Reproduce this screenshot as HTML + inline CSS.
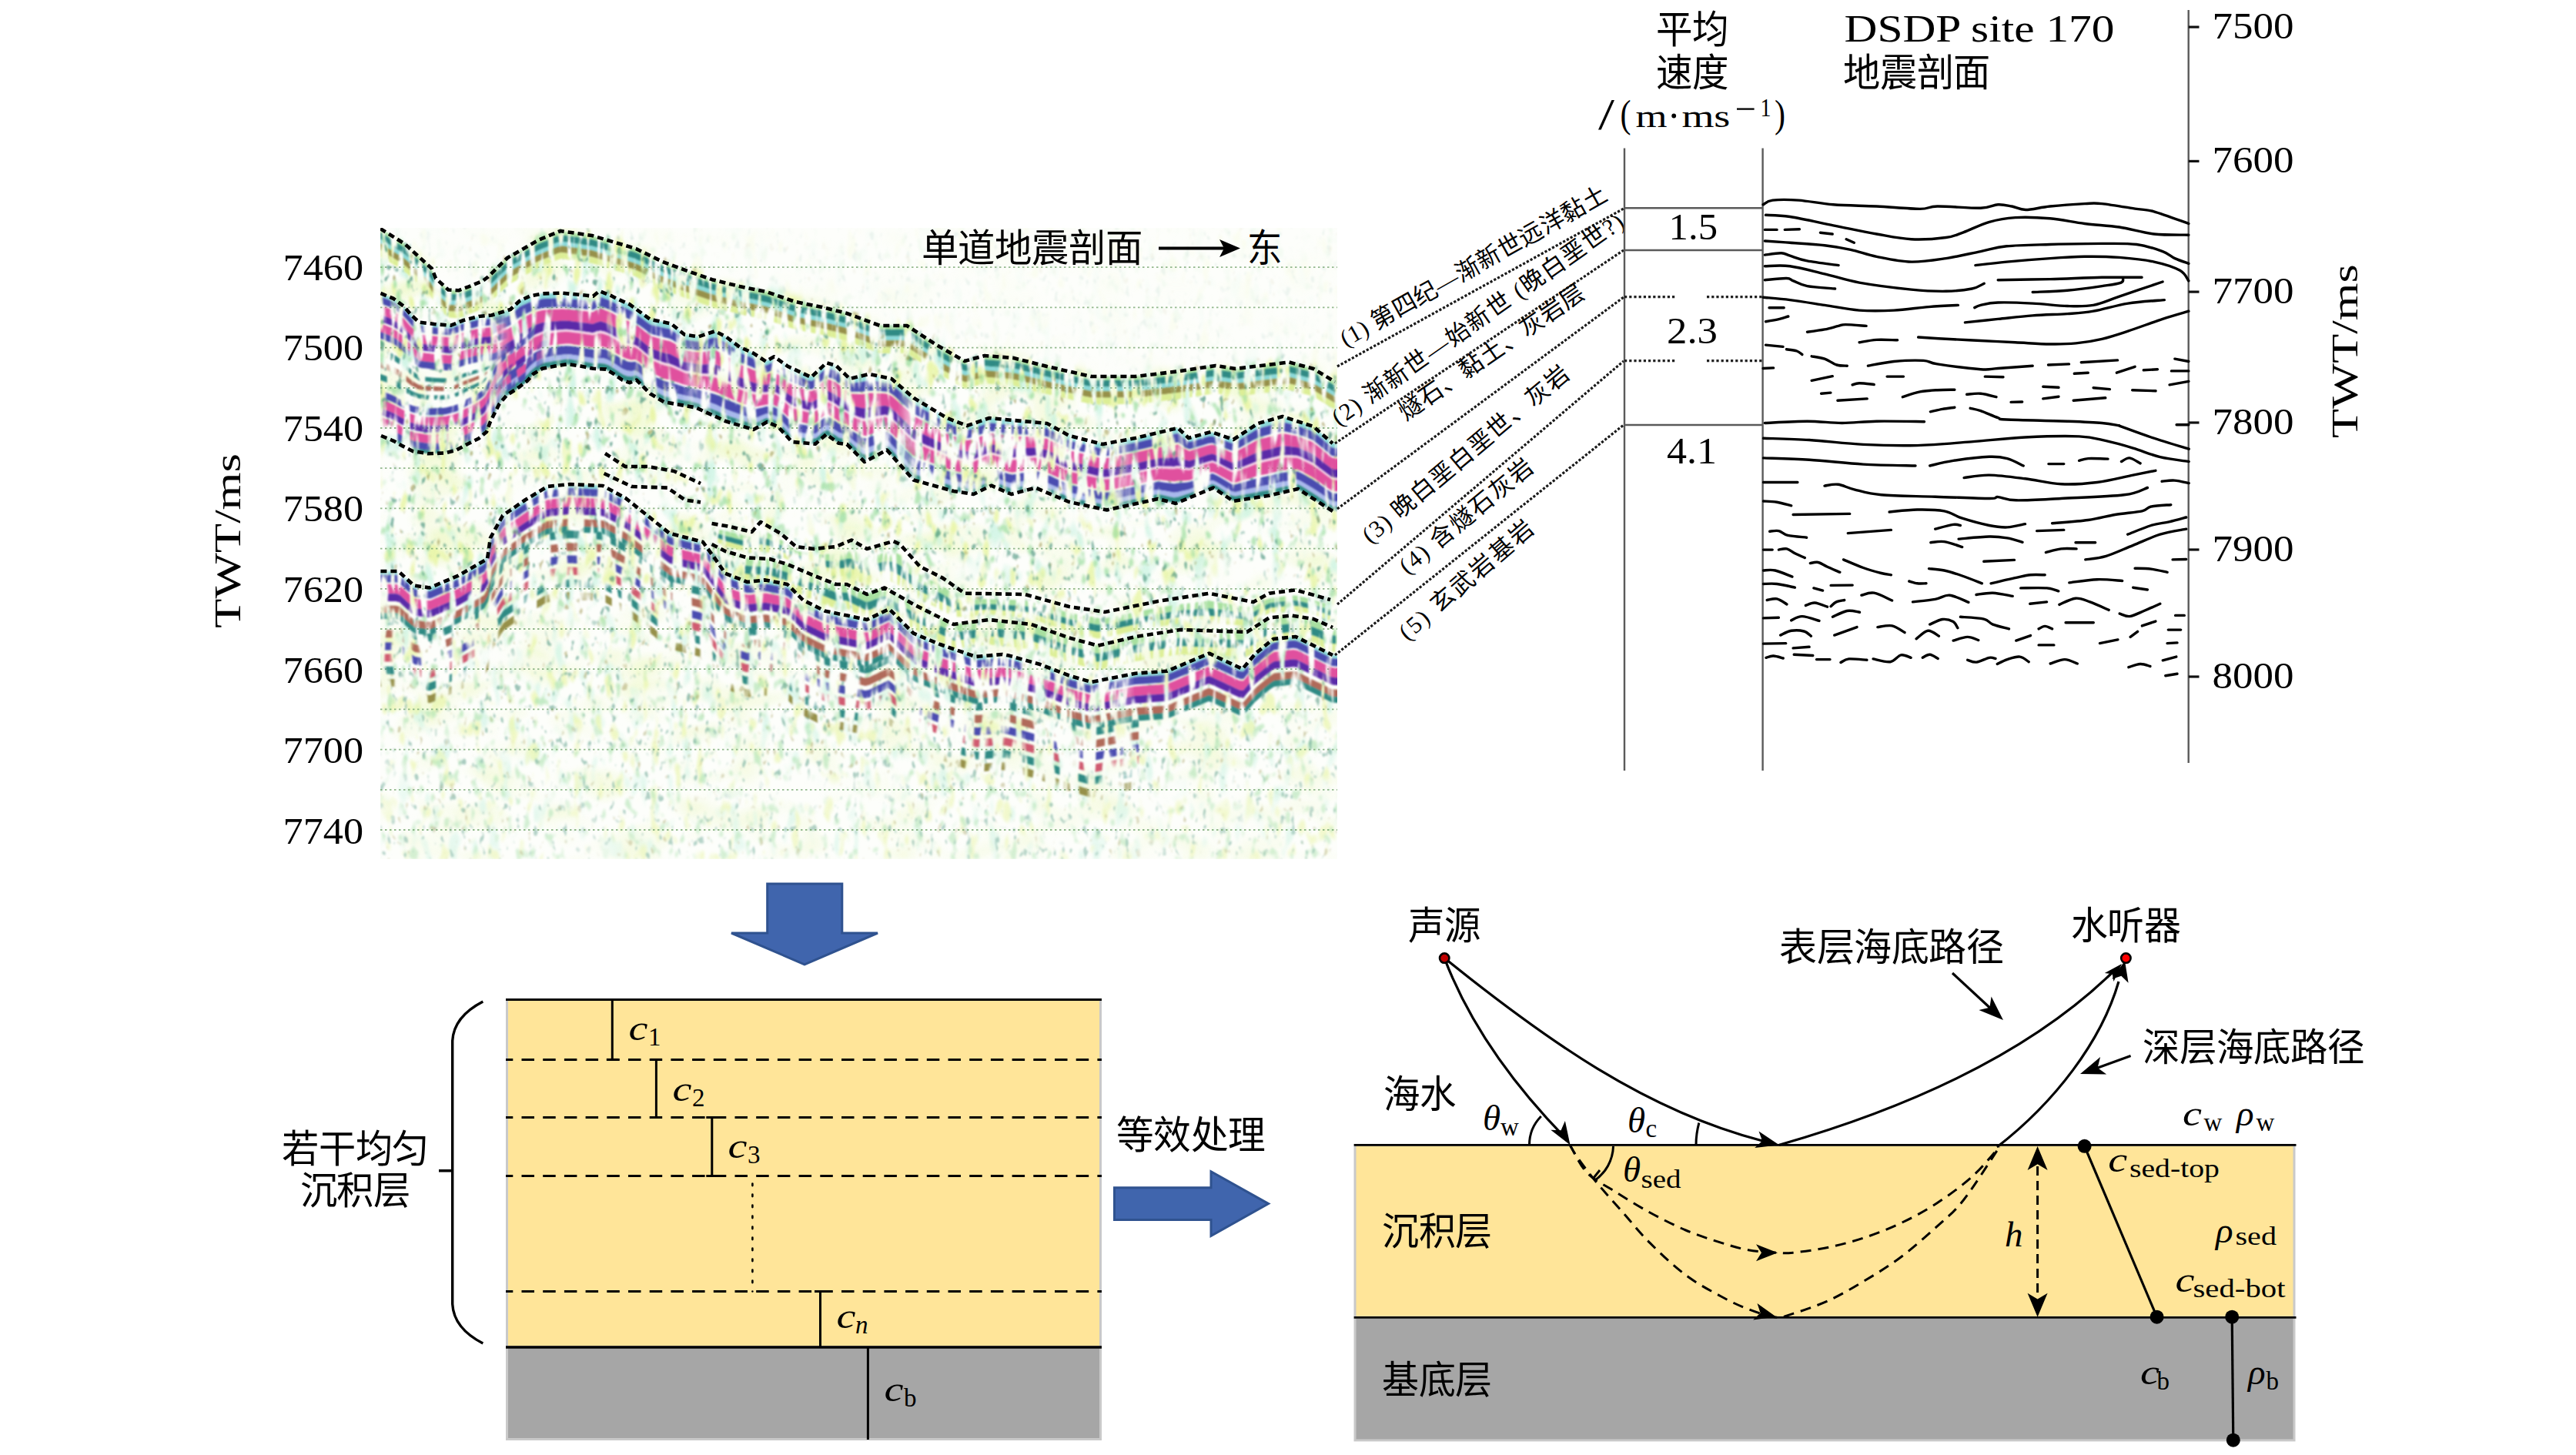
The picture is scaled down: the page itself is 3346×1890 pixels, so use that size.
<!DOCTYPE html><html lang="zh-CN"><head><meta charset="utf-8"><title>fig</title><style>html,body{margin:0;padding:0;background:#fff;}svg{display:block;}text{font-family:"Liberation Serif",serif;fill:#000;}</style></head><body>
<svg width="3346" height="1890" viewBox="0 0 3346 1890">
<rect width="3346" height="1890" fill="#fff"/>
<defs>
<clipPath id="sclip"><rect x="494" y="296" width="1243" height="820"/></clipPath>
<filter id="spk0" x="0" y="0" width="100%" height="100%" color-interpolation-filters="sRGB"><feTurbulence type="fractalNoise" baseFrequency="0.015 0.025" numOctaves="2" seed="41"/><feColorMatrix type="matrix" values="0 0 0 0 0.933  0 0 0 0 0.973  0 0 0 0 0.784  3.00 0 0 0 -1.41"/><feGaussianBlur stdDeviation="2.0"/></filter>
<filter id="spk4" x="0" y="0" width="100%" height="100%" color-interpolation-filters="sRGB"><feTurbulence type="fractalNoise" baseFrequency="0.06 0.025" numOctaves="2" seed="31"/><feColorMatrix type="matrix" values="0 0 0 0 0.745  0 0 0 0 0.941  0 0 0 0 0.863  6.00 0 0 0 -3.48"/><feGaussianBlur stdDeviation="1.5"/></filter>
<filter id="spk2" x="0" y="0" width="100%" height="100%" color-interpolation-filters="sRGB"><feTurbulence type="fractalNoise" baseFrequency="0.07 0.03" numOctaves="2" seed="11"/><feColorMatrix type="matrix" values="0 0 0 0 0.886  0 0 0 0 0.949  0 0 0 0 0.549  7.00 0 0 0 -4.20"/><feGaussianBlur stdDeviation="1.5"/></filter>
<filter id="spk1" x="0" y="0" width="100%" height="100%" color-interpolation-filters="sRGB"><feTurbulence type="fractalNoise" baseFrequency="0.09 0.05" numOctaves="2" seed="3"/><feColorMatrix type="matrix" values="0 0 0 0 0.549  0 0 0 0 0.843  0 0 0 0 0.569  8.00 0 0 0 -4.96"/><feGaussianBlur stdDeviation="1.5"/></filter>
<filter id="spk3" x="0" y="0" width="100%" height="100%" color-interpolation-filters="sRGB"><feTurbulence type="fractalNoise" baseFrequency="0.13 0.07" numOctaves="2" seed="23"/><feColorMatrix type="matrix" values="0 0 0 0 0.176  0 0 0 0 0.510  0 0 0 0 0.412  10.00 0 0 0 -6.70"/><feGaussianBlur stdDeviation="1.2"/></filter>
<filter id="spk5" x="0" y="0" width="100%" height="100%" color-interpolation-filters="sRGB"><feTurbulence type="fractalNoise" baseFrequency="0.12 0.07" numOctaves="2" seed="57"/><feColorMatrix type="matrix" values="0 0 0 0 0.549  0 0 0 0 0.510  0 0 0 0 0.196  10.00 0 0 0 -7.10"/><feGaussianBlur stdDeviation="1.2"/></filter>
<filter id="brkL" x="-2%" y="-2%" width="104%" height="104%" color-interpolation-filters="sRGB"><feTurbulence type="fractalNoise" baseFrequency="0.10 0.015" numOctaves="2" seed="5" result="t"/><feColorMatrix in="t" type="matrix" values="0 0 0 0 0  0 0 0 0 0  0 0 0 0 0  0 0 0 -8.00 5.04" result="m"/><feComposite in="SourceGraphic" in2="m" operator="in" result="c"/><feGaussianBlur in="c" stdDeviation="1.3"/></filter>
<filter id="brkM" x="-2%" y="-2%" width="104%" height="104%" color-interpolation-filters="sRGB"><feTurbulence type="fractalNoise" baseFrequency="0.12 0.02" numOctaves="2" seed="9" result="t"/><feColorMatrix in="t" type="matrix" values="0 0 0 0 0  0 0 0 0 0  0 0 0 0 0  0 0 0 -8.00 4.48" result="m"/><feComposite in="SourceGraphic" in2="m" operator="in" result="c"/><feGaussianBlur in="c" stdDeviation="1.3"/></filter>
<filter id="brkH" x="-2%" y="-2%" width="104%" height="104%" color-interpolation-filters="sRGB"><feTurbulence type="fractalNoise" baseFrequency="0.14 0.025" numOctaves="2" seed="13" result="t"/><feColorMatrix in="t" type="matrix" values="0 0 0 0 0  0 0 0 0 0  0 0 0 0 0  0 0 0 -8.00 4.16" result="m"/><feComposite in="SourceGraphic" in2="m" operator="in" result="c"/><feGaussianBlur in="c" stdDeviation="1.2"/></filter>
<filter id="brkV" x="-2%" y="-2%" width="104%" height="104%" color-interpolation-filters="sRGB"><feTurbulence type="fractalNoise" baseFrequency="0.09 0.012" numOctaves="2" seed="17" result="t"/><feColorMatrix in="t" type="matrix" values="0 0 0 0 0  0 0 0 0 0  0 0 0 0 0  0 0 0 -9.00 4.23" result="m"/><feComposite in="SourceGraphic" in2="m" operator="in" result="c"/><feGaussianBlur in="c" stdDeviation="1.2"/></filter>
</defs>
<g clip-path="url(#sclip)">
<rect x="494" y="296" width="1243" height="820" fill="#fdfefb"/>
<defs><linearGradient id="fadeg" x1="0" y1="0" x2="0" y2="1"><stop offset="0" stop-color="#fff" stop-opacity="1"/><stop offset="0.55" stop-color="#fff" stop-opacity="0.85"/><stop offset="1" stop-color="#fff" stop-opacity="0.5"/></linearGradient><mask id="fadem" maskUnits="userSpaceOnUse" x="494" y="296" width="1243" height="820"><rect x="494" y="296" width="1243" height="820" fill="url(#fadeg)"/><rect x="494" y="296" width="1243" height="820" filter="url(#patchf)"/><polygon points="494,280 494,291 526,311 561,343 566,355.6 582.4,370.5 595.6,371.3 608.8,366.4 627,359 633.5,354 659,329 699,306 728,294 769,300 826,317 860.7,334 889.3,344.7 925,357.2 960.8,366 996.5,373.3 1032.3,385.8 1068,393 1100,401 1143,417 1178,417 1215.5,441.5 1253,463 1279,456 1316.5,459 1360,470 1417.5,483 1475,483 1533,476 1579,469 1605,473 1674.5,464.5 1706,473 1734,490 1745,470 1745,280" fill="#000" fill-opacity="0.88" filter="url(#mblur)"/></mask><filter id="patchf" x="0" y="0" width="100%" height="100%" color-interpolation-filters="sRGB"><feTurbulence type="fractalNoise" baseFrequency="0.011 0.018" numOctaves="2" seed="77"/><feColorMatrix type="matrix" values="0 0 0 0 0  0 0 0 0 0  0 0 0 0 0  4 0 0 0 -2.2"/></filter><filter id="mblur" x="-5%" y="-5%" width="110%" height="110%"><feGaussianBlur stdDeviation="5"/></filter></defs>
<g mask="url(#fadem)">
<rect x="494" y="296" width="1243" height="820" filter="url(#spk0)" opacity="0.90"/>
<rect x="494" y="296" width="1243" height="820" filter="url(#spk4)" opacity="0.70"/>
<rect x="494" y="296" width="1243" height="820" filter="url(#spk2)" opacity="0.75"/>
<rect x="494" y="296" width="1243" height="820" filter="url(#spk1)" opacity="0.70"/>
<rect x="494" y="296" width="1243" height="820" filter="url(#spk3)" opacity="0.65"/>
<rect x="494" y="296" width="1243" height="820" filter="url(#spk5)" opacity="0.55"/>
</g>
<line x1="494" y1="347.2" x2="1737" y2="347.2" stroke="#7aa874" stroke-width="1.8" stroke-dasharray="2.5 3.5" opacity="0.8"/>
<line x1="494" y1="399.4" x2="1737" y2="399.4" stroke="#7aa874" stroke-width="1.8" stroke-dasharray="2.5 3.5" opacity="0.8"/>
<line x1="494" y1="451.6" x2="1737" y2="451.6" stroke="#7aa874" stroke-width="1.8" stroke-dasharray="2.5 3.5" opacity="0.8"/>
<line x1="494" y1="503.8" x2="1737" y2="503.8" stroke="#7aa874" stroke-width="1.8" stroke-dasharray="2.5 3.5" opacity="0.8"/>
<line x1="494" y1="556.0" x2="1737" y2="556.0" stroke="#7aa874" stroke-width="1.8" stroke-dasharray="2.5 3.5" opacity="0.8"/>
<line x1="494" y1="608.2" x2="1737" y2="608.2" stroke="#7aa874" stroke-width="1.8" stroke-dasharray="2.5 3.5" opacity="0.8"/>
<line x1="494" y1="660.4" x2="1737" y2="660.4" stroke="#7aa874" stroke-width="1.8" stroke-dasharray="2.5 3.5" opacity="0.8"/>
<line x1="494" y1="712.6" x2="1737" y2="712.6" stroke="#7aa874" stroke-width="1.8" stroke-dasharray="2.5 3.5" opacity="0.8"/>
<line x1="494" y1="764.8" x2="1737" y2="764.8" stroke="#7aa874" stroke-width="1.8" stroke-dasharray="2.5 3.5" opacity="0.8"/>
<line x1="494" y1="817.0" x2="1737" y2="817.0" stroke="#7aa874" stroke-width="1.8" stroke-dasharray="2.5 3.5" opacity="0.8"/>
<line x1="494" y1="869.2" x2="1737" y2="869.2" stroke="#7aa874" stroke-width="1.8" stroke-dasharray="2.5 3.5" opacity="0.8"/>
<line x1="494" y1="921.4" x2="1737" y2="921.4" stroke="#7aa874" stroke-width="1.8" stroke-dasharray="2.5 3.5" opacity="0.8"/>
<line x1="494" y1="973.6" x2="1737" y2="973.6" stroke="#7aa874" stroke-width="1.8" stroke-dasharray="2.5 3.5" opacity="0.8"/>
<line x1="494" y1="1025.8" x2="1737" y2="1025.8" stroke="#7aa874" stroke-width="1.8" stroke-dasharray="2.5 3.5" opacity="0.8"/>
<line x1="494" y1="1078.0" x2="1737" y2="1078.0" stroke="#7aa874" stroke-width="1.8" stroke-dasharray="2.5 3.5" opacity="0.8"/>
<defs><linearGradient id="cxAg" gradientUnits="userSpaceOnUse" x1="489" y1="0" x2="664" y2="0"><stop offset="0" stop-color="#fff" stop-opacity="1"/><stop offset="0.0000" stop-color="#fff" stop-opacity="1"/><stop offset="0.8400" stop-color="#fff" stop-opacity="1"/><stop offset="1" stop-color="#fff" stop-opacity="0"/></linearGradient><mask id="cxA" maskUnits="userSpaceOnUse" x="489" y="0" width="175" height="1890"><rect x="489" y="0" width="175" height="1890" fill="url(#cxAg)"/></mask><linearGradient id="cxB1g" gradientUnits="userSpaceOnUse" x1="636" y1="0" x2="914" y2="0"><stop offset="0" stop-color="#fff" stop-opacity="0"/><stop offset="0.1007" stop-color="#fff" stop-opacity="1"/><stop offset="0.8993" stop-color="#fff" stop-opacity="1"/><stop offset="1" stop-color="#fff" stop-opacity="0"/></linearGradient><mask id="cxB1" maskUnits="userSpaceOnUse" x="636" y="0" width="278" height="1890"><rect x="636" y="0" width="278" height="1890" fill="url(#cxB1g)"/></mask><linearGradient id="cxB2g" gradientUnits="userSpaceOnUse" x1="886" y1="0" x2="1194" y2="0"><stop offset="0" stop-color="#fff" stop-opacity="0"/><stop offset="0.0909" stop-color="#fff" stop-opacity="1"/><stop offset="0.9091" stop-color="#fff" stop-opacity="1"/><stop offset="1" stop-color="#fff" stop-opacity="0"/></linearGradient><mask id="cxB2" maskUnits="userSpaceOnUse" x="886" y="0" width="308" height="1890"><rect x="886" y="0" width="308" height="1890" fill="url(#cxB2g)"/></mask><linearGradient id="cxBg" gradientUnits="userSpaceOnUse" x1="636" y1="0" x2="1194" y2="0"><stop offset="0" stop-color="#fff" stop-opacity="0"/><stop offset="0.0502" stop-color="#fff" stop-opacity="1"/><stop offset="0.9498" stop-color="#fff" stop-opacity="1"/><stop offset="1" stop-color="#fff" stop-opacity="0"/></linearGradient><mask id="cxB" maskUnits="userSpaceOnUse" x="636" y="0" width="558" height="1890"><rect x="636" y="0" width="558" height="1890" fill="url(#cxBg)"/></mask><linearGradient id="cxCg" gradientUnits="userSpaceOnUse" x1="1166" y1="0" x2="1474" y2="0"><stop offset="0" stop-color="#fff" stop-opacity="0"/><stop offset="0.0909" stop-color="#fff" stop-opacity="1"/><stop offset="0.9091" stop-color="#fff" stop-opacity="1"/><stop offset="1" stop-color="#fff" stop-opacity="0"/></linearGradient><mask id="cxC" maskUnits="userSpaceOnUse" x="1166" y="0" width="308" height="1890"><rect x="1166" y="0" width="308" height="1890" fill="url(#cxCg)"/></mask><linearGradient id="cxDg" gradientUnits="userSpaceOnUse" x1="1446" y1="0" x2="1745" y2="0"><stop offset="0" stop-color="#fff" stop-opacity="0"/><stop offset="0.0936" stop-color="#fff" stop-opacity="1"/><stop offset="1.0000" stop-color="#fff" stop-opacity="1"/><stop offset="1" stop-color="#fff" stop-opacity="1"/></linearGradient><mask id="cxD" maskUnits="userSpaceOnUse" x="1446" y="0" width="299" height="1890"><rect x="1446" y="0" width="299" height="1890" fill="url(#cxDg)"/></mask><linearGradient id="cxA7g" gradientUnits="userSpaceOnUse" x1="489" y1="0" x2="714" y2="0"><stop offset="0" stop-color="#fff" stop-opacity="1"/><stop offset="0.0000" stop-color="#fff" stop-opacity="1"/><stop offset="0.8756" stop-color="#fff" stop-opacity="1"/><stop offset="1" stop-color="#fff" stop-opacity="0"/></linearGradient><mask id="cxA7" maskUnits="userSpaceOnUse" x="489" y="0" width="225" height="1890"><rect x="489" y="0" width="225" height="1890" fill="url(#cxA7g)"/></mask></defs>
<g filter="url(#brkM)">
<polygon points="494,297 499,300.1 504,303.2 509,306.4 514,309.5 519,312.6 524,315.8 529,319.7 534,324.3 539,328.9 544,333.5 549,338 554,342.6 559,347.2 564,356.6 569,364.3 574,368.9 579,373.4 584,376.6 589,376.9 594,377.2 599,376 604,374.2 609,372.3 614,370.3 619,368.3 624,366.2 629,363.5 634,359.5 639,354.6 644,349.7 649,344.8 654,339.9 659,335 664,332.1 669,329.2 674,326.4 679,323.5 684,320.6 689,317.8 694,314.9 699,312 704,309.9 709,307.9 714,305.8 719,303.7 724,301.7 729,300.1 734,300.9 739,301.6 744,302.3 749,303.1 754,303.8 759,304.5 764,305.3 769,306 774,307.5 779,309 784,310.5 789,312 794,313.5 799,314.9 804,316.4 809,317.9 814,319.4 819,320.9 824,322.4 829,324.5 834,326.9 839,329.4 844,331.8 849,334.3 854,336.7 859,339.2 864,341.2 869,343.1 874,345 879,346.8 884,348.7 889,350.6 894,352.3 899,354.1 904,355.8 909,357.6 914,359.3 919,361.1 924,362.8 929,364.2 934,365.4 939,366.6 944,367.9 949,369.1 954,370.3 959,371.6 964,372.7 969,373.7 974,374.7 979,375.7 984,376.7 989,377.8 994,378.8 999,380.2 1004,381.9 1009,383.7 1014,385.4 1019,387.2 1024,388.9 1029,390.6 1034,392.1 1039,393.2 1044,394.2 1049,395.2 1054,396.2 1059,397.2 1064,398.2 1069,399.2 1074,400.5 1079,401.8 1084,403 1089,404.2 1094,405.5 1099,406.8 1104,408.5 1109,410.3 1114,412.2 1119,414.1 1124,415.9 1129,417.8 1134,419.7 1139,421.5 1144,423 1149,423 1154,423 1159,423 1164,423 1169,423 1174,423 1179,423.7 1184,426.9 1189,430.2 1194,433.5 1199,436.7 1204,440 1209,443.3 1214,446.5 1219,449.5 1224,452.4 1229,455.2 1234,458.1 1239,461 1244,463.8 1249,466.7 1254,468.7 1259,467.4 1264,466 1269,464.7 1274,463.3 1279,462 1284,462.4 1289,462.8 1294,463.2 1299,463.6 1304,464 1309,464.4 1314,464.8 1319,465.6 1324,466.9 1329,468.2 1334,469.4 1339,470.7 1344,472 1349,473.2 1354,474.5 1359,475.7 1364,476.9 1369,478 1374,479.2 1379,480.3 1384,481.4 1389,482.6 1394,483.7 1399,484.8 1404,485.9 1409,487.1 1414,488.2 1419,489 1424,489 1429,489 1434,489 1439,489 1444,489 1449,489 1454,489 1459,489 1464,489 1469,489 1474,489 1479,488.5 1484,487.9 1489,487.3 1494,486.7 1499,486.1 1504,485.5 1509,484.9 1514,484.3 1519,483.7 1524,483.1 1529,482.5 1534,481.8 1539,481.1 1544,480.3 1549,479.6 1554,478.8 1559,478 1564,477.3 1569,476.5 1574,475.8 1579,475 1584,475.8 1589,476.5 1594,477.3 1599,478.1 1604,478.8 1609,478.5 1614,477.9 1619,477.3 1624,476.7 1629,476.1 1634,475.5 1639,474.8 1644,474.2 1649,473.6 1654,473 1659,472.4 1664,471.8 1669,471.2 1674,470.6 1679,471.7 1684,473.1 1689,474.4 1694,475.8 1699,477.1 1704,478.5 1709,480.8 1714,483.9 1719,486.9 1724,489.9 1729,493 1734,496 1734,501 1729,498 1724,495 1719,491.9 1714,488.9 1709,485.8 1704,483.5 1699,482.1 1694,480.8 1689,479.4 1684,478.1 1679,476.7 1674,475.6 1669,476.2 1664,476.8 1659,477.4 1654,478 1649,478.6 1644,479.3 1639,479.9 1634,480.5 1629,481.1 1624,481.7 1619,482.3 1614,482.9 1609,483.5 1604,483.9 1599,483.1 1594,482.3 1589,481.6 1584,480.8 1579,480 1574,480.8 1569,481.5 1564,482.3 1559,483.1 1554,483.8 1549,484.6 1544,485.3 1539,486.1 1534,486.9 1529,487.5 1524,488.1 1519,488.7 1514,489.3 1509,489.9 1504,490.5 1499,491.1 1494,491.7 1489,492.3 1484,492.9 1479,493.5 1474,494 1469,494 1464,494 1459,494 1454,494 1449,494 1444,494 1439,494 1434,494 1429,494 1424,494 1419,494 1414,493.2 1409,492.1 1404,491 1399,489.8 1394,488.7 1389,487.6 1384,486.4 1379,485.3 1374,484.2 1369,483.1 1364,481.9 1359,480.8 1354,479.5 1349,478.2 1344,477 1339,475.7 1334,474.4 1329,473.2 1324,471.9 1319,470.7 1314,469.8 1309,469.4 1304,469 1299,468.6 1294,468.2 1289,467.8 1284,467.4 1279,467 1274,468.4 1269,469.7 1264,471.1 1259,472.4 1254,473.8 1249,471.7 1244,468.9 1239,466 1234,463.1 1229,460.3 1224,457.4 1219,454.5 1214,451.5 1209,448.3 1204,445 1199,441.7 1194,438.5 1189,435.2 1184,431.9 1179,428.7 1174,428 1169,428 1164,428 1159,428 1154,428 1149,428 1144,428 1139,426.5 1134,424.7 1129,422.8 1124,421 1119,419.1 1114,417.2 1109,415.4 1104,413.5 1099,411.8 1094,410.5 1089,409.3 1084,408 1079,406.8 1074,405.5 1069,404.3 1064,403.2 1059,402.2 1054,401.2 1049,400.2 1044,399.2 1039,398.2 1034,397.2 1029,395.7 1024,393.9 1019,392.2 1014,390.4 1009,388.7 1004,386.9 999,385.2 994,383.8 989,382.8 984,381.8 979,380.7 974,379.7 969,378.7 964,377.7 959,376.6 954,375.4 949,374.1 944,372.9 939,371.7 934,370.4 929,369.2 924,367.9 919,366.1 914,364.4 909,362.6 904,360.9 899,359.1 894,357.4 889,355.6 884,353.7 879,351.9 874,350 869,348.1 864,346.3 859,344.2 854,341.7 849,339.3 844,336.8 839,334.4 834,331.9 829,329.5 824,327.4 819,325.9 814,324.4 809,323 804,321.5 799,320 794,318.5 789,317 784,315.5 779,314 774,312.5 769,311 764,310.3 759,309.6 754,308.8 749,308.1 744,307.4 739,306.6 734,305.9 729,305.2 724,306.7 719,308.7 714,310.8 709,312.9 704,315 699,317 694,319.9 689,322.8 684,325.6 679,328.5 674,331.4 669,334.3 664,337.1 659,340 654,344.9 649,349.8 644,354.7 639,359.6 634,364.5 629,368.5 624,371.2 619,373.3 614,375.3 609,377.3 604,379.2 599,381.1 594,382.2 589,381.9 584,381.6 579,378.4 574,373.9 569,369.3 564,361.6 559,352.2 554,347.6 549,343.1 544,338.5 539,333.9 534,329.3 529,324.8 524,320.8 519,317.6 514,314.5 509,311.4 504,308.3 499,305.1 494,302" fill="#a8e0a0"/>
<polygon points="494,302 499,305.1 504,308.3 509,311.4 514,314.5 519,317.6 524,320.8 529,324.8 534,329.3 539,333.9 544,338.5 549,343.1 554,347.6 559,352.2 564,361.6 569,369.3 574,373.9 579,378.4 584,381.6 589,381.9 594,382.2 599,381.1 604,379.2 609,377.3 614,375.3 619,373.3 624,371.2 629,368.5 634,364.5 639,359.6 644,354.7 649,349.8 654,344.9 659,340 664,337.1 669,334.3 674,331.4 679,328.5 684,325.6 689,322.8 694,319.9 699,317 704,315 709,312.9 714,310.8 719,308.7 724,306.7 729,305.2 734,305.9 739,306.6 744,307.4 749,308.1 754,308.8 759,309.6 764,310.3 769,311 774,312.5 779,314 784,315.5 789,317 794,318.5 799,320 804,321.5 809,323 814,324.4 819,325.9 824,327.4 829,329.5 834,331.9 839,334.4 844,336.8 849,339.3 854,341.7 859,344.2 864,346.3 869,348.1 874,350 879,351.9 884,353.7 889,355.6 894,357.4 899,359.1 904,360.9 909,362.6 914,364.4 919,366.1 924,367.9 929,369.2 934,370.4 939,371.7 944,372.9 949,374.1 954,375.4 959,376.6 964,377.7 969,378.7 974,379.7 979,380.7 984,381.8 989,382.8 994,383.8 999,385.2 1004,386.9 1009,388.7 1014,390.4 1019,392.2 1024,393.9 1029,395.7 1034,397.2 1039,398.2 1044,399.2 1049,400.2 1054,401.2 1059,402.2 1064,403.2 1069,404.3 1074,405.5 1079,406.8 1084,408 1089,409.3 1094,410.5 1099,411.8 1104,413.5 1109,415.4 1114,417.2 1119,419.1 1124,421 1129,422.8 1134,424.7 1139,426.5 1144,428 1149,428 1154,428 1159,428 1164,428 1169,428 1174,428 1179,428.7 1184,431.9 1189,435.2 1194,438.5 1199,441.7 1204,445 1209,448.3 1214,451.5 1219,454.5 1224,457.4 1229,460.3 1234,463.1 1239,466 1244,468.9 1249,471.7 1254,473.8 1259,472.4 1264,471.1 1269,469.7 1274,468.4 1279,467 1284,467.4 1289,467.8 1294,468.2 1299,468.6 1304,469 1309,469.4 1314,469.8 1319,470.7 1324,471.9 1329,473.2 1334,474.4 1339,475.7 1344,477 1349,478.2 1354,479.5 1359,480.8 1364,481.9 1369,483.1 1374,484.2 1379,485.3 1384,486.4 1389,487.6 1394,488.7 1399,489.8 1404,491 1409,492.1 1414,493.2 1419,494 1424,494 1429,494 1434,494 1439,494 1444,494 1449,494 1454,494 1459,494 1464,494 1469,494 1474,494 1479,493.5 1484,492.9 1489,492.3 1494,491.7 1499,491.1 1504,490.5 1509,489.9 1514,489.3 1519,488.7 1524,488.1 1529,487.5 1534,486.9 1539,486.1 1544,485.3 1549,484.6 1554,483.8 1559,483.1 1564,482.3 1569,481.5 1574,480.8 1579,480 1584,480.8 1589,481.6 1594,482.3 1599,483.1 1604,483.9 1609,483.5 1614,482.9 1619,482.3 1624,481.7 1629,481.1 1634,480.5 1639,479.9 1644,479.3 1649,478.6 1654,478 1659,477.4 1664,476.8 1669,476.2 1674,475.6 1679,476.7 1684,478.1 1689,479.4 1694,480.8 1699,482.1 1704,483.5 1709,485.8 1714,488.9 1719,491.9 1724,495 1729,498 1734,501 1734,509.4 1729,506.4 1724,503.3 1719,500.3 1714,497.3 1709,494.2 1704,491.9 1699,490.5 1694,489.2 1689,487.8 1684,486.5 1679,485.1 1674,484 1669,484.6 1664,485.2 1659,485.8 1654,486.4 1649,487 1644,487.6 1639,488.2 1634,488.8 1629,489.5 1624,490.1 1619,490.7 1614,491.3 1609,491.9 1604,492.2 1599,491.5 1594,490.7 1589,489.9 1584,489.2 1579,488.4 1574,489.2 1569,489.9 1564,490.7 1559,491.4 1554,492.2 1549,493 1544,493.7 1539,494.5 1534,495.2 1529,495.9 1524,496.5 1519,497.1 1514,497.7 1509,498.3 1504,498.9 1499,499.5 1494,500.1 1489,500.7 1484,501.3 1479,501.9 1474,502.4 1469,502.4 1464,502.4 1459,502.4 1454,502.4 1449,502.4 1444,502.4 1439,502.4 1434,502.4 1429,502.4 1424,502.4 1419,502.4 1414,501.6 1409,500.5 1404,499.3 1399,498.2 1394,497.1 1389,496 1384,494.8 1379,493.7 1374,492.6 1369,491.4 1364,490.3 1359,489.1 1354,487.9 1349,486.6 1344,485.3 1339,484.1 1334,482.8 1329,481.6 1324,480.3 1319,479 1314,478.2 1309,477.8 1304,477.4 1299,477 1294,476.6 1289,476.2 1284,475.8 1279,475.4 1274,476.7 1269,478.1 1264,479.4 1259,480.8 1254,482.1 1249,480.1 1244,477.2 1239,474.4 1234,471.5 1229,468.6 1224,465.8 1219,462.9 1214,459.9 1209,456.6 1204,453.4 1199,450.1 1194,446.8 1189,443.6 1184,440.3 1179,437 1174,436.4 1169,436.4 1164,436.4 1159,436.4 1154,436.4 1149,436.4 1144,436.4 1139,434.9 1134,433 1129,431.2 1124,429.3 1119,427.5 1114,425.6 1109,423.7 1104,421.9 1099,420.1 1094,418.9 1089,417.6 1084,416.4 1079,415.1 1074,413.9 1069,412.6 1064,411.6 1059,410.6 1054,409.6 1049,408.6 1044,407.6 1039,406.5 1034,405.5 1029,404 1024,402.3 1019,400.6 1014,398.8 1009,397.1 1004,395.3 999,393.6 994,392.2 989,391.2 984,390.1 979,389.1 974,388.1 969,387.1 964,386 959,385 954,383.7 949,382.5 944,381.3 939,380 934,378.8 929,377.6 924,376.2 919,374.5 914,372.7 909,371 904,369.2 899,367.5 894,365.7 889,364 884,362.1 879,360.2 874,358.4 869,356.5 864,354.6 859,352.6 854,350.1 849,347.7 844,345.2 839,342.8 834,340.3 829,337.9 824,335.8 819,334.3 814,332.8 809,331.3 804,329.8 799,328.3 794,326.9 789,325.4 784,323.9 779,322.4 774,320.9 769,319.4 764,318.7 759,317.9 754,317.2 749,316.5 744,315.7 739,315 734,314.3 729,313.5 724,315.1 719,317.1 714,319.2 709,321.3 704,323.3 699,325.4 694,328.3 689,331.1 684,334 679,336.9 674,339.8 669,342.6 664,345.5 659,348.4 654,353.3 649,358.2 644,363.1 639,368 634,372.9 629,376.9 624,379.6 619,381.6 614,383.7 609,385.7 604,387.6 599,389.4 594,390.6 589,390.3 584,390 579,386.8 574,382.3 569,377.7 564,370 559,360.6 554,356 549,351.4 544,346.9 539,342.3 534,337.7 529,333.1 524,329.1 519,326 514,322.9 509,319.8 504,316.6 499,313.5 494,310.4" fill="#2f8a84"/>
<polygon points="494,310.4 499,313.5 504,316.6 509,319.8 514,322.9 519,326 524,329.1 529,333.1 534,337.7 539,342.3 544,346.9 549,351.4 554,356 559,360.6 564,370 569,377.7 574,382.3 579,386.8 584,390 589,390.3 594,390.6 599,389.4 604,387.6 609,385.7 614,383.7 619,381.6 624,379.6 629,376.9 634,372.9 639,368 644,363.1 649,358.2 654,353.3 659,348.4 664,345.5 669,342.6 674,339.8 679,336.9 684,334 689,331.1 694,328.3 699,325.4 704,323.3 709,321.3 714,319.2 719,317.1 724,315.1 729,313.5 734,314.3 739,315 744,315.7 749,316.5 754,317.2 759,317.9 764,318.7 769,319.4 774,320.9 779,322.4 784,323.9 789,325.4 794,326.9 799,328.3 804,329.8 809,331.3 814,332.8 819,334.3 824,335.8 829,337.9 834,340.3 839,342.8 844,345.2 849,347.7 854,350.1 859,352.6 864,354.6 869,356.5 874,358.4 879,360.2 884,362.1 889,364 894,365.7 899,367.5 904,369.2 909,371 914,372.7 919,374.5 924,376.2 929,377.6 934,378.8 939,380 944,381.3 949,382.5 954,383.7 959,385 964,386 969,387.1 974,388.1 979,389.1 984,390.1 989,391.2 994,392.2 999,393.6 1004,395.3 1009,397.1 1014,398.8 1019,400.6 1024,402.3 1029,404 1034,405.5 1039,406.5 1044,407.6 1049,408.6 1054,409.6 1059,410.6 1064,411.6 1069,412.6 1074,413.9 1079,415.1 1084,416.4 1089,417.6 1094,418.9 1099,420.1 1104,421.9 1109,423.7 1114,425.6 1119,427.5 1124,429.3 1129,431.2 1134,433 1139,434.9 1144,436.4 1149,436.4 1154,436.4 1159,436.4 1164,436.4 1169,436.4 1174,436.4 1179,437 1184,440.3 1189,443.6 1194,446.8 1199,450.1 1204,453.4 1209,456.6 1214,459.9 1219,462.9 1224,465.8 1229,468.6 1234,471.5 1239,474.4 1244,477.2 1249,480.1 1254,482.1 1259,480.8 1264,479.4 1269,478.1 1274,476.7 1279,475.4 1284,475.8 1289,476.2 1294,476.6 1299,477 1304,477.4 1309,477.8 1314,478.2 1319,479 1324,480.3 1329,481.6 1334,482.8 1339,484.1 1344,485.3 1349,486.6 1354,487.9 1359,489.1 1364,490.3 1369,491.4 1374,492.6 1379,493.7 1384,494.8 1389,496 1394,497.1 1399,498.2 1404,499.3 1409,500.5 1414,501.6 1419,502.4 1424,502.4 1429,502.4 1434,502.4 1439,502.4 1444,502.4 1449,502.4 1454,502.4 1459,502.4 1464,502.4 1469,502.4 1474,502.4 1479,501.9 1484,501.3 1489,500.7 1494,500.1 1499,499.5 1504,498.9 1509,498.3 1514,497.7 1519,497.1 1524,496.5 1529,495.9 1534,495.2 1539,494.5 1544,493.7 1549,493 1554,492.2 1559,491.4 1564,490.7 1569,489.9 1574,489.2 1579,488.4 1584,489.2 1589,489.9 1594,490.7 1599,491.5 1604,492.2 1609,491.9 1614,491.3 1619,490.7 1624,490.1 1629,489.5 1634,488.8 1639,488.2 1644,487.6 1649,487 1654,486.4 1659,485.8 1664,485.2 1669,484.6 1674,484 1679,485.1 1684,486.5 1689,487.8 1694,489.2 1699,490.5 1704,491.9 1709,494.2 1714,497.3 1719,500.3 1724,503.3 1729,506.4 1734,509.4 1734,515.3 1729,512.2 1724,509.2 1719,506.1 1714,503.1 1709,500.1 1704,497.7 1699,496.4 1694,495 1689,493.7 1684,492.3 1679,491 1674,489.8 1669,490.4 1664,491 1659,491.7 1654,492.3 1649,492.9 1644,493.5 1639,494.1 1634,494.7 1629,495.3 1624,495.9 1619,496.5 1614,497.2 1609,497.8 1604,498.1 1599,497.3 1594,496.6 1589,495.8 1584,495 1579,494.3 1574,495 1569,495.8 1564,496.5 1559,497.3 1554,498.1 1549,498.8 1544,499.6 1539,500.3 1534,501.1 1529,501.7 1524,502.3 1519,502.9 1514,503.5 1509,504.2 1504,504.8 1499,505.4 1494,506 1489,506.6 1484,507.2 1479,507.8 1474,508.3 1469,508.3 1464,508.3 1459,508.3 1454,508.3 1449,508.3 1444,508.3 1439,508.3 1434,508.3 1429,508.3 1424,508.3 1419,508.3 1414,507.5 1409,506.3 1404,505.2 1399,504.1 1394,502.9 1389,501.8 1384,500.7 1379,499.6 1374,498.4 1369,497.3 1364,496.2 1359,495 1354,493.7 1349,492.5 1344,491.2 1339,489.9 1334,488.7 1329,487.4 1324,486.2 1319,484.9 1314,484.1 1309,483.7 1304,483.3 1299,482.9 1294,482.5 1289,482.1 1284,481.7 1279,481.3 1274,482.6 1269,483.9 1264,485.3 1259,486.6 1254,488 1249,486 1244,483.1 1239,480.2 1234,477.4 1229,474.5 1224,471.6 1219,468.8 1214,465.8 1209,462.5 1204,459.2 1199,456 1194,452.7 1189,449.4 1184,446.2 1179,442.9 1174,442.3 1169,442.3 1164,442.3 1159,442.3 1154,442.3 1149,442.3 1144,442.3 1139,440.8 1134,438.9 1129,437 1124,435.2 1119,433.3 1114,431.5 1109,429.6 1104,427.7 1099,426 1094,424.8 1089,423.5 1084,422.3 1079,421 1074,419.8 1069,418.5 1064,417.4 1059,416.4 1054,415.4 1049,414.4 1044,413.4 1039,412.4 1034,411.4 1029,409.9 1024,408.2 1019,406.4 1014,404.7 1009,402.9 1004,401.2 999,399.4 994,398 989,397 984,396 979,395 974,394 969,392.9 964,391.9 959,390.8 954,389.6 949,388.4 944,387.1 939,385.9 934,384.7 929,383.4 924,382.1 919,380.4 914,378.6 909,376.9 904,375.1 899,373.4 894,371.6 889,369.8 884,368 879,366.1 874,364.2 869,362.4 864,360.5 859,358.4 854,356 849,353.5 844,351.1 839,348.6 834,346.2 829,343.7 824,341.7 819,340.2 814,338.7 809,337.2 804,335.7 799,334.2 794,332.7 789,331.2 784,329.7 779,328.2 774,326.7 769,325.3 764,324.5 759,323.8 754,323.1 749,322.3 744,321.6 739,320.9 734,320.1 729,319.4 724,320.9 719,323 714,325 709,327.1 704,329.2 699,331.3 694,334.1 689,337 684,339.9 679,342.8 674,345.6 669,348.5 664,351.4 659,354.3 654,359.2 649,364.1 644,369 639,373.9 634,378.8 629,382.7 624,385.5 619,387.5 614,389.5 609,391.6 604,393.4 599,395.3 594,396.5 589,396.2 584,395.9 579,392.7 574,388.1 569,383.6 564,375.8 559,366.4 554,361.9 549,357.3 544,352.7 539,348.1 534,343.6 529,339 524,335 519,331.9 514,328.8 509,325.6 504,322.5 499,319.4 494,316.3" fill="#8ad8d8"/>
<polygon points="494,316.3 499,319.4 504,322.5 509,325.6 514,328.8 519,331.9 524,335 529,339 534,343.6 539,348.1 544,352.7 549,357.3 554,361.9 559,366.4 564,375.8 569,383.6 574,388.1 579,392.7 584,395.9 589,396.2 594,396.5 599,395.3 604,393.4 609,391.6 614,389.5 619,387.5 624,385.5 629,382.7 634,378.8 639,373.9 644,369 649,364.1 654,359.2 659,354.3 664,351.4 669,348.5 674,345.6 679,342.8 684,339.9 689,337 694,334.1 699,331.3 704,329.2 709,327.1 714,325 719,323 724,320.9 729,319.4 734,320.1 739,320.9 744,321.6 749,322.3 754,323.1 759,323.8 764,324.5 769,325.3 774,326.7 779,328.2 784,329.7 789,331.2 794,332.7 799,334.2 804,335.7 809,337.2 814,338.7 819,340.2 824,341.7 829,343.7 834,346.2 839,348.6 844,351.1 849,353.5 854,356 859,358.4 864,360.5 869,362.4 874,364.2 879,366.1 884,368 889,369.8 894,371.6 899,373.4 904,375.1 909,376.9 914,378.6 919,380.4 924,382.1 929,383.4 934,384.7 939,385.9 944,387.1 949,388.4 954,389.6 959,390.8 964,391.9 969,392.9 974,394 979,395 984,396 989,397 994,398 999,399.4 1004,401.2 1009,402.9 1014,404.7 1019,406.4 1024,408.2 1029,409.9 1034,411.4 1039,412.4 1044,413.4 1049,414.4 1054,415.4 1059,416.4 1064,417.4 1069,418.5 1074,419.8 1079,421 1084,422.3 1089,423.5 1094,424.8 1099,426 1104,427.7 1109,429.6 1114,431.5 1119,433.3 1124,435.2 1129,437 1134,438.9 1139,440.8 1144,442.3 1149,442.3 1154,442.3 1159,442.3 1164,442.3 1169,442.3 1174,442.3 1179,442.9 1184,446.2 1189,449.4 1194,452.7 1199,456 1204,459.2 1209,462.5 1214,465.8 1219,468.8 1224,471.6 1229,474.5 1234,477.4 1239,480.2 1244,483.1 1249,486 1254,488 1259,486.6 1264,485.3 1269,483.9 1274,482.6 1279,481.3 1284,481.7 1289,482.1 1294,482.5 1299,482.9 1304,483.3 1309,483.7 1314,484.1 1319,484.9 1324,486.2 1329,487.4 1334,488.7 1339,489.9 1344,491.2 1349,492.5 1354,493.7 1359,495 1364,496.2 1369,497.3 1374,498.4 1379,499.6 1384,500.7 1389,501.8 1394,502.9 1399,504.1 1404,505.2 1409,506.3 1414,507.5 1419,508.3 1424,508.3 1429,508.3 1434,508.3 1439,508.3 1444,508.3 1449,508.3 1454,508.3 1459,508.3 1464,508.3 1469,508.3 1474,508.3 1479,507.8 1484,507.2 1489,506.6 1494,506 1499,505.4 1504,504.8 1509,504.2 1514,503.5 1519,502.9 1524,502.3 1529,501.7 1534,501.1 1539,500.3 1544,499.6 1549,498.8 1554,498.1 1559,497.3 1564,496.5 1569,495.8 1574,495 1579,494.3 1584,495 1589,495.8 1594,496.6 1599,497.3 1604,498.1 1609,497.8 1614,497.2 1619,496.5 1624,495.9 1629,495.3 1634,494.7 1639,494.1 1644,493.5 1649,492.9 1654,492.3 1659,491.7 1664,491 1669,490.4 1674,489.8 1679,491 1684,492.3 1689,493.7 1694,495 1699,496.4 1704,497.7 1709,500.1 1714,503.1 1719,506.1 1724,509.2 1729,512.2 1734,515.3 1734,523.6 1729,520.6 1724,517.6 1719,514.5 1714,511.5 1709,508.4 1704,506.1 1699,504.7 1694,503.4 1689,502 1684,500.7 1679,499.3 1674,498.2 1669,498.8 1664,499.4 1659,500 1654,500.6 1649,501.2 1644,501.9 1639,502.5 1634,503.1 1629,503.7 1624,504.3 1619,504.9 1614,505.5 1609,506.1 1604,506.5 1599,505.7 1594,504.9 1589,504.2 1584,503.4 1579,502.6 1574,503.4 1569,504.1 1564,504.9 1559,505.7 1554,506.4 1549,507.2 1544,508 1539,508.7 1534,509.5 1529,510.1 1524,510.7 1519,511.3 1514,511.9 1509,512.5 1504,513.1 1499,513.7 1494,514.3 1489,514.9 1484,515.5 1479,516.1 1474,516.6 1469,516.6 1464,516.6 1459,516.6 1454,516.6 1449,516.6 1444,516.6 1439,516.6 1434,516.6 1429,516.6 1424,516.6 1419,516.6 1414,515.8 1409,514.7 1404,513.6 1399,512.4 1394,511.3 1389,510.2 1384,509.1 1379,507.9 1374,506.8 1369,505.7 1364,504.5 1359,503.4 1354,502.1 1349,500.8 1344,499.6 1339,498.3 1334,497.1 1329,495.8 1324,494.5 1319,493.3 1314,492.4 1309,492 1304,491.6 1299,491.2 1294,490.8 1289,490.4 1284,490 1279,489.6 1274,491 1269,492.3 1264,493.7 1259,495 1254,496.4 1249,494.3 1244,491.5 1239,488.6 1234,485.7 1229,482.9 1224,480 1219,477.1 1214,474.1 1209,470.9 1204,467.6 1199,464.3 1194,461.1 1189,457.8 1184,454.5 1179,451.3 1174,450.6 1169,450.6 1164,450.6 1159,450.6 1154,450.6 1149,450.6 1144,450.6 1139,449.1 1134,447.3 1129,445.4 1124,443.6 1119,441.7 1114,439.8 1109,438 1104,436.1 1099,434.4 1094,433.1 1089,431.9 1084,430.6 1079,429.4 1074,428.1 1069,426.9 1064,425.8 1059,424.8 1054,423.8 1049,422.8 1044,421.8 1039,420.8 1034,419.8 1029,418.3 1024,416.5 1019,414.8 1014,413 1009,411.3 1004,409.5 999,407.8 994,406.4 989,405.4 984,404.4 979,403.3 974,402.3 969,401.3 964,400.3 959,399.2 954,398 949,396.7 944,395.5 939,394.3 934,393 929,391.8 924,390.5 919,388.7 914,387 909,385.2 904,383.5 899,381.7 894,380 889,378.2 884,376.3 879,374.5 874,372.6 869,370.7 864,368.9 859,366.8 854,364.3 849,361.9 844,359.4 839,357 834,354.5 829,352.1 824,350 819,348.5 814,347 809,345.6 804,344.1 799,342.6 794,341.1 789,339.6 784,338.1 779,336.6 774,335.1 769,333.6 764,332.9 759,332.2 754,331.4 749,330.7 744,330 739,329.2 734,328.5 729,327.8 724,329.3 719,331.4 714,333.4 709,335.5 704,337.6 699,339.6 694,342.5 689,345.4 684,348.3 679,351.1 674,354 669,356.9 664,359.8 659,362.6 654,367.5 649,372.4 644,377.3 639,382.2 634,387.1 629,391.1 624,393.8 619,395.9 614,397.9 609,399.9 604,401.8 599,403.7 594,404.8 589,404.5 584,404.2 579,401 574,396.5 569,392 564,384.2 559,374.8 554,370.2 549,365.7 544,361.1 539,356.5 534,351.9 529,347.4 524,343.4 519,340.3 514,337.1 509,334 504,330.9 499,327.8 494,324.6" fill="#96904a"/>
<polygon points="494,324.6 499,327.8 504,330.9 509,334 514,337.1 519,340.3 524,343.4 529,347.4 534,351.9 539,356.5 544,361.1 549,365.7 554,370.2 559,374.8 564,384.2 569,392 574,396.5 579,401 584,404.2 589,404.5 594,404.8 599,403.7 604,401.8 609,399.9 614,397.9 619,395.9 624,393.8 629,391.1 634,387.1 639,382.2 644,377.3 649,372.4 654,367.5 659,362.6 664,359.8 669,356.9 674,354 679,351.1 684,348.3 689,345.4 694,342.5 699,339.6 704,337.6 709,335.5 714,333.4 719,331.4 724,329.3 729,327.8 734,328.5 739,329.2 744,330 749,330.7 754,331.4 759,332.2 764,332.9 769,333.6 774,335.1 779,336.6 784,338.1 789,339.6 794,341.1 799,342.6 804,344.1 809,345.6 814,347 819,348.5 824,350 829,352.1 834,354.5 839,357 844,359.4 849,361.9 854,364.3 859,366.8 864,368.9 869,370.7 874,372.6 879,374.5 884,376.3 889,378.2 894,380 899,381.7 904,383.5 909,385.2 914,387 919,388.7 924,390.5 929,391.8 934,393 939,394.3 944,395.5 949,396.7 954,398 959,399.2 964,400.3 969,401.3 974,402.3 979,403.3 984,404.4 989,405.4 994,406.4 999,407.8 1004,409.5 1009,411.3 1014,413 1019,414.8 1024,416.5 1029,418.3 1034,419.8 1039,420.8 1044,421.8 1049,422.8 1054,423.8 1059,424.8 1064,425.8 1069,426.9 1074,428.1 1079,429.4 1084,430.6 1089,431.9 1094,433.1 1099,434.4 1104,436.1 1109,438 1114,439.8 1119,441.7 1124,443.6 1129,445.4 1134,447.3 1139,449.1 1144,450.6 1149,450.6 1154,450.6 1159,450.6 1164,450.6 1169,450.6 1174,450.6 1179,451.3 1184,454.5 1189,457.8 1194,461.1 1199,464.3 1204,467.6 1209,470.9 1214,474.1 1219,477.1 1224,480 1229,482.9 1234,485.7 1239,488.6 1244,491.5 1249,494.3 1254,496.4 1259,495 1264,493.7 1269,492.3 1274,491 1279,489.6 1284,490 1289,490.4 1294,490.8 1299,491.2 1304,491.6 1309,492 1314,492.4 1319,493.3 1324,494.5 1329,495.8 1334,497.1 1339,498.3 1344,499.6 1349,500.8 1354,502.1 1359,503.4 1364,504.5 1369,505.7 1374,506.8 1379,507.9 1384,509.1 1389,510.2 1394,511.3 1399,512.4 1404,513.6 1409,514.7 1414,515.8 1419,516.6 1424,516.6 1429,516.6 1434,516.6 1439,516.6 1444,516.6 1449,516.6 1454,516.6 1459,516.6 1464,516.6 1469,516.6 1474,516.6 1479,516.1 1484,515.5 1489,514.9 1494,514.3 1499,513.7 1504,513.1 1509,512.5 1514,511.9 1519,511.3 1524,510.7 1529,510.1 1534,509.5 1539,508.7 1544,508 1549,507.2 1554,506.4 1559,505.7 1564,504.9 1569,504.1 1574,503.4 1579,502.6 1584,503.4 1589,504.2 1594,504.9 1599,505.7 1604,506.5 1609,506.1 1614,505.5 1619,504.9 1624,504.3 1629,503.7 1634,503.1 1639,502.5 1644,501.9 1649,501.2 1654,500.6 1659,500 1664,499.4 1669,498.8 1674,498.2 1679,499.3 1684,500.7 1689,502 1694,503.4 1699,504.7 1704,506.1 1709,508.4 1714,511.5 1719,514.5 1724,517.6 1729,520.6 1734,523.6 1734,532 1729,529 1724,525.9 1719,522.9 1714,519.9 1709,516.8 1704,514.5 1699,513.1 1694,511.8 1689,510.4 1684,509.1 1679,507.7 1674,506.6 1669,507.2 1664,507.8 1659,508.4 1654,509 1649,509.6 1644,510.2 1639,510.8 1634,511.5 1629,512.1 1624,512.7 1619,513.3 1614,513.9 1609,514.5 1604,514.8 1599,514.1 1594,513.3 1589,512.5 1584,511.8 1579,511 1574,511.8 1569,512.5 1564,513.3 1559,514 1554,514.8 1549,515.6 1544,516.3 1539,517.1 1534,517.8 1529,518.5 1524,519.1 1519,519.7 1514,520.3 1509,520.9 1504,521.5 1499,522.1 1494,522.7 1489,523.3 1484,523.9 1479,524.5 1474,525 1469,525 1464,525 1459,525 1454,525 1449,525 1444,525 1439,525 1434,525 1429,525 1424,525 1419,525 1414,524.2 1409,523.1 1404,521.9 1399,520.8 1394,519.7 1389,518.6 1384,517.4 1379,516.3 1374,515.2 1369,514 1364,512.9 1359,511.7 1354,510.5 1349,509.2 1344,508 1339,506.7 1334,505.4 1329,504.2 1324,502.9 1319,501.6 1314,500.8 1309,500.4 1304,500 1299,499.6 1294,499.2 1289,498.8 1284,498.4 1279,498 1274,499.3 1269,500.7 1264,502 1259,503.4 1254,504.7 1249,502.7 1244,499.8 1239,497 1234,494.1 1229,491.2 1224,488.4 1219,485.5 1214,482.5 1209,479.3 1204,476 1199,472.7 1194,469.5 1189,466.2 1184,462.9 1179,459.7 1174,459 1169,459 1164,459 1159,459 1154,459 1149,459 1144,459 1139,457.5 1134,455.7 1129,453.8 1124,451.9 1119,450.1 1114,448.2 1109,446.3 1104,444.5 1099,442.8 1094,441.5 1089,440.2 1084,439 1079,437.8 1074,436.5 1069,435.2 1064,434.2 1059,433.2 1054,432.2 1049,431.2 1044,430.2 1039,429.2 1034,428.1 1029,426.6 1024,424.9 1019,423.2 1014,421.4 1009,419.7 1004,417.9 999,416.2 994,414.8 989,413.8 984,412.7 979,411.7 974,410.7 969,409.7 964,408.7 959,407.6 954,406.3 949,405.1 944,403.9 939,402.6 934,401.4 929,400.2 924,398.8 919,397.1 914,395.3 909,393.6 904,391.8 899,390.1 894,388.3 889,386.6 884,384.7 879,382.8 874,381 869,379.1 864,377.2 859,375.2 854,372.7 849,370.3 844,367.8 839,365.4 834,362.9 829,360.5 824,358.4 819,356.9 814,355.4 809,353.9 804,352.4 799,350.9 794,349.5 789,348 784,346.5 779,345 774,343.5 769,342 764,341.3 759,340.5 754,339.8 749,339.1 744,338.3 739,337.6 734,336.9 729,336.1 724,337.7 719,339.7 714,341.8 709,343.9 704,345.9 699,348 694,350.9 689,353.8 684,356.6 679,359.5 674,362.4 669,365.2 664,368.1 659,371 654,375.9 649,380.8 644,385.7 639,390.6 634,395.5 629,399.5 624,402.2 619,404.3 614,406.3 609,408.3 604,410.2 599,412 594,413.2 589,412.9 584,412.6 579,409.4 574,404.9 569,400.3 564,392.6 559,383.2 554,378.6 549,374 544,369.5 539,364.9 534,360.3 529,355.7 524,351.8 519,348.6 514,345.5 509,342.4 504,339.2 499,336.1 494,333" fill="#dcee96"/>
</g>
<g mask="url(#cxB1)"><g filter="url(#brkL)">
<polygon points="630,410.3 635,409.8 640,409 645,407.5 650,406 655,404.4 660,402.9 665,400.1 670,395.4 675,390.9 680,388.5 685,386.1 690,384.3 695,383.3 700,382.3 705,381.4 710,381.2 715,381.1 720,380.9 725,380.7 730,380.7 735,381.2 740,381.7 745,382.1 750,382.6 755,383.1 760,383.6 765,384.1 770,384.7 775,381 780,378.5 785,380.6 790,382.6 795,384.7 800,387.3 805,389.6 810,391.8 815,394.1 820,396.9 825,400.6 830,404.2 835,407.9 840,411.6 845,415.1 850,416.1 855,417.1 860,418.1 865,419.1 870,420.1 875,423.2 880,427.2 885,431.2 890,434.8 895,435.6 900,436.3 905,437.1 910,436.5 915,434.8 920,433.1 920,440.5 915,441.9 910,443.3 905,443.7 900,442.9 895,442.2 890,441.4 885,438 880,434.2 875,430.4 870,427.5 865,426.5 860,425.4 855,424.3 850,423.1 845,422 840,418.4 835,414.6 830,410.9 825,407.3 820,404 815,401.4 810,399.1 805,396.8 800,394.5 795,391.8 790,389.7 785,387.7 780,385.7 775,388 770,391.4 765,390.8 760,390.3 755,389.7 750,389.2 745,388.7 740,388.2 735,387.8 730,387.4 725,387.5 720,387.7 715,387.9 710,388.1 705,388.3 700,389.4 695,390.5 690,391.8 685,393.9 680,396.3 675,398.8 670,403.3 665,407.9 660,410.7 655,412.5 650,414.3 645,416.4 640,418.5 635,420 630,421.2" fill="#8ad8d8"/>
<polygon points="630,421.2 635,420 640,418.5 645,416.4 650,414.3 655,412.5 660,410.7 665,407.9 670,403.3 675,398.8 680,396.3 685,393.9 690,391.8 695,390.5 700,389.4 705,388.3 710,388.1 715,387.9 720,387.7 725,387.5 730,387.4 735,387.8 740,388.2 745,388.7 750,389.2 755,389.7 760,390.3 765,390.8 770,391.4 775,388 780,385.7 785,387.7 790,389.7 795,391.8 800,394.5 805,396.8 810,399.1 815,401.4 820,404 825,407.3 830,410.9 835,414.6 840,418.4 845,422 850,423.1 855,424.3 860,425.4 865,426.5 870,427.5 875,430.4 880,434.2 885,438 890,441.4 895,442.2 900,442.9 905,443.7 910,443.3 915,441.9 920,440.5 920,452.9 915,453.8 910,454.7 905,454.8 900,453.9 895,453.1 890,452.4 885,449.3 880,445.9 875,442.5 870,439.8 865,438.8 860,437.6 855,436.2 850,434.9 845,433.5 840,429.7 835,425.8 830,421.9 825,418.4 820,415.9 815,413.5 810,411.3 805,408.9 800,406.4 795,403.7 790,401.5 785,399.4 780,397.7 775,399.7 770,402.6 765,402 760,401.4 755,400.7 750,400.2 745,399.7 740,399.1 735,398.7 730,398.5 725,398.7 720,399 715,399.3 710,399.6 705,399.9 700,401.2 695,402.5 690,404.2 685,406.8 680,409.4 675,412.1 670,416.5 665,420.9 660,423.7 655,425.9 650,428.3 645,431.2 640,434.3 635,437.1 630,439.3" fill="#4a4cb0"/>
<polygon points="630,443.8 635,441.3 640,438.2 645,434.9 650,431.8 655,429.3 660,427 665,424.1 670,419.7 675,415.4 680,412.7 685,410 690,407.3 695,405.5 700,404.1 705,402.8 710,402.5 715,402.1 720,401.8 725,401.5 730,401.3 735,401.5 740,401.9 745,402.4 750,402.9 755,403.5 760,404.1 765,404.7 770,405.4 775,402.6 780,400.7 785,402.4 790,404.4 795,406.6 800,409.4 805,411.9 810,414.4 815,416.6 820,418.8 825,421.2 830,424.6 835,428.6 840,432.5 845,436.3 850,437.8 855,439.2 860,440.7 865,441.9 870,442.9 875,445.5 880,448.8 885,452.1 890,455.1 895,455.9 900,456.7 905,457.5 910,457.6 915,456.8 920,455.9 920,473.2 915,473.4 910,473.5 905,473 900,472.1 895,471.3 890,470.5 885,468 880,465.2 875,462.4 870,460.1 865,459.2 860,457.8 855,456 850,454.2 845,452.4 840,448.4 835,444.2 830,440.1 825,436.9 820,435.4 815,433.6 810,431.4 805,428.9 800,426.1 795,423.2 790,420.8 785,418.9 780,417.5 775,418.9 770,421.1 765,420.3 760,419.6 755,418.9 750,418.3 745,417.7 740,417.1 735,416.8 730,416.8 725,417.2 720,417.6 715,418.1 710,418.5 705,419 700,420.6 695,422.3 690,424.7 685,428.1 680,431 675,434 670,438.2 665,442.3 660,445.2 655,448.1 650,451.3 645,455.6 640,460.3 635,465.2 630,469.2" fill="#e0509e"/>
<polygon points="630,469.2 635,465.2 640,460.3 645,455.6 650,451.3 655,448.1 660,445.2 665,442.3 670,438.2 675,434 680,431 685,428.1 690,424.7 695,422.3 700,420.6 705,419 710,418.5 715,418.1 720,417.6 725,417.2 730,416.8 735,416.8 740,417.1 745,417.7 750,418.3 755,418.9 760,419.6 765,420.3 770,421.1 775,418.9 780,417.5 785,418.9 790,420.8 795,423.2 800,426.1 805,428.9 810,431.4 815,433.6 820,435.4 825,436.9 830,440.1 835,444.2 840,448.4 845,452.4 850,454.2 855,456 860,457.8 865,459.2 870,460.1 875,462.4 880,465.2 885,468 890,470.5 895,471.3 900,472.1 905,473 910,473.5 915,473.4 920,473.2 920,485.6 915,485.3 910,485 905,484.1 900,483.1 895,482.3 890,481.5 885,479.3 880,476.8 875,474.4 870,472.4 865,471.5 860,470 855,468 850,466 845,463.9 840,459.7 835,455.4 830,451.1 825,448 820,447.2 815,445.7 810,443.6 805,441 800,438.1 795,435.1 790,432.6 785,430.6 780,429.5 775,430.6 770,432.2 765,431.5 760,430.7 755,430 750,429.3 745,428.7 740,428.1 735,427.8 730,428 725,428.4 720,428.9 715,429.4 710,430 705,430.6 700,432.4 695,434.4 690,437.2 685,441 680,444.1 675,447.2 670,451.3 665,455.2 660,458.2 655,461.5 650,465.2 645,470.3 640,476.1 635,482.2 630,487.4" fill="#5a2aa8"/>
<polygon points="630,487.4 635,482.2 640,476.1 645,470.3 650,465.2 655,461.5 660,458.2 665,455.2 670,451.3 675,447.2 680,444.1 685,441 690,437.2 695,434.4 700,432.4 705,430.6 710,430 715,429.4 720,428.9 725,428.4 730,428 735,427.8 740,428.1 745,428.7 750,429.3 755,430 760,430.7 765,431.5 770,432.2 775,430.6 780,429.5 785,430.6 790,432.6 795,435.1 800,438.1 805,441 810,443.6 815,445.7 820,447.2 825,448 830,451.1 835,455.4 840,459.7 845,463.9 850,466 855,468 860,470 865,471.5 870,472.4 875,474.4 880,476.8 885,479.3 890,481.5 895,482.3 900,483.1 905,484.1 910,485 915,485.3 920,485.6 920,489.3 915,488.8 910,488.4 905,487.4 900,486.4 895,485.6 890,484.8 885,482.6 880,480.3 875,478 870,476.1 865,475.2 860,473.7 855,471.6 850,469.5 845,467.4 840,463.1 835,458.8 830,454.4 825,451.4 820,450.8 815,449.3 810,447.3 805,444.6 800,441.7 795,438.7 790,436.1 785,434.2 780,433.1 775,434.1 770,435.6 765,434.8 760,434 755,433.3 750,432.6 745,432 740,431.3 735,431.1 730,431.3 725,431.7 720,432.2 715,432.9 710,433.5 705,434.1 700,435.9 695,438 690,440.9 685,444.8 680,448.1 675,451.2 670,455.3 665,459.1 660,462.1 655,465.5 650,469.4 645,474.8 640,480.8 635,487.3 630,492.8" fill="#f4d0e6"/>
<polygon points="630,492.8 635,487.3 640,480.8 645,474.8 650,469.4 655,465.5 660,462.1 665,459.1 670,455.3 675,451.2 680,448.1 685,444.8 690,440.9 695,438 700,435.9 705,434.1 710,433.5 715,432.9 720,432.2 725,431.7 730,431.3 735,431.1 740,431.3 745,432 750,432.6 755,433.3 760,434 765,434.8 770,435.6 775,434.1 780,433.1 785,434.2 790,436.1 795,438.7 800,441.7 805,444.6 810,447.3 815,449.3 820,450.8 825,451.4 830,454.4 835,458.8 840,463.1 845,467.4 850,469.5 855,471.6 860,473.7 865,475.2 870,476.1 875,478 880,480.3 885,482.6 890,484.8 895,485.6 900,486.4 905,487.4 910,488.4 915,488.8 920,489.3 920,506.6 915,505.5 910,504.4 905,502.9 900,501.8 895,501 890,500.1 885,498.5 880,496.7 875,494.9 870,493.4 865,492.4 860,490.8 855,488.3 850,485.9 845,483.5 840,479 835,474.4 830,469.8 825,467 820,467.4 815,466.3 810,464.3 805,461.6 800,458.4 795,455.3 790,452.6 785,450.7 780,449.9 775,450.4 770,451.3 765,450.4 760,449.6 755,448.7 750,448 745,447.3 740,446.6 735,446.5 730,446.9 725,447.4 720,448 715,448.8 710,449.5 705,450.3 700,452.5 695,454.8 690,458.3 685,462.9 680,466.4 675,469.8 670,473.7 665,477.3 660,480.4 655,484.3 650,488.9 645,495.5 640,502.9 635,511.2 630,518.2" fill="#e0509e"/>
<polygon points="630,522.8 635,515.4 640,506.9 645,499.2 650,492.4 655,487.7 660,483.6 665,480.5 670,477 675,473.1 680,469.7 685,466.1 690,461.5 695,457.8 700,455.4 705,453.2 710,452.4 715,451.6 720,450.9 725,450.2 730,449.7 735,449.2 740,449.4 745,450 750,450.7 755,451.4 760,452.3 765,453.2 770,454.1 775,453.3 780,452.9 785,453.6 790,455.5 795,458.2 800,461.4 805,464.6 810,467.4 815,469.4 820,470.3 825,469.8 830,472.6 835,477.2 840,481.9 845,486.4 850,488.9 855,491.3 860,493.8 865,495.5 870,496.4 875,497.9 880,499.6 885,501.3 890,502.9 895,503.7 900,504.6 905,505.7 910,507.2 915,508.4 920,509.7 920,522 915,520.3 910,518.6 905,516.8 900,515.6 895,514.7 890,513.8 885,512.6 880,511.3 875,509.9 870,508.7 865,507.8 860,506 855,503.3 850,500.6 845,497.9 840,493.2 835,488.4 830,483.6 825,480.9 820,482.1 815,481.5 810,479.6 805,476.7 800,473.3 795,470.1 790,467.3 785,465.4 780,464.9 775,465 770,465.3 765,464.3 760,463.4 755,462.5 750,461.7 745,461 740,460.3 735,460.2 730,460.8 725,461.4 720,462.2 715,463 710,463.9 705,464.8 700,467.2 695,469.8 690,473.9 685,479.1 680,482.8 675,486.4 670,490.1 665,493.5 660,496.6 655,501.1 650,506.4 645,514 640,522.7 635,532.4 630,540.9" fill="#4a4cb0"/>
<polygon points="630,540.9 635,532.4 640,522.7 645,514 650,506.4 655,501.1 660,496.6 665,493.5 670,490.1 675,486.4 680,482.8 685,479.1 690,473.9 695,469.8 700,467.2 705,464.8 710,463.9 715,463 720,462.2 725,461.4 730,460.8 735,460.2 740,460.3 745,461 750,461.7 755,462.5 760,463.4 765,464.3 770,465.3 775,465 780,464.9 785,465.4 790,467.3 795,470.1 800,473.3 805,476.7 810,479.6 815,481.5 820,482.1 825,480.9 830,483.6 835,488.4 840,493.2 845,497.9 850,500.6 855,503.3 860,506 865,507.8 870,508.7 875,509.9 880,511.3 885,512.6 890,513.8 895,514.7 900,515.6 905,516.8 910,518.6 915,520.3 920,522 920,529.4 915,527.5 910,525.5 905,523.4 900,522.2 895,521.3 890,520.4 885,519.4 880,518.3 875,517.2 870,516.1 865,515.2 860,513.4 855,510.5 850,507.6 845,504.8 840,500 835,495.1 830,490.2 825,487.6 820,489.2 815,488.8 810,486.9 805,483.9 800,480.5 795,477.2 790,474.3 785,472.4 780,472.1 775,472 770,472 765,471 760,470.1 755,469.1 750,468.3 745,467.6 740,466.8 735,466.8 730,467.5 725,468.2 720,468.9 715,469.9 710,470.8 705,471.7 700,474.3 695,477 690,481.4 685,486.8 680,490.6 675,494.3 670,498 665,501.3 660,504.4 655,509.1 650,514.7 645,522.8 640,532.1 635,542.7 630,551.8" fill="#a8b8ec"/>
<polygon points="630,551.8 635,542.7 640,532.1 645,522.8 650,514.7 655,509.1 660,504.4 665,501.3 670,498 675,494.3 680,490.6 685,486.8 690,481.4 695,477 700,474.3 705,471.7 710,470.8 715,469.9 720,468.9 725,468.2 730,467.5 735,466.8 740,466.8 745,467.6 750,468.3 755,469.1 760,470.1 765,471 770,472 775,472 780,472.1 785,472.4 790,474.3 795,477.2 800,480.5 805,483.9 810,486.9 815,488.8 820,489.2 825,487.6 830,490.2 835,495.1 840,500 845,504.8 850,507.6 855,510.5 860,513.4 865,515.2 870,516.1 875,517.2 880,518.3 885,519.4 890,520.4 895,521.3 900,522.2 905,523.4 910,525.5 915,527.5 920,529.4 920,536.9 915,534.6 910,532.3 905,530 900,528.8 895,527.9 890,527 885,526.1 880,525.3 875,524.4 870,523.5 865,522.6 860,520.7 855,517.7 850,514.7 845,511.7 840,506.8 835,501.8 830,496.8 825,494.3 820,496.4 815,496.1 810,494.2 805,491.2 800,487.7 795,484.3 790,481.4 785,479.5 780,479.3 775,479 770,478.7 765,477.7 760,476.7 755,475.7 750,474.9 745,474.1 740,473.4 735,473.4 730,474.1 725,474.9 720,475.7 715,476.7 710,477.7 705,478.7 700,481.3 695,484.2 690,488.8 685,494.5 680,498.5 675,502.3 670,505.9 665,509.1 660,512.3 655,517.2 650,523.1 645,531.7 640,541.6 635,552.9 630,562.7" fill="#2f8a84"/>
</g></g>
<g mask="url(#cxB2)"><g filter="url(#brkM)">
<polygon points="880,427.2 885,431.2 890,434.8 895,435.6 900,436.3 905,437.1 910,436.5 915,434.8 920,433.1 925,431.4 930,430.9 935,433.4 940,435.9 945,438.9 950,442.7 955,446.4 960,450.2 965,452.7 970,454.9 975,457.1 980,459.7 985,463 990,466.4 995,469.3 1000,466.5 1005,463.6 1010,466.5 1015,470 1020,473.5 1025,476.6 1030,478.9 1035,481.3 1040,483.6 1045,485.9 1050,488.3 1055,488.8 1060,484 1065,479.3 1070,474.5 1075,471.8 1080,473.2 1085,474.6 1090,478.7 1095,483.5 1100,488.3 1105,491.6 1110,490.4 1115,489.3 1120,488.1 1125,486.9 1130,486.2 1135,487.2 1140,488.3 1145,489.3 1150,490.3 1155,491.4 1160,493.7 1165,498 1170,502.3 1175,506.7 1180,511 1185,515.3 1190,518.8 1195,521.8 1200,524.9 1200,532.2 1195,529.3 1190,526.4 1185,522.9 1180,518.5 1175,514.1 1170,509.7 1165,505.3 1160,500.9 1155,498.3 1150,497.1 1145,496.4 1140,495.6 1135,494.8 1130,494.1 1125,494.9 1120,495.9 1115,496.6 1110,497.3 1105,498.1 1100,494.7 1095,490.2 1090,485.7 1085,481.6 1080,480 1075,478.4 1070,481.1 1065,485.9 1060,490.6 1055,495 1050,494.5 1045,492.3 1040,490.1 1035,487.9 1030,485.7 1025,483.3 1020,480 1015,476.3 1010,472.7 1005,469.9 1000,472.4 995,475 990,472.5 985,469.5 980,466.6 975,464.3 970,462.1 965,459.9 960,457.5 955,453.9 950,450.3 945,446.7 940,443.8 935,441.3 930,438.8 925,439.1 920,440.5 915,441.9 910,443.3 905,443.7 900,442.9 895,442.2 890,441.4 885,438 880,434.2" fill="#8ad8d8"/>
<polygon points="880,434.2 885,438 890,441.4 895,442.2 900,442.9 905,443.7 910,443.3 915,441.9 920,440.5 925,439.1 930,438.8 935,441.3 940,443.8 945,446.7 950,450.3 955,453.9 960,457.5 965,459.9 970,462.1 975,464.3 980,466.6 985,469.5 990,472.5 995,475 1000,472.4 1005,469.9 1010,472.7 1015,476.3 1020,480 1025,483.3 1030,485.7 1035,487.9 1040,490.1 1045,492.3 1050,494.5 1055,495 1060,490.6 1065,485.9 1070,481.1 1075,478.4 1080,480 1085,481.6 1090,485.7 1095,490.2 1100,494.7 1105,498.1 1110,497.3 1115,496.6 1120,495.9 1125,494.9 1130,494.1 1135,494.8 1140,495.6 1145,496.4 1150,497.1 1155,498.3 1160,500.9 1165,505.3 1170,509.7 1175,514.1 1180,518.5 1185,522.9 1190,526.4 1195,529.3 1200,532.2 1200,544.4 1195,541.6 1190,538.9 1185,535.5 1180,531 1175,526.4 1170,521.9 1165,517.3 1160,512.7 1155,509.8 1150,508.5 1145,508.2 1140,507.8 1135,507.5 1130,507.2 1125,508.3 1120,508.8 1115,508.8 1110,508.8 1105,508.8 1100,505.2 1095,501.2 1090,497.2 1085,493.3 1080,491.4 1075,489.6 1070,492.2 1065,496.8 1060,501.5 1055,505.4 1050,505 1045,503 1040,501 1035,499 1030,497.1 1025,494.4 1020,490.8 1015,486.9 1010,483.1 1005,480.4 1000,482.3 995,484.5 990,482.6 985,480.4 980,478.3 975,476.1 970,474.1 965,472 960,469.7 955,466.3 950,463 945,459.7 940,456.9 935,454.4 930,451.9 925,451.9 920,452.9 915,453.8 910,454.7 905,454.8 900,453.9 895,453.1 890,452.4 885,449.3 880,445.9" fill="#4a4cb0"/>
<polygon points="880,448.8 885,452.1 890,455.1 895,455.9 900,456.7 905,457.5 910,457.6 915,456.8 920,455.9 925,455.1 930,455.2 935,457.7 940,460.1 945,462.9 950,466.2 955,469.4 960,472.7 965,475 970,477 975,479.1 980,481.2 985,483.2 990,485.2 995,486.9 1000,484.8 1005,483 1010,485.8 1015,489.6 1020,493.5 1025,497.2 1030,499.9 1035,501.8 1040,503.7 1045,505.7 1050,507.6 1055,508.1 1060,504.2 1065,499.6 1070,494.9 1075,492.4 1080,494.3 1085,496.2 1090,500.1 1095,504 1100,507.9 1105,511.5 1110,511.7 1115,511.9 1120,512.1 1125,511.6 1130,510.4 1135,510.7 1140,510.9 1145,511.1 1150,511.3 1155,512.6 1160,515.7 1165,520.3 1170,524.9 1175,529.5 1180,534.1 1185,538.7 1190,542.1 1195,544.7 1200,547.4 1200,564.5 1195,562.1 1190,559.7 1185,556.5 1180,551.6 1175,546.8 1170,542 1165,537.2 1160,532.3 1155,528.7 1150,527.2 1145,527.6 1140,528 1135,528.4 1130,528.8 1125,530.3 1120,530.2 1115,529 1110,527.8 1105,526.6 1100,522.6 1095,519.5 1090,516.3 1085,512.5 1080,510.3 1075,508 1070,510.4 1065,515 1060,519.5 1055,522.7 1050,522.2 1045,520.6 1040,519 1035,517.4 1030,515.8 1025,512.7 1020,508.7 1015,504.4 1010,500.3 1005,497.7 1000,498.6 995,500.1 990,499.4 985,498.4 980,497.4 975,495.7 970,493.8 965,491.8 960,489.7 955,486.9 950,484 945,481.1 940,478.5 935,476.1 930,473.7 925,473.1 920,473.2 915,473.4 910,473.5 905,473 900,472.1 895,471.3 890,470.5 885,468 880,465.2" fill="#e0509e"/>
<polygon points="880,465.2 885,468 890,470.5 895,471.3 900,472.1 905,473 910,473.5 915,473.4 920,473.2 925,473.1 930,473.7 935,476.1 940,478.5 945,481.1 950,484 955,486.9 960,489.7 965,491.8 970,493.8 975,495.7 980,497.4 985,498.4 990,499.4 995,500.1 1000,498.6 1005,497.7 1010,500.3 1015,504.4 1020,508.7 1025,512.7 1030,515.8 1035,517.4 1040,519 1045,520.6 1050,522.2 1055,522.7 1060,519.5 1065,515 1070,510.4 1075,508 1080,510.3 1085,512.5 1090,516.3 1095,519.5 1100,522.6 1105,526.6 1110,527.8 1115,529 1120,530.2 1125,530.3 1130,528.8 1135,528.4 1140,528 1145,527.6 1150,527.2 1155,528.7 1160,532.3 1165,537.2 1170,542 1175,546.8 1180,551.6 1185,556.5 1190,559.7 1195,562.1 1200,564.5 1200,576.7 1195,574.5 1190,572.3 1185,569.1 1180,564.1 1175,559.2 1170,554.2 1165,549.2 1160,544.2 1155,540.2 1150,538.5 1145,539.4 1140,540.2 1135,541 1130,541.9 1125,543.6 1120,543.2 1115,541.2 1110,539.3 1105,537.3 1100,533.2 1095,530.5 1090,527.9 1085,524.2 1080,521.7 1075,519.1 1070,521.4 1065,525.9 1060,530.5 1055,533.1 1050,532.6 1045,531.2 1040,529.8 1035,528.5 1030,527.1 1025,523.8 1020,519.5 1015,515 1010,510.8 1005,508.2 1000,508.5 995,509.6 990,509.5 985,509.3 980,509.1 975,507.6 970,505.8 965,503.9 960,501.9 955,499.3 950,496.7 945,494.1 940,491.6 935,489.2 930,486.8 925,485.9 920,485.6 915,485.3 910,485 905,484.1 900,483.1 895,482.3 890,481.5 885,479.3 880,476.8" fill="#5a2aa8"/>
<polygon points="880,476.8 885,479.3 890,481.5 895,482.3 900,483.1 905,484.1 910,485 915,485.3 920,485.6 925,485.9 930,486.8 935,489.2 940,491.6 945,494.1 950,496.7 955,499.3 960,501.9 965,503.9 970,505.8 975,507.6 980,509.1 985,509.3 990,509.5 995,509.6 1000,508.5 1005,508.2 1010,510.8 1015,515 1020,519.5 1025,523.8 1030,527.1 1035,528.5 1040,529.8 1045,531.2 1050,532.6 1055,533.1 1060,530.5 1065,525.9 1070,521.4 1075,519.1 1080,521.7 1085,524.2 1090,527.9 1095,530.5 1100,533.2 1105,537.3 1110,539.3 1115,541.2 1120,543.2 1125,543.6 1130,541.9 1135,541 1140,540.2 1145,539.4 1150,538.5 1155,540.2 1160,544.2 1165,549.2 1170,554.2 1175,559.2 1180,564.1 1185,569.1 1190,572.3 1195,574.5 1200,576.7 1200,580.3 1195,578.2 1190,576 1185,572.9 1180,567.9 1175,562.9 1170,557.8 1165,552.8 1160,547.8 1155,543.7 1150,541.9 1145,542.9 1140,543.9 1135,544.8 1130,545.8 1125,547.6 1120,547.1 1115,544.9 1110,542.7 1105,540.6 1100,536.4 1095,533.9 1090,531.4 1085,527.7 1080,525.1 1075,522.5 1070,524.7 1065,529.2 1060,533.8 1055,536.2 1050,535.7 1045,534.4 1040,533.1 1035,531.8 1030,530.5 1025,527.2 1020,522.8 1015,518.2 1010,513.9 1005,511.4 1000,511.5 995,512.4 990,512.6 985,512.6 980,512.5 975,511.2 970,509.3 965,507.5 960,505.6 955,503 950,500.5 945,497.9 940,495.5 935,493.1 930,490.8 925,489.8 920,489.3 915,488.8 910,488.4 905,487.4 900,486.4 895,485.6 890,484.8 885,482.6 880,480.3" fill="#f4d0e6"/>
<polygon points="880,480.3 885,482.6 890,484.8 895,485.6 900,486.4 905,487.4 910,488.4 915,488.8 920,489.3 925,489.8 930,490.8 935,493.1 940,495.5 945,497.9 950,500.5 955,503 960,505.6 965,507.5 970,509.3 975,511.2 980,512.5 985,512.6 990,512.6 995,512.4 1000,511.5 1005,511.4 1010,513.9 1015,518.2 1020,522.8 1025,527.2 1030,530.5 1035,531.8 1040,533.1 1045,534.4 1050,535.7 1055,536.2 1060,533.8 1065,529.2 1070,524.7 1075,522.5 1080,525.1 1085,527.7 1090,531.4 1095,533.9 1100,536.4 1105,540.6 1110,542.7 1115,544.9 1120,547.1 1125,547.6 1130,545.8 1135,544.8 1140,543.9 1145,542.9 1150,541.9 1155,543.7 1160,547.8 1165,552.8 1170,557.8 1175,562.9 1180,567.9 1185,572.9 1190,576 1195,578.2 1200,580.3 1200,597.4 1195,595.5 1190,593.6 1185,590.7 1180,585.4 1175,580.2 1170,574.9 1165,569.7 1160,564.4 1155,559.7 1150,557.8 1145,559.4 1140,561 1135,562.6 1130,564.2 1125,566.3 1120,565.2 1115,562 1110,558.8 1105,555.6 1100,551.1 1095,549.3 1090,547.5 1085,544 1080,541 1075,538.1 1070,540.1 1065,544.6 1060,549.1 1055,550.8 1050,550.3 1045,549.3 1040,548.3 1035,547.3 1030,546.4 1025,542.7 1020,537.9 1015,533 1010,528.5 1005,526.1 1000,525.4 995,525.7 990,526.8 985,527.8 980,528.8 975,527.8 970,526.1 965,524.4 960,522.6 955,520.4 950,518.3 945,516.1 940,513.8 935,511.5 930,509.2 925,507.7 920,506.6 915,505.5 910,504.4 905,502.9 900,501.8 895,501 890,500.1 885,498.5 880,496.7" fill="#e0509e"/>
<polygon points="880,499.6 885,501.3 890,502.9 895,503.7 900,504.6 905,505.7 910,507.2 915,508.4 920,509.7 925,510.9 930,512.5 935,514.8 940,517.1 945,519.4 950,521.4 955,523.5 960,525.6 965,527.4 970,529.1 975,530.8 980,531.7 985,530.5 990,529.4 995,528.1 1000,527.9 1005,528.7 1010,531.1 1015,535.7 1020,540.6 1025,545.5 1030,549.2 1035,550.1 1040,551.1 1045,552 1050,552.9 1055,553.4 1060,551.8 1065,547.3 1070,542.9 1075,540.8 1080,543.9 1085,546.9 1090,550.4 1095,552.1 1100,553.8 1105,558.3 1110,561.7 1115,565.1 1120,568.5 1125,569.6 1130,567.4 1135,565.7 1140,564 1145,562.3 1150,560.6 1155,562.6 1160,567.4 1165,572.7 1170,578 1175,583.2 1180,588.5 1185,593.8 1190,596.8 1195,598.6 1200,600.4 1200,612.6 1195,611 1190,609.4 1185,606.5 1180,601 1175,595.6 1170,590.2 1165,584.7 1160,579.3 1155,574.1 1150,572 1145,574.1 1140,576.3 1135,578.4 1130,580.5 1125,582.9 1120,581.4 1115,577.3 1110,573.2 1105,569.1 1100,564.3 1095,563.2 1090,562 1085,558.6 1080,555.3 1075,552 1070,553.9 1065,558.3 1060,562.7 1055,563.8 1050,563.4 1045,562.7 1040,561.9 1035,561.2 1030,560.5 1025,556.6 1020,551.5 1015,546.3 1010,541.5 1005,539.2 1000,537.8 995,537.6 990,539.5 985,541.4 980,543.3 975,542.6 970,541 965,539.4 960,537.8 955,536 950,534.2 945,532.3 940,530.2 935,527.9 930,525.6 925,523.7 920,522 915,520.3 910,518.6 905,516.8 900,515.6 895,514.7 890,513.8 885,512.6 880,511.3" fill="#4a4cb0"/>
<polygon points="880,511.3 885,512.6 890,513.8 895,514.7 900,515.6 905,516.8 910,518.6 915,520.3 920,522 925,523.7 930,525.6 935,527.9 940,530.2 945,532.3 950,534.2 955,536 960,537.8 965,539.4 970,541 975,542.6 980,543.3 985,541.4 990,539.5 995,537.6 1000,537.8 1005,539.2 1010,541.5 1015,546.3 1020,551.5 1025,556.6 1030,560.5 1035,561.2 1040,561.9 1045,562.7 1050,563.4 1055,563.8 1060,562.7 1065,558.3 1070,553.9 1075,552 1080,555.3 1085,558.6 1090,562 1095,563.2 1100,564.3 1105,569.1 1110,573.2 1115,577.3 1120,581.4 1125,582.9 1130,580.5 1135,578.4 1140,576.3 1145,574.1 1150,572 1155,574.1 1160,579.3 1165,584.7 1170,590.2 1175,595.6 1180,601 1185,606.5 1190,609.4 1195,611 1200,612.6 1200,619.9 1195,618.4 1190,616.9 1185,614.1 1180,608.6 1175,603 1170,597.5 1165,591.9 1160,586.4 1155,581 1150,578.8 1145,581.2 1140,583.6 1135,586 1130,588.4 1125,590.9 1120,589.2 1115,584.7 1110,580.1 1105,575.5 1100,570.7 1095,569.8 1090,568.9 1085,565.6 1080,562.1 1075,558.7 1070,560.5 1065,564.9 1060,569.3 1055,570.1 1050,569.6 1045,569.1 1040,568.5 1035,567.9 1030,567.3 1025,563.3 1020,558 1015,552.6 1010,547.8 1005,545.5 1000,543.7 995,543.2 990,545.6 985,548 980,550.3 975,549.8 970,548.2 965,546.7 960,545.1 955,543.4 950,541.8 945,540.1 940,538.1 935,535.8 930,533.5 925,531.4 920,529.4 915,527.5 910,525.5 905,523.4 900,522.2 895,521.3 890,520.4 885,519.4 880,518.3" fill="#a8b8ec"/>
<polygon points="880,518.3 885,519.4 890,520.4 895,521.3 900,522.2 905,523.4 910,525.5 915,527.5 920,529.4 925,531.4 930,533.5 935,535.8 940,538.1 945,540.1 950,541.8 955,543.4 960,545.1 965,546.7 970,548.2 975,549.8 980,550.3 985,548 990,545.6 995,543.2 1000,543.7 1005,545.5 1010,547.8 1015,552.6 1020,558 1025,563.3 1030,567.3 1035,567.9 1040,568.5 1045,569.1 1050,569.6 1055,570.1 1060,569.3 1065,564.9 1070,560.5 1075,558.7 1080,562.1 1085,565.6 1090,568.9 1095,569.8 1100,570.7 1105,575.5 1110,580.1 1115,584.7 1120,589.2 1125,590.9 1130,588.4 1135,586 1140,583.6 1145,581.2 1150,578.8 1155,581 1160,586.4 1165,591.9 1170,597.5 1175,603 1180,608.6 1185,614.1 1190,616.9 1195,618.4 1200,619.9 1200,627.2 1195,625.8 1190,624.4 1185,621.7 1180,616.1 1175,610.4 1170,604.8 1165,599.2 1160,593.5 1155,587.9 1150,585.6 1145,588.2 1140,590.9 1135,593.6 1130,596.3 1125,598.9 1120,597 1115,592 1110,587 1105,582 1100,577 1095,576.4 1090,575.9 1085,572.6 1080,569 1075,565.4 1070,567.2 1065,571.5 1060,575.8 1055,576.3 1050,575.9 1045,575.5 1040,575 1035,574.6 1030,574.1 1025,569.9 1020,564.5 1015,559 1010,554 1005,551.8 1000,549.6 995,548.9 990,551.7 985,554.5 980,557.3 975,556.9 970,555.4 965,553.9 960,552.4 955,550.9 950,549.4 945,547.9 940,545.9 935,543.7 930,541.4 925,539.1 920,536.9 915,534.6 910,532.3 905,530 900,528.8 895,527.9 890,527 885,526.1 880,525.3" fill="#2f8a84"/>
</g></g>
<g mask="url(#cxC)"><g filter="url(#brkH)">
<polygon points="1160,493.7 1165,498 1170,502.3 1175,506.7 1180,511 1185,515.3 1190,518.8 1195,521.8 1200,524.9 1205,527.9 1210,530.9 1215,533.9 1220,537 1225,540 1230,543 1235,544.9 1240,546.8 1245,548.8 1250,550.7 1255,552.6 1260,551.6 1265,549.9 1270,548.2 1275,546.4 1280,544.7 1285,543 1290,543.5 1295,543.9 1300,544.4 1305,544.9 1310,545.3 1315,545.8 1320,546.3 1325,546.7 1330,547.2 1335,547.7 1340,548.1 1345,548.6 1350,549.1 1355,549.5 1360,550 1365,552.8 1370,555.5 1375,558.3 1380,561 1385,563.8 1390,566.3 1395,567.5 1400,568.8 1405,570.1 1410,571.4 1415,572.7 1420,573.9 1425,575.2 1430,576.5 1435,576.4 1440,575.5 1445,574.6 1450,573.7 1455,572.7 1460,571.8 1465,570.9 1470,569.9 1475,569 1480,567.8 1480,573.9 1475,575.1 1470,576 1465,577 1460,577.9 1455,578.9 1450,579.8 1445,580.7 1440,581.7 1435,582.5 1430,582.5 1425,581.2 1420,580 1415,578.7 1410,577.5 1405,576.2 1400,574.9 1395,573.7 1390,572.4 1385,570 1380,567.3 1375,564.6 1370,561.8 1365,559.1 1360,556.4 1355,555.8 1350,555.3 1345,554.7 1340,554.3 1335,554 1330,553.7 1325,553.3 1320,553 1315,552.6 1310,552.1 1305,551.5 1300,550.9 1295,550.4 1290,549.8 1285,549.4 1280,551.1 1275,552.9 1270,554.7 1265,556.5 1260,558 1255,558.9 1250,557.1 1245,555.2 1240,553.4 1235,551.5 1230,549.6 1225,546.7 1220,543.8 1215,540.9 1210,538 1205,535.1 1200,532.2 1195,529.3 1190,526.4 1185,522.9 1180,518.5 1175,514.1 1170,509.7 1165,505.3 1160,500.9" fill="#8ad8d8"/>
<polygon points="1160,500.9 1165,505.3 1170,509.7 1175,514.1 1180,518.5 1185,522.9 1190,526.4 1195,529.3 1200,532.2 1205,535.1 1210,538 1215,540.9 1220,543.8 1225,546.7 1230,549.6 1235,551.5 1240,553.4 1245,555.2 1250,557.1 1255,558.9 1260,558 1265,556.5 1270,554.7 1275,552.9 1280,551.1 1285,549.4 1290,549.8 1295,550.4 1300,550.9 1305,551.5 1310,552.1 1315,552.6 1320,553 1325,553.3 1330,553.7 1335,554 1340,554.3 1345,554.7 1350,555.3 1355,555.8 1360,556.4 1365,559.1 1370,561.8 1375,564.6 1380,567.3 1385,570 1390,572.4 1395,573.7 1400,574.9 1405,576.2 1410,577.5 1415,578.7 1420,580 1425,581.2 1430,582.5 1435,582.5 1440,581.7 1445,580.7 1450,579.8 1455,578.9 1460,577.9 1465,577 1470,576 1475,575.1 1480,573.9 1480,584.1 1475,585.3 1470,586.2 1465,587.2 1460,588.1 1455,589.1 1450,590.1 1445,591 1440,592 1435,592.7 1430,592.6 1425,591.3 1420,590.1 1415,588.8 1410,587.6 1405,586.4 1400,585.1 1395,583.9 1390,582.6 1385,580.3 1380,577.7 1375,575 1370,572.4 1365,569.8 1360,567.1 1355,566.3 1350,565.6 1345,564.8 1340,564.7 1335,564.5 1330,564.4 1325,564.3 1320,564.2 1315,564.1 1310,563.4 1305,562.7 1300,561.9 1295,561.1 1290,560.3 1285,559.9 1280,561.8 1275,563.7 1270,565.5 1265,567.4 1260,568.7 1255,569.4 1250,567.7 1245,566 1240,564.2 1235,562.5 1230,560.6 1225,557.9 1220,555.2 1215,552.5 1210,549.8 1205,547.1 1200,544.4 1195,541.6 1190,538.9 1185,535.5 1180,531 1175,526.4 1170,521.9 1165,517.3 1160,512.7" fill="#4a4cb0"/>
<polygon points="1160,515.7 1165,520.3 1170,524.9 1175,529.5 1180,534.1 1185,538.7 1190,542.1 1195,544.7 1200,547.4 1205,550.1 1210,552.7 1215,555.4 1220,558.1 1225,560.7 1230,563.4 1235,565.2 1240,567 1245,568.6 1250,570.3 1255,572 1260,571.4 1265,570.1 1270,568.2 1275,566.4 1280,564.5 1285,562.6 1290,562.9 1295,563.8 1300,564.6 1305,565.4 1310,566.3 1315,566.9 1320,567 1325,567 1330,567.1 1335,567.2 1340,567.3 1345,567.3 1350,568.1 1355,569 1360,569.8 1365,572.4 1370,575 1375,577.6 1380,580.3 1385,582.9 1390,585.2 1395,586.4 1400,587.7 1405,588.9 1410,590.1 1415,591.4 1420,592.6 1425,593.8 1430,595.1 1435,595.3 1440,594.6 1445,593.6 1450,592.6 1455,591.7 1460,590.7 1465,589.7 1470,588.8 1475,587.8 1480,586.6 1480,600.9 1475,602 1470,603 1465,604 1460,605 1455,606 1450,607 1445,608 1440,609 1435,609.5 1430,609.1 1425,607.9 1420,606.7 1415,605.5 1410,604.3 1405,603.1 1400,601.9 1395,600.7 1390,599.5 1385,597.3 1380,594.8 1375,592.3 1370,589.8 1365,587.3 1360,584.8 1355,583.7 1350,582.6 1345,581.5 1340,581.7 1335,581.9 1330,582.2 1325,582.4 1320,582.6 1315,582.9 1310,582.1 1305,581 1300,579.9 1295,578.7 1290,577.6 1285,577.4 1280,579.4 1275,581.4 1270,583.4 1265,585.4 1260,586.3 1255,586.6 1250,585.2 1245,583.7 1240,582.2 1235,580.5 1230,578.8 1225,576.4 1220,574 1215,571.6 1210,569.3 1205,566.9 1200,564.5 1195,562.1 1190,559.7 1185,556.5 1180,551.6 1175,546.8 1170,542 1165,537.2 1160,532.3" fill="#e0509e"/>
<polygon points="1160,532.3 1165,537.2 1170,542 1175,546.8 1180,551.6 1185,556.5 1190,559.7 1195,562.1 1200,564.5 1205,566.9 1210,569.3 1215,571.6 1220,574 1225,576.4 1230,578.8 1235,580.5 1240,582.2 1245,583.7 1250,585.2 1255,586.6 1260,586.3 1265,585.4 1270,583.4 1275,581.4 1280,579.4 1285,577.4 1290,577.6 1295,578.7 1300,579.9 1305,581 1310,582.1 1315,582.9 1320,582.6 1325,582.4 1330,582.2 1335,581.9 1340,581.7 1345,581.5 1350,582.6 1355,583.7 1360,584.8 1365,587.3 1370,589.8 1375,592.3 1380,594.8 1385,597.3 1390,599.5 1395,600.7 1400,601.9 1405,603.1 1410,604.3 1415,605.5 1420,606.7 1425,607.9 1430,609.1 1435,609.5 1440,609 1445,608 1450,607 1455,606 1460,605 1465,604 1470,603 1475,602 1480,600.9 1480,611 1475,612.2 1470,613.2 1465,614.2 1460,615.2 1455,616.2 1450,617.3 1445,618.3 1440,619.3 1435,619.7 1430,619.2 1425,618 1420,616.8 1415,615.6 1410,614.5 1405,613.3 1400,612.1 1395,611 1390,609.8 1385,607.6 1380,605.2 1375,602.8 1370,600.3 1365,597.9 1360,595.5 1355,594.2 1350,592.9 1345,591.6 1340,592.1 1335,592.5 1330,592.9 1325,593.4 1320,593.8 1315,594.3 1310,593.5 1305,592.1 1300,590.8 1295,589.5 1290,588.1 1285,588 1280,590.1 1275,592.2 1270,594.3 1265,596.4 1260,597 1255,597.1 1250,595.8 1245,594.4 1240,593.1 1235,591.5 1230,589.9 1225,587.7 1220,585.5 1215,583.3 1210,581.1 1205,578.9 1200,576.7 1195,574.5 1190,572.3 1185,569.1 1180,564.1 1175,559.2 1170,554.2 1165,549.2 1160,544.2" fill="#5a2aa8"/>
<polygon points="1160,544.2 1165,549.2 1170,554.2 1175,559.2 1180,564.1 1185,569.1 1190,572.3 1195,574.5 1200,576.7 1205,578.9 1210,581.1 1215,583.3 1220,585.5 1225,587.7 1230,589.9 1235,591.5 1240,593.1 1245,594.4 1250,595.8 1255,597.1 1260,597 1265,596.4 1270,594.3 1275,592.2 1280,590.1 1285,588 1290,588.1 1295,589.5 1300,590.8 1305,592.1 1310,593.5 1315,594.3 1320,593.8 1325,593.4 1330,592.9 1335,592.5 1340,592.1 1345,591.6 1350,592.9 1355,594.2 1360,595.5 1365,597.9 1370,600.3 1375,602.8 1380,605.2 1385,607.6 1390,609.8 1395,611 1400,612.1 1405,613.3 1410,614.5 1415,615.6 1420,616.8 1425,618 1430,619.2 1435,619.7 1440,619.3 1445,618.3 1450,617.3 1455,616.2 1460,615.2 1465,614.2 1470,613.2 1475,612.2 1480,611 1480,614.1 1475,615.2 1470,616.3 1465,617.3 1460,618.3 1455,619.3 1450,620.3 1445,621.3 1440,622.4 1435,622.7 1430,622.2 1425,621 1420,619.8 1415,618.7 1410,617.5 1405,616.3 1400,615.2 1395,614 1390,612.9 1385,610.7 1380,608.3 1375,605.9 1370,603.5 1365,601.1 1360,598.7 1355,597.4 1350,596 1345,594.6 1340,595.2 1335,595.7 1330,596.2 1325,596.7 1320,597.2 1315,597.7 1310,596.8 1305,595.5 1300,594.1 1295,592.7 1290,591.3 1285,591.2 1280,593.3 1275,595.4 1270,597.5 1265,599.7 1260,600.2 1255,600.2 1250,598.9 1245,597.6 1240,596.3 1235,594.8 1230,593.2 1225,591 1220,588.9 1215,586.7 1210,584.6 1205,582.5 1200,580.3 1195,578.2 1190,576 1185,572.9 1180,567.9 1175,562.9 1170,557.8 1165,552.8 1160,547.8" fill="#f4d0e6"/>
<polygon points="1160,547.8 1165,552.8 1170,557.8 1175,562.9 1180,567.9 1185,572.9 1190,576 1195,578.2 1200,580.3 1205,582.5 1210,584.6 1215,586.7 1220,588.9 1225,591 1230,593.2 1235,594.8 1240,596.3 1245,597.6 1250,598.9 1255,600.2 1260,600.2 1265,599.7 1270,597.5 1275,595.4 1280,593.3 1285,591.2 1290,591.3 1295,592.7 1300,594.1 1305,595.5 1310,596.8 1315,597.7 1320,597.2 1325,596.7 1330,596.2 1335,595.7 1340,595.2 1345,594.6 1350,596 1355,597.4 1360,598.7 1365,601.1 1370,603.5 1375,605.9 1380,608.3 1385,610.7 1390,612.9 1395,614 1400,615.2 1405,616.3 1410,617.5 1415,618.7 1420,619.8 1425,621 1430,622.2 1435,622.7 1440,622.4 1445,621.3 1450,620.3 1455,619.3 1460,618.3 1465,617.3 1470,616.3 1475,615.2 1480,614.1 1480,628.3 1475,629.5 1470,630.5 1465,631.6 1460,632.6 1455,633.6 1450,634.7 1445,635.7 1440,636.8 1435,637 1430,636.2 1425,635.1 1420,634 1415,632.8 1410,631.7 1405,630.6 1400,629.4 1395,628.3 1390,627.2 1385,625.2 1380,622.9 1375,620.6 1370,618.3 1365,616 1360,613.7 1355,612.1 1350,610.4 1345,608.8 1340,609.6 1335,610.4 1330,611.2 1325,612.1 1320,612.9 1315,613.7 1310,612.7 1305,611 1300,609.3 1295,607.7 1290,606 1285,606 1280,608.3 1275,610.5 1270,612.7 1265,615 1260,615.1 1255,614.9 1250,613.8 1245,612.7 1240,611.6 1235,610.1 1230,608.6 1225,606.7 1220,604.9 1215,603 1210,601.1 1205,599.2 1200,597.4 1195,595.5 1190,593.6 1185,590.7 1180,585.4 1175,580.2 1170,574.9 1165,569.7 1160,564.4" fill="#e0509e"/>
<polygon points="1160,567.4 1165,572.7 1170,578 1175,583.2 1180,588.5 1185,593.8 1190,596.8 1195,598.6 1200,600.4 1205,602.2 1210,604.1 1215,605.9 1220,607.7 1225,609.5 1230,611.3 1235,612.9 1240,614.3 1245,615.4 1250,616.4 1255,617.5 1260,617.8 1265,617.7 1270,615.4 1275,613.2 1280,610.9 1285,608.7 1290,608.6 1295,610.3 1300,612.1 1305,613.8 1310,615.5 1315,616.5 1320,615.7 1325,614.8 1330,613.9 1335,613.1 1340,612.2 1345,611.3 1350,613 1355,614.7 1360,616.4 1365,618.6 1370,620.9 1375,623.2 1380,625.5 1385,627.7 1390,629.7 1395,630.9 1400,632 1405,633.1 1410,634.2 1415,635.4 1420,636.5 1425,637.6 1430,638.7 1435,639.5 1440,639.4 1445,638.3 1450,637.3 1455,636.2 1460,635.2 1465,634.1 1470,633 1475,632 1480,630.9 1480,641.1 1475,642.2 1470,643.2 1465,644.3 1460,645.4 1455,646.4 1450,647.5 1445,648.6 1440,649.7 1435,649.7 1430,648.8 1425,647.7 1420,646.6 1415,645.5 1410,644.4 1405,643.3 1400,642.2 1395,641.1 1390,640 1385,638.1 1380,635.9 1375,633.7 1370,631.5 1365,629.3 1360,627.1 1355,625.2 1350,623.3 1345,621.5 1340,622.5 1335,623.6 1330,624.7 1325,625.8 1320,626.9 1315,627.9 1310,626.8 1305,624.9 1300,623 1295,621.1 1290,619.1 1285,619.3 1280,621.6 1275,623.9 1270,626.3 1265,628.6 1260,628.5 1255,628 1250,627 1245,626.1 1240,625.2 1235,623.8 1230,622.4 1225,620.7 1220,619.1 1215,617.5 1210,615.9 1205,614.2 1200,612.6 1195,611 1190,609.4 1185,606.5 1180,601 1175,595.6 1170,590.2 1165,584.7 1160,579.3" fill="#4a4cb0"/>
<polygon points="1160,579.3 1165,584.7 1170,590.2 1175,595.6 1180,601 1185,606.5 1190,609.4 1195,611 1200,612.6 1205,614.2 1210,615.9 1215,617.5 1220,619.1 1225,620.7 1230,622.4 1235,623.8 1240,625.2 1245,626.1 1250,627 1255,628 1260,628.5 1265,628.6 1270,626.3 1275,623.9 1280,621.6 1285,619.3 1290,619.1 1295,621.1 1300,623 1305,624.9 1310,626.8 1315,627.9 1320,626.9 1325,625.8 1330,624.7 1335,623.6 1340,622.5 1345,621.5 1350,623.3 1355,625.2 1360,627.1 1365,629.3 1370,631.5 1375,633.7 1380,635.9 1385,638.1 1390,640 1395,641.1 1400,642.2 1405,643.3 1410,644.4 1415,645.5 1420,646.6 1425,647.7 1430,648.8 1435,649.7 1440,649.7 1445,648.6 1450,647.5 1455,646.4 1460,645.4 1465,644.3 1470,643.2 1475,642.2 1480,641.1 1480,647.2 1475,648.3 1470,649.3 1465,650.4 1460,651.5 1455,652.6 1450,653.7 1445,654.8 1440,655.8 1435,655.8 1430,654.8 1425,653.7 1420,652.6 1415,651.6 1410,650.5 1405,649.4 1400,648.3 1395,647.2 1390,646.1 1385,644.3 1380,642.1 1375,639.9 1370,637.8 1365,635.6 1360,633.5 1355,631.5 1350,629.5 1345,627.5 1340,628.7 1335,629.9 1330,631.2 1325,632.4 1320,633.6 1315,634.8 1310,633.6 1305,631.6 1300,629.5 1295,627.5 1290,625.4 1285,625.6 1280,628 1275,630.4 1270,632.8 1265,635.2 1260,634.9 1255,634.3 1250,633.4 1245,632.5 1240,631.7 1235,630.4 1230,629 1225,627.5 1220,626 1215,624.5 1210,622.9 1205,621.4 1200,619.9 1195,618.4 1190,616.9 1185,614.1 1180,608.6 1175,603 1170,597.5 1165,591.9 1160,586.4" fill="#a8b8ec"/>
<polygon points="1160,586.4 1165,591.9 1170,597.5 1175,603 1180,608.6 1185,614.1 1190,616.9 1195,618.4 1200,619.9 1205,621.4 1210,622.9 1215,624.5 1220,626 1225,627.5 1230,629 1235,630.4 1240,631.7 1245,632.5 1250,633.4 1255,634.3 1260,634.9 1265,635.2 1270,632.8 1275,630.4 1280,628 1285,625.6 1290,625.4 1295,627.5 1300,629.5 1305,631.6 1310,633.6 1315,634.8 1320,633.6 1325,632.4 1330,631.2 1335,629.9 1340,628.7 1345,627.5 1350,629.5 1355,631.5 1360,633.5 1365,635.6 1370,637.8 1375,639.9 1380,642.1 1385,644.3 1390,646.1 1395,647.2 1400,648.3 1405,649.4 1410,650.5 1415,651.6 1420,652.6 1425,653.7 1430,654.8 1435,655.8 1440,655.8 1445,654.8 1450,653.7 1455,652.6 1460,651.5 1465,650.4 1470,649.3 1475,648.3 1480,647.2 1480,653.3 1475,654.4 1470,655.4 1465,656.5 1460,657.6 1455,658.7 1450,659.8 1445,660.9 1440,662 1435,661.9 1430,660.8 1425,659.8 1420,658.7 1415,657.6 1410,656.6 1405,655.5 1400,654.4 1395,653.3 1390,652.3 1385,650.4 1380,648.3 1375,646.2 1370,644.1 1365,642 1360,639.9 1355,637.8 1350,635.7 1345,633.6 1340,634.9 1335,636.3 1330,637.6 1325,639 1320,640.3 1315,641.6 1310,640.4 1305,638.3 1300,636.1 1295,633.9 1290,631.7 1285,632 1280,634.4 1275,636.9 1270,639.3 1265,641.8 1260,641.3 1255,640.5 1250,639.8 1245,639 1240,638.2 1235,637 1230,635.6 1225,634.2 1220,632.8 1215,631.4 1210,630 1205,628.6 1200,627.2 1195,625.8 1190,624.4 1185,621.7 1180,616.1 1175,610.4 1170,604.8 1165,599.2 1160,593.5" fill="#2f8a84"/>
</g></g>
<g mask="url(#cxD)"><g filter="url(#brkL)">
<polygon points="1440,575.5 1445,574.6 1450,573.7 1455,572.7 1460,571.8 1465,570.9 1470,569.9 1475,569 1480,567.8 1485,566.6 1490,565.5 1495,564.3 1500,563.1 1505,561.9 1510,560.7 1515,559.5 1520,558.4 1525,557.2 1530,556 1535,560.6 1540,565.3 1545,568.7 1550,567.3 1555,566 1560,564.6 1565,563.2 1570,561.8 1575,561.7 1580,563.4 1585,565.1 1590,566.9 1595,568.6 1600,570.3 1605,569 1610,565.8 1615,562.5 1620,559.2 1625,555.9 1630,552.6 1635,549.7 1640,548.3 1645,546.9 1650,545.5 1655,544.1 1660,542.7 1665,541.3 1670,542.3 1675,543.9 1680,545.6 1685,547.2 1690,548.8 1695,550.4 1700,552 1705,553.7 1710,557.5 1715,561.9 1720,566.3 1725,570.7 1730,575.1 1735,576 1740,576 1740,582.3 1735,582.3 1730,581.4 1725,577.1 1720,572.8 1715,568.5 1710,564.2 1705,560.4 1700,558.6 1695,556.9 1690,555.1 1685,553.5 1680,552 1675,550.6 1670,549.2 1665,548.3 1660,549.7 1655,551.1 1650,552.5 1645,553.9 1640,555.2 1635,556.6 1630,559.3 1625,562.4 1620,565.5 1615,568.6 1610,571.7 1605,574.9 1600,576 1595,574.1 1590,572.3 1585,570.5 1580,568.6 1575,566.9 1570,567.1 1565,568.6 1560,570 1555,571.4 1550,572.9 1545,574.3 1540,571.2 1535,567.1 1530,562.9 1525,564.1 1520,565.1 1515,566.1 1510,567.1 1505,568.1 1500,569.2 1495,570.4 1490,571.6 1485,572.7 1480,573.9 1475,575.1 1470,576 1465,577 1460,577.9 1455,578.9 1450,579.8 1445,580.7 1440,581.7" fill="#8ad8d8"/>
<polygon points="1440,581.7 1445,580.7 1450,579.8 1455,578.9 1460,577.9 1465,577 1470,576 1475,575.1 1480,573.9 1485,572.7 1490,571.6 1495,570.4 1500,569.2 1505,568.1 1510,567.1 1515,566.1 1520,565.1 1525,564.1 1530,562.9 1535,567.1 1540,571.2 1545,574.3 1550,572.9 1555,571.4 1560,570 1565,568.6 1570,567.1 1575,566.9 1580,568.6 1585,570.5 1590,572.3 1595,574.1 1600,576 1605,574.9 1610,571.7 1615,568.6 1620,565.5 1625,562.4 1630,559.3 1635,556.6 1640,555.2 1645,553.9 1650,552.5 1655,551.1 1660,549.7 1665,548.3 1670,549.2 1675,550.6 1680,552 1685,553.5 1690,555.1 1695,556.9 1700,558.6 1705,560.4 1710,564.2 1715,568.5 1720,572.8 1725,577.1 1730,581.4 1735,582.3 1740,582.3 1740,592.8 1735,592.8 1730,591.9 1725,587.8 1720,583.6 1715,579.4 1710,575.2 1705,571.5 1700,569.6 1695,567.6 1690,565.7 1685,563.9 1680,562.9 1675,561.8 1670,560.7 1665,560.1 1660,561.4 1655,562.8 1650,564.1 1645,565.4 1640,566.7 1635,568 1630,570.5 1625,573.3 1620,576.1 1615,578.9 1610,581.7 1605,584.6 1600,585.4 1595,583.4 1590,581.4 1585,579.3 1580,577.3 1575,575.5 1570,576 1565,577.5 1560,579 1555,580.5 1550,582 1545,583.5 1540,581.2 1535,577.8 1530,574.4 1525,575.5 1520,576.2 1515,576.9 1510,577.6 1505,578.4 1500,579.4 1495,580.6 1490,581.8 1485,582.9 1480,584.1 1475,585.3 1470,586.2 1465,587.2 1460,588.1 1455,589.1 1450,590.1 1445,591 1440,592" fill="#4a4cb0"/>
<polygon points="1440,594.6 1445,593.6 1450,592.6 1455,591.7 1460,590.7 1465,589.7 1470,588.8 1475,587.8 1480,586.6 1485,585.5 1490,584.3 1495,583.1 1500,582 1505,580.9 1510,580.3 1515,579.7 1520,579 1525,578.4 1530,577.3 1535,580.5 1540,583.6 1545,585.9 1550,584.3 1555,582.8 1560,581.3 1565,579.7 1570,578.2 1575,577.6 1580,579.5 1585,581.5 1590,583.6 1595,585.7 1600,587.8 1605,587 1610,584.2 1615,581.5 1620,578.8 1625,576.1 1630,573.3 1635,570.9 1640,569.6 1645,568.3 1650,567.1 1655,565.7 1660,564.3 1665,563 1670,563.5 1675,564.5 1680,565.6 1685,566.6 1690,568.4 1695,570.3 1700,572.3 1705,574.3 1710,578 1715,582.1 1720,586.3 1725,590.4 1730,594.6 1735,595.4 1740,595.4 1740,610 1735,610 1730,609.3 1725,605.3 1720,601.4 1715,597.4 1710,593.5 1705,589.9 1700,587.6 1695,585.4 1690,583.1 1685,581.2 1680,580.7 1675,580.1 1670,579.6 1665,579.4 1660,580.7 1655,582 1650,583.4 1645,584.6 1640,585.7 1635,586.9 1630,589 1625,591.3 1620,593.6 1615,595.9 1610,598.2 1605,600.6 1600,601 1595,598.7 1590,596.3 1585,594 1580,591.6 1575,589.7 1570,590.6 1565,592.2 1560,593.9 1555,595.5 1550,597.2 1545,598.8 1540,597.5 1535,595.5 1530,593.4 1525,594.4 1520,594.7 1515,594.9 1510,595.1 1505,595.3 1500,596.3 1495,597.4 1490,598.6 1485,599.7 1480,600.9 1475,602 1470,603 1465,604 1460,605 1455,606 1450,607 1445,608 1440,609" fill="#e0509e"/>
<polygon points="1440,609 1445,608 1450,607 1455,606 1460,605 1465,604 1470,603 1475,602 1480,600.9 1485,599.7 1490,598.6 1495,597.4 1500,596.3 1505,595.3 1510,595.1 1515,594.9 1520,594.7 1525,594.4 1530,593.4 1535,595.5 1540,597.5 1545,598.8 1550,597.2 1555,595.5 1560,593.9 1565,592.2 1570,590.6 1575,589.7 1580,591.6 1585,594 1590,596.3 1595,598.7 1600,601 1605,600.6 1610,598.2 1615,595.9 1620,593.6 1625,591.3 1630,589 1635,586.9 1640,585.7 1645,584.6 1650,583.4 1655,582 1660,580.7 1665,579.4 1670,579.6 1675,580.1 1680,580.7 1685,581.2 1690,583.1 1695,585.4 1700,587.6 1705,589.9 1710,593.5 1715,597.4 1720,601.4 1725,605.3 1730,609.3 1735,610 1740,610 1740,620.5 1735,620.5 1730,619.8 1725,616 1720,612.2 1715,608.4 1710,604.5 1705,601 1700,598.6 1695,596.2 1690,593.7 1685,591.7 1680,591.5 1675,591.3 1670,591.1 1665,591.2 1660,592.4 1655,593.7 1650,595 1645,596.2 1640,597.2 1635,598.3 1630,600.2 1625,602.2 1620,604.2 1615,606.2 1610,608.2 1605,610.3 1600,610.5 1595,607.9 1590,605.4 1585,602.8 1580,600.3 1575,598.3 1570,599.4 1565,601.1 1560,602.9 1555,604.6 1550,606.3 1545,608.1 1540,607.4 1535,606.2 1530,605 1525,605.9 1520,605.8 1515,605.8 1510,605.7 1505,605.6 1500,606.5 1495,607.6 1490,608.8 1485,609.9 1480,611 1475,612.2 1470,613.2 1465,614.2 1460,615.2 1455,616.2 1450,617.3 1445,618.3 1440,619.3" fill="#5a2aa8"/>
<polygon points="1440,619.3 1445,618.3 1450,617.3 1455,616.2 1460,615.2 1465,614.2 1470,613.2 1475,612.2 1480,611 1485,609.9 1490,608.8 1495,607.6 1500,606.5 1505,605.6 1510,605.7 1515,605.8 1520,605.8 1525,605.9 1530,605 1535,606.2 1540,607.4 1545,608.1 1550,606.3 1555,604.6 1560,602.9 1565,601.1 1570,599.4 1575,598.3 1580,600.3 1585,602.8 1590,605.4 1595,607.9 1600,610.5 1605,610.3 1610,608.2 1615,606.2 1620,604.2 1625,602.2 1630,600.2 1635,598.3 1640,597.2 1645,596.2 1650,595 1655,593.7 1660,592.4 1665,591.2 1670,591.1 1675,591.3 1680,591.5 1685,591.7 1690,593.7 1695,596.2 1700,598.6 1705,601 1710,604.5 1715,608.4 1720,612.2 1725,616 1730,619.8 1735,620.5 1740,620.5 1740,623.7 1735,623.7 1730,622.9 1725,619.2 1720,615.4 1715,611.6 1710,607.9 1705,604.4 1700,601.9 1695,599.4 1690,596.9 1685,594.9 1680,594.8 1675,594.6 1670,594.5 1665,594.7 1660,596 1655,597.2 1650,598.5 1645,599.6 1640,600.7 1635,601.8 1630,603.5 1625,605.5 1620,607.4 1615,609.3 1610,611.2 1605,613.2 1600,613.3 1595,610.7 1590,608.1 1585,605.5 1580,602.9 1575,600.9 1570,602.1 1565,603.8 1560,605.6 1555,607.3 1550,609.1 1545,610.9 1540,610.4 1535,609.4 1530,608.4 1525,609.3 1520,609.2 1515,609 1510,608.8 1505,608.7 1500,609.6 1495,610.7 1490,611.8 1485,613 1480,614.1 1475,615.2 1470,616.3 1465,617.3 1460,618.3 1455,619.3 1450,620.3 1445,621.3 1440,622.4" fill="#f4d0e6"/>
<polygon points="1440,622.4 1445,621.3 1450,620.3 1455,619.3 1460,618.3 1465,617.3 1470,616.3 1475,615.2 1480,614.1 1485,613 1490,611.8 1495,610.7 1500,609.6 1505,608.7 1510,608.8 1515,609 1520,609.2 1525,609.3 1530,608.4 1535,609.4 1540,610.4 1545,610.9 1550,609.1 1555,607.3 1560,605.6 1565,603.8 1570,602.1 1575,600.9 1580,602.9 1585,605.5 1590,608.1 1595,610.7 1600,613.3 1605,613.2 1610,611.2 1615,609.3 1620,607.4 1625,605.5 1630,603.5 1635,601.8 1640,600.7 1645,599.6 1650,598.5 1655,597.2 1660,596 1665,594.7 1670,594.5 1675,594.6 1680,594.8 1685,594.9 1690,596.9 1695,599.4 1700,601.9 1705,604.4 1710,607.9 1715,611.6 1720,615.4 1725,619.2 1730,622.9 1735,623.7 1740,623.7 1740,638.3 1735,638.3 1730,637.6 1725,634.1 1720,630.5 1715,626.9 1710,623.4 1705,620 1700,617.2 1695,614.4 1690,611.7 1685,609.5 1680,609.9 1675,610.2 1670,610.6 1665,611.1 1660,612.3 1655,613.6 1650,614.8 1645,615.9 1640,616.8 1635,617.8 1630,619.2 1625,620.7 1620,622.2 1615,623.7 1610,625.2 1605,626.8 1600,626.5 1595,623.6 1590,620.8 1585,617.9 1580,615 1575,612.9 1570,614.4 1565,616.3 1560,618.2 1555,620.1 1550,621.9 1545,623.8 1540,624.3 1535,624.4 1530,624.5 1525,625.4 1520,624.8 1515,624.2 1510,623.7 1505,623.1 1500,623.9 1495,625 1490,626.1 1485,627.2 1480,628.3 1475,629.5 1470,630.5 1465,631.6 1460,632.6 1455,633.6 1450,634.7 1445,635.7 1440,636.8" fill="#e0509e"/>
<polygon points="1440,639.4 1445,638.3 1450,637.3 1455,636.2 1460,635.2 1465,634.1 1470,633 1475,632 1480,630.9 1485,629.8 1490,628.6 1495,627.5 1500,626.4 1505,625.6 1510,626.3 1515,627 1520,627.6 1525,628.3 1530,627.4 1535,627.1 1540,626.8 1545,626.1 1550,624.2 1555,622.3 1560,620.4 1565,618.5 1570,616.6 1575,615.1 1580,617.2 1585,620.1 1590,623 1595,626 1600,628.9 1605,629.2 1610,627.7 1615,626.3 1620,624.9 1625,623.4 1630,622 1635,620.7 1640,619.7 1645,618.8 1650,617.7 1655,616.5 1660,615.3 1665,614.1 1670,613.5 1675,613 1680,612.6 1685,612.2 1690,614.3 1695,617.1 1700,619.9 1705,622.7 1710,626.1 1715,629.7 1720,633.2 1725,636.7 1730,640.2 1735,641 1740,641 1740,651.4 1735,651.4 1730,650.8 1725,647.4 1720,644 1715,640.6 1710,637.2 1705,633.9 1700,630.9 1695,627.9 1690,624.9 1685,622.7 1680,623.4 1675,624.2 1670,624.9 1665,625.8 1660,627 1655,628.2 1650,629.4 1645,630.3 1640,631.2 1635,632.1 1630,633.2 1625,634.3 1620,635.5 1615,636.6 1610,637.7 1605,638.9 1600,638.3 1595,635.2 1590,632.1 1585,629 1580,625.9 1575,623.7 1570,625.5 1565,627.5 1560,629.5 1555,631.4 1550,633.4 1545,635.4 1540,636.7 1535,637.8 1530,638.9 1525,639.7 1520,638.8 1515,637.8 1510,636.9 1505,635.9 1500,636.6 1495,637.7 1490,638.8 1485,639.9 1480,641.1 1475,642.2 1470,643.2 1465,644.3 1460,645.4 1455,646.4 1450,647.5 1445,648.6 1440,649.7" fill="#4a4cb0"/>
<polygon points="1440,649.7 1445,648.6 1450,647.5 1455,646.4 1460,645.4 1465,644.3 1470,643.2 1475,642.2 1480,641.1 1485,639.9 1490,638.8 1495,637.7 1500,636.6 1505,635.9 1510,636.9 1515,637.8 1520,638.8 1525,639.7 1530,638.9 1535,637.8 1540,636.7 1545,635.4 1550,633.4 1555,631.4 1560,629.5 1565,627.5 1570,625.5 1575,623.7 1580,625.9 1585,629 1590,632.1 1595,635.2 1600,638.3 1605,638.9 1610,637.7 1615,636.6 1620,635.5 1625,634.3 1630,633.2 1635,632.1 1640,631.2 1645,630.3 1650,629.4 1655,628.2 1660,627 1665,625.8 1670,624.9 1675,624.2 1680,623.4 1685,622.7 1690,624.9 1695,627.9 1700,630.9 1705,633.9 1710,637.2 1715,640.6 1720,644 1725,647.4 1730,650.8 1735,651.4 1740,651.4 1740,657.7 1735,657.7 1730,657.1 1725,653.7 1720,650.4 1715,647.1 1710,643.8 1705,640.6 1700,637.5 1695,634.3 1690,631.2 1685,628.9 1680,629.9 1675,630.9 1670,631.8 1665,632.8 1660,634 1655,635.2 1650,636.4 1645,637.3 1640,638.1 1635,639 1630,639.9 1625,640.9 1620,641.8 1615,642.8 1610,643.7 1605,644.7 1600,644 1595,640.8 1590,637.5 1585,634.3 1580,631.1 1575,628.9 1570,630.8 1565,632.8 1560,634.9 1555,636.9 1550,638.9 1545,641 1540,642.6 1535,644.2 1530,645.8 1525,646.6 1520,645.5 1515,644.3 1510,643.2 1505,642.1 1500,642.7 1495,643.8 1490,645 1485,646.1 1480,647.2 1475,648.3 1470,649.3 1465,650.4 1460,651.5 1455,652.6 1450,653.7 1445,654.8 1440,655.8" fill="#a8b8ec"/>
<polygon points="1440,655.8 1445,654.8 1450,653.7 1455,652.6 1460,651.5 1465,650.4 1470,649.3 1475,648.3 1480,647.2 1485,646.1 1490,645 1495,643.8 1500,642.7 1505,642.1 1510,643.2 1515,644.3 1520,645.5 1525,646.6 1530,645.8 1535,644.2 1540,642.6 1545,641 1550,638.9 1555,636.9 1560,634.9 1565,632.8 1570,630.8 1575,628.9 1580,631.1 1585,634.3 1590,637.5 1595,640.8 1600,644 1605,644.7 1610,643.7 1615,642.8 1620,641.8 1625,640.9 1630,639.9 1635,639 1640,638.1 1645,637.3 1650,636.4 1655,635.2 1660,634 1665,632.8 1670,631.8 1675,630.9 1680,629.9 1685,628.9 1690,631.2 1695,634.3 1700,637.5 1705,640.6 1710,643.8 1715,647.1 1720,650.4 1725,653.7 1730,657.1 1735,657.7 1740,657.7 1740,664 1735,664 1730,663.4 1725,660.1 1720,656.9 1715,653.7 1710,650.5 1705,647.2 1700,644 1695,640.8 1690,637.6 1685,635.2 1680,636.4 1675,637.6 1670,638.7 1665,639.9 1660,641 1655,642.2 1650,643.4 1645,644.2 1640,645 1635,645.8 1630,646.6 1625,647.4 1620,648.2 1615,649 1610,649.7 1605,650.5 1600,649.7 1595,646.3 1590,643 1585,639.6 1580,636.3 1575,634 1570,636.1 1565,638.2 1560,640.3 1555,642.3 1550,644.4 1545,646.5 1540,648.6 1535,650.7 1530,652.8 1525,653.5 1520,652.2 1515,650.9 1510,649.6 1505,648.3 1500,648.9 1495,650 1490,651.1 1485,652.2 1480,653.3 1475,654.4 1470,655.4 1465,656.5 1460,657.6 1455,658.7 1450,659.8 1445,660.9 1440,662" fill="#2f8a84"/>
</g></g>
<g mask="url(#cxA)"><g filter="url(#brkM)">
<polygon points="494,381 499,382.9 504,385 509,387 514,390 519,393.8 524,397.5 529,403.1 534,408.9 539,413.6 544,418.2 549,419.2 554,419.8 559,420.4 564,421 569,421.4 574,421.8 579,422.2 584,422.6 589,421.3 594,419.3 599,417.2 604,415.5 609,414.2 614,413 619,411.8 624,410.8 629,410.4 634,409.9 639,409.3 644,407.8 649,406.3 654,404.8 659,403.2 664,401.1 669,396.4 669,400.7 664,405.4 659,407.5 654,409.1 649,410.6 644,412.1 639,413.7 634,414.2 629,414.7 624,415.1 619,416.1 614,417.3 609,418.6 604,419.8 599,421.6 594,423.6 589,425.7 584,426.9 579,426.5 574,426.1 569,425.7 564,425.3 559,424.7 554,424.1 549,423.5 544,422.6 539,418 534,413.2 529,407.4 524,401.9 519,398.1 514,394.3 509,391.3 504,389.3 499,387.2 494,385.3" fill="#8ad8d8"/>
<polygon points="494,385.3 499,387.2 504,389.3 509,391.3 514,394.3 519,398.1 524,401.9 529,407.4 534,413.2 539,418 544,422.6 549,423.5 554,424.1 559,424.7 564,425.3 569,425.7 574,426.1 579,426.5 584,426.9 589,425.7 594,423.6 599,421.6 604,419.8 609,418.6 614,417.3 619,416.1 624,415.1 629,414.7 634,414.2 639,413.7 644,412.1 649,410.6 654,409.1 659,407.5 664,405.4 669,400.7 669,409.3 664,414 659,416.2 654,417.7 649,419.3 644,420.8 639,422.3 634,422.9 629,423.3 624,423.8 619,424.7 614,426 609,427.2 604,428.5 599,430.2 594,432.3 589,434.3 584,435.5 579,435.1 574,434.7 569,434.4 564,433.9 559,433.3 554,432.7 549,432.1 544,431.2 539,426.6 534,421.9 529,416.1 524,410.5 519,406.7 514,402.9 509,400 504,397.9 499,395.9 494,394" fill="#4a4cb0"/>
<polygon points="494,396.6 499,398.5 504,400.5 509,402.6 514,405.5 519,409.3 524,413.1 529,418.7 534,424.5 539,429.2 544,433.8 549,434.7 554,435.3 559,435.9 564,436.5 569,436.9 574,437.3 579,437.7 584,438.1 589,436.9 594,434.9 599,432.8 604,431.1 609,429.8 614,428.6 619,427.3 624,426.4 629,425.9 634,425.5 639,424.9 644,423.4 649,421.9 654,420.3 659,418.8 664,416.6 669,411.9 669,424 664,428.7 659,430.9 654,432.4 649,434 644,435.5 639,437 634,437.6 629,438 624,438.5 619,439.4 614,440.7 609,441.9 604,443.2 599,444.9 594,447 589,449 584,450.2 579,449.8 574,449.5 569,449.1 564,448.7 559,448 554,447.4 549,446.8 544,445.9 539,441.3 534,436.6 529,430.8 524,425.2 519,421.4 514,417.6 509,414.7 504,412.6 499,410.6 494,408.7" fill="#e0509e"/>
<polygon points="494,408.7 499,410.6 504,412.6 509,414.7 514,417.6 519,421.4 524,425.2 529,430.8 534,436.6 539,441.3 544,445.9 549,446.8 554,447.4 559,448 564,448.7 569,449.1 574,449.5 579,449.8 584,450.2 589,449 594,447 599,444.9 604,443.2 609,441.9 614,440.7 619,439.4 624,438.5 629,438 634,437.6 639,437 644,435.5 649,434 654,432.4 659,430.9 664,428.7 669,424 669,432.7 664,437.4 659,439.5 654,441.1 649,442.6 644,444.1 639,445.7 634,446.2 629,446.7 624,447.1 619,448.1 614,449.3 609,450.6 604,451.8 599,453.6 594,455.6 589,457.7 584,458.9 579,458.5 574,458.1 569,457.7 564,457.3 559,456.7 554,456.1 549,455.5 544,454.6 539,450 534,445.2 529,439.4 524,433.9 519,430.1 514,426.3 509,423.3 504,421.3 499,419.2 494,417.3" fill="#5a2aa8"/>
<polygon points="494,419.9 499,421.8 504,423.9 509,425.9 514,428.9 519,432.7 524,436.5 529,442 534,447.8 539,452.6 544,457.2 549,458.1 554,458.7 559,459.3 564,459.9 569,460.3 574,460.7 579,461.1 584,461.5 589,460.3 594,458.2 599,456.2 604,454.4 609,453.2 614,451.9 619,450.7 624,449.7 629,449.3 634,448.8 639,448.3 644,446.7 649,445.2 654,443.7 659,442.1 664,440 669,435.3 669,446.5 664,451.2 659,453.4 654,454.9 649,456.4 644,458 639,459.5 634,460.1 629,460.5 624,461 619,461.9 614,463.2 609,464.4 604,465.7 599,467.4 594,469.5 589,471.5 584,472.7 579,472.3 574,471.9 569,471.5 564,471.1 559,470.5 554,469.9 549,469.3 544,468.4 539,463.8 534,459.1 529,453.3 524,447.7 519,443.9 514,440.1 509,437.2 504,435.1 499,433.1 494,431.2" fill="#e0509e"/>
<polygon points="494,431.2 499,433.1 504,435.1 509,437.2 514,440.1 519,443.9 524,447.7 529,453.3 534,459.1 539,463.8 544,468.4 549,469.3 554,469.9 559,470.5 564,471.1 569,471.5 574,471.9 579,472.3 584,472.7 589,471.5 594,469.5 599,467.4 604,465.7 609,464.4 614,463.2 619,461.9 624,461 629,460.5 634,460.1 639,459.5 644,458 649,456.4 654,454.9 659,453.4 664,451.2 669,446.5 669,455.2 664,459.9 659,462 654,463.6 649,465.1 644,466.6 639,468.2 634,468.7 629,469.2 624,469.6 619,470.6 614,471.8 609,473.1 604,474.3 599,476 594,478.1 589,480.2 584,481.4 579,481 574,480.6 569,480.2 564,479.8 559,479.2 554,478.6 549,478 544,477 539,472.4 534,467.7 529,461.9 524,456.4 519,452.6 514,448.8 509,445.8 504,443.8 499,441.7 494,439.8" fill="#4a4cb0"/>
</g></g>
<g mask="url(#cxA7)"><g filter="url(#brkM)">
<polygon points="494,507.3 499,508.9 504,511 509,513.1 514,515.5 519,518.4 524,521.2 529,523.7 534,526.2 539,527.8 544,528.6 549,529.4 554,530.2 559,530.4 564,530.3 569,530.1 574,529.9 579,529.4 584,528.2 589,527 594,525.3 599,522.6 604,519.8 609,517.2 614,514.7 619,512.3 624,509.1 629,504.8 634,496.8 639,484.9 644,474.9 649,465.6 654,459.6 659,454.2 664,451 669,447.8 674,444.3 679,440.5 684,436.7 689,431.2 694,426.1 699,423.2 704,420.3 709,419.1 714,418.2 719,417.2 719,425.9 714,426.9 709,427.9 704,429.1 699,432 694,434.8 689,440 684,445.5 679,449.3 674,453.1 669,456.6 664,459.7 659,462.9 654,468.4 649,474.3 644,483.7 639,493.6 634,505.6 629,513.6 624,517.8 619,521 614,523.5 609,526 604,528.6 599,531.3 594,534.1 589,535.8 584,537 579,538.2 574,538.7 569,538.8 564,539 559,539.2 554,539 549,538.2 544,537.3 539,536.5 534,535 529,532.5 524,529.9 519,527.2 514,524.3 509,521.8 504,519.8 499,517.7 494,516" fill="#4a4cb0"/>
<polygon points="494,518.7 499,520.3 504,522.4 509,524.5 514,526.9 519,529.8 524,532.6 529,535.1 534,537.6 539,539.2 544,540 549,540.8 554,541.6 559,541.8 564,541.7 569,541.5 574,541.3 579,540.8 584,539.6 589,538.4 594,536.7 599,534 604,531.2 609,528.6 614,526.1 619,523.6 624,520.5 629,516.2 634,508.2 639,496.3 644,486.3 649,476.9 654,471 659,465.5 664,462.4 669,459.2 674,455.7 679,451.9 684,448.1 689,442.6 694,437.5 699,434.6 704,431.7 709,430.5 714,429.5 719,428.6 719,440 714,440.9 709,441.9 704,443.1 699,446 694,448.9 689,454 684,459.5 679,463.3 674,467.1 669,470.6 664,473.8 659,476.9 654,482.4 649,488.3 644,497.7 639,507.7 634,519.6 629,527.6 624,531.9 619,535 614,537.5 609,540 604,542.6 599,545.3 594,548.1 589,549.8 584,551 579,552.2 574,552.7 569,552.9 564,553.1 559,553.2 554,553 549,552.2 544,551.4 539,550.5 534,549 529,546.5 524,544 519,541.2 514,538.3 509,535.9 504,533.8 499,531.7 494,530.1" fill="#e0509e"/>
<polygon points="494,530.1 499,531.7 504,533.8 509,535.9 514,538.3 519,541.2 524,544 529,546.5 534,549 539,550.5 544,551.4 549,552.2 554,553 559,553.2 564,553.1 569,552.9 574,552.7 579,552.2 584,551 589,549.8 594,548.1 599,545.3 604,542.6 609,540 614,537.5 619,535 624,531.9 629,527.6 634,519.6 639,507.7 644,497.7 649,488.3 654,482.4 659,476.9 664,473.8 669,470.6 674,467.1 679,463.3 684,459.5 689,454 694,448.9 699,446 704,443.1 709,441.9 714,440.9 719,440 719,448.7 714,449.7 709,450.7 704,451.9 699,454.7 694,457.6 689,462.8 684,468.3 679,472.1 674,475.9 669,479.3 664,482.5 659,485.7 654,491.2 649,497.1 644,506.5 639,516.4 634,528.4 629,536.4 624,540.6 619,543.8 614,546.3 609,548.8 604,551.4 599,554.1 594,556.9 589,558.6 584,559.8 579,560.9 574,561.4 569,561.6 564,561.8 559,562 554,561.8 549,561 544,560.1 539,559.3 534,557.8 529,555.3 524,552.7 519,549.9 514,547.1 509,544.6 504,542.6 499,540.5 494,538.8" fill="#5a2aa8"/>
<polygon points="494,541.5 499,543.1 504,545.2 509,547.3 514,549.7 519,552.6 524,555.4 529,557.9 534,560.4 539,561.9 544,562.8 549,563.6 554,564.4 559,564.6 564,564.5 569,564.3 574,564.1 579,563.6 584,562.4 589,561.2 594,559.5 599,556.7 604,554 609,551.4 614,548.9 619,546.4 624,543.3 629,539 634,531 639,519.1 644,509.1 649,499.7 654,493.8 659,488.3 664,485.2 669,482 674,478.5 679,474.7 684,470.9 689,465.4 694,460.3 699,457.4 704,454.5 709,453.3 714,452.3 719,451.3 719,462.7 714,463.7 709,464.7 704,465.9 699,468.8 694,471.7 689,476.8 684,482.3 679,486.1 674,489.9 669,493.4 664,496.6 659,499.7 654,505.2 649,511.1 644,520.5 639,530.4 634,542.4 629,550.4 624,554.6 619,557.8 614,560.3 609,562.8 604,565.4 599,568.1 594,570.9 589,572.6 584,573.8 579,575 574,575.5 569,575.7 564,575.9 559,576 554,575.8 549,575 544,574.2 539,573.3 534,571.8 529,569.3 524,566.8 519,564 514,561.1 509,558.7 504,556.6 499,554.5 494,552.8" fill="#e0509e"/>
<polygon points="494,552.8 499,554.5 504,556.6 509,558.7 514,561.1 519,564 524,566.8 529,569.3 534,571.8 539,573.3 544,574.2 549,575 554,575.8 559,576 564,575.9 569,575.7 574,575.5 579,575 584,573.8 589,572.6 594,570.9 599,568.1 604,565.4 609,562.8 614,560.3 619,557.8 624,554.6 629,550.4 634,542.4 639,530.4 644,520.5 649,511.1 654,505.2 659,499.7 664,496.6 669,493.4 674,489.9 679,486.1 684,482.3 689,476.8 694,471.7 699,468.8 704,465.9 709,464.7 714,463.7 719,462.7 719,471.5 714,472.5 709,473.5 704,474.6 699,477.5 694,480.4 689,485.6 684,491.1 679,494.9 674,498.6 669,502.1 664,505.3 659,508.5 654,514 649,519.9 644,529.3 639,539.2 634,551.2 629,559.2 624,563.4 619,566.6 614,569.1 609,571.6 604,574.1 599,576.9 594,579.7 589,581.4 584,582.6 579,583.7 574,584.2 569,584.4 564,584.6 559,584.8 554,584.6 549,583.8 544,582.9 539,582.1 534,580.6 529,578.1 524,575.5 519,572.7 514,569.9 509,567.4 504,565.3 499,563.3 494,561.6" fill="#4a4cb0"/>
<polygon points="494,561.6 499,563.3 504,565.3 509,567.4 514,569.9 519,572.7 524,575.5 529,578.1 534,580.6 539,582.1 544,582.9 549,583.8 554,584.6 559,584.8 564,584.6 569,584.4 574,584.2 579,583.7 584,582.6 589,581.4 594,579.7 599,576.9 604,574.1 609,571.6 614,569.1 619,566.6 624,563.4 629,559.2 634,551.2 639,539.2 644,529.3 649,519.9 654,514 659,508.5 664,505.3 669,502.1 674,498.6 679,494.9 684,491.1 689,485.6 694,480.4 699,477.5 704,474.6 709,473.5 714,472.5 719,471.5 719,475.9 714,476.9 709,477.9 704,479 699,481.9 694,484.8 689,490 684,495.5 679,499.2 674,503 669,506.5 664,509.7 659,512.9 654,518.4 649,524.3 644,533.7 639,543.6 634,555.6 629,563.6 624,567.8 619,571 614,573.5 609,576 604,578.5 599,581.3 594,584.1 589,585.8 584,586.9 579,588.1 574,588.6 569,588.8 564,589 559,589.2 554,589 549,588.1 544,587.3 539,586.5 534,585 529,582.4 524,579.9 519,577.1 514,574.3 509,571.8 504,569.7 499,567.7 494,566" fill="#2f8a84"/>
</g></g>
<g mask="url(#cxA)"><g filter="url(#brkH)">
<polygon points="494,453.1 499,455 504,457.1 509,459.1 514,462 519,465.7 524,469.3 529,474.4 534,479.8 539,484 544,488.1 549,489 554,489.7 559,490.2 564,490.7 569,491 574,491.3 579,491.6 584,491.8 589,490.5 594,488.5 599,486.4 604,484.5 609,483.1 614,481.6 619,480.2 624,479 629,478 634,476.4 639,474.2 644,471.5 649,468.9 654,466.7 659,464.6 664,462.3 669,457.8 669,455.3 664,459.5 659,462 654,464.6 649,467.4 644,471.2 639,475.1 634,479 629,481.6 624,483.1 619,484.7 614,486.3 609,487.9 604,489.5 599,491.5 594,493.8 589,495.8 584,497 579,497 574,496.9 569,496.6 564,496.4 559,496 554,495.5 549,494.9 544,494 539,490.5 534,486.7 529,481.8 524,477.1 519,473.6 514,470.1 509,467.2 504,465.2 499,463.1 494,461.3" fill="#2f8a84"/>
<polygon points="494,469.4 499,471.2 504,473.3 509,475.4 514,478.1 519,481.5 524,484.8 529,489.1 534,493.5 539,496.9 544,499.8 549,500.7 554,501.4 559,501.9 564,502.1 569,502.3 574,502.4 579,502.4 584,502.2 589,501 594,499 599,496.7 604,494.5 609,492.7 614,490.9 619,489.1 624,487.2 629,485.2 634,481.5 639,476 644,470.9 649,466 654,462.6 659,459.4 664,456.8 669,452.7 669,450.2 664,454 659,456.7 654,460.5 649,464.6 644,470.6 639,476.9 634,484 629,488.8 624,491.4 619,493.6 614,495.6 609,497.5 604,499.5 599,501.8 594,504.3 589,506.2 584,507.4 579,507.9 574,508 569,507.9 564,507.8 559,507.7 554,507.3 549,506.6 544,505.7 539,503.3 534,500.4 529,496.4 524,492.6 519,489.4 514,486.1 509,483.5 504,481.4 499,479.3 494,477.6" fill="#b06a5a"/>
<polygon points="494,485.7 499,487.4 504,489.5 509,491.6 514,494.2 519,497.3 524,500.4 529,503.8 534,507.3 539,509.7 544,511.6 549,512.4 554,513.2 559,513.5 564,513.6 569,513.5 574,513.5 579,513.3 584,512.6 589,511.4 594,509.6 599,507 604,504.5 609,502.3 614,500.2 619,498.1 624,495.5 629,492.4 634,486.5 639,477.8 644,470.3 649,463.1 654,458.5 659,454.1 664,451.2 669,447.6 669,445.1 664,448.5 659,451.5 654,456.4 649,461.7 644,470 639,478.7 634,489.1 629,496 624,499.7 619,502.5 614,504.8 609,507.1 604,509.5 599,512.1 594,514.8 589,516.6 584,517.8 579,518.7 574,519.1 569,519.2 564,519.3 559,519.4 554,519.1 549,518.3 544,517.5 539,516.1 534,514.1 529,511.1 524,508.1 519,505.2 514,502.2 509,499.7 504,497.6 499,495.5 494,493.9" fill="#2f8a84"/>
</g></g>
<g mask="url(#cxA)"><g filter="url(#brkM)">
<polygon points="494,742 499,742 504,742 509,742 514,742 519,743.4 524,748 529,752.6 534,757.2 539,760.8 544,761.5 549,762.2 554,762.9 559,763.1 564,761 569,758.8 574,756.7 579,754.6 584,752.5 589,750.4 594,748.2 599,745.6 604,742.7 609,739.8 614,736.9 619,734.1 624,731.2 629,728.3 634,719.2 639,695 644,686 649,676.9 654,669 659,665.5 664,662 669,658.6 669,663.4 664,666.8 659,670.3 654,673.8 649,681.7 644,690.8 639,699.8 634,724 629,733.1 624,736 619,738.9 614,741.8 609,744.6 604,747.5 599,750.4 594,753 589,755.2 584,757.3 579,759.4 574,761.5 569,763.6 564,765.8 559,767.9 554,767.7 549,767 544,766.3 539,765.6 534,762 529,757.4 524,752.8 519,748.2 514,746.8 509,746.8 504,746.8 499,746.8 494,746.8" fill="#8ad8d8"/>
<polygon points="494,746.8 499,746.8 504,746.8 509,746.8 514,746.8 519,748.2 524,752.8 529,757.4 534,762 539,765.6 544,766.3 549,767 554,767.7 559,767.9 564,765.8 569,763.6 574,761.5 579,759.4 584,757.3 589,755.2 594,753 599,750.4 604,747.5 609,744.6 614,741.8 619,738.9 624,736 629,733.1 634,724 639,699.8 644,690.8 649,681.7 654,673.8 659,670.3 664,666.8 669,663.4 669,673 664,676.5 659,679.9 654,683.4 649,691.3 644,700.4 639,709.4 634,733.6 629,742.7 624,745.6 619,748.5 614,751.4 609,754.2 604,757.1 599,760 594,762.7 589,764.8 584,766.9 579,769 574,771.1 569,773.3 564,775.4 559,777.5 554,777.3 549,776.6 544,775.9 539,775.2 534,771.6 529,767 524,762.4 519,757.8 514,756.4 509,756.4 504,756.4 499,756.4 494,756.4" fill="#4a4cb0"/>
<polygon points="494,758.8 499,758.8 504,758.8 509,758.8 514,758.8 519,760.2 524,764.8 529,769.4 534,774 539,777.6 544,778.3 549,779 554,779.8 559,779.9 564,777.8 569,775.7 574,773.5 579,771.4 584,769.3 589,767.2 594,765.1 599,762.4 604,759.5 609,756.6 614,753.8 619,750.9 624,748 629,745.1 634,736 639,711.8 644,702.8 649,693.7 654,685.8 659,682.3 664,678.9 669,675.4 669,687.9 664,691.4 659,694.8 654,698.3 649,706.2 644,715.3 639,724.3 634,748.5 629,757.6 624,760.5 619,763.4 614,766.3 609,769.1 604,772 599,774.9 594,777.6 589,779.7 584,781.8 579,783.9 574,786 569,788.2 564,790.3 559,792.4 554,792.2 549,791.5 544,790.8 539,790.1 534,786.5 529,781.9 524,777.3 519,772.7 514,771.3 509,771.3 504,771.3 499,771.3 494,771.3" fill="#e0509e"/>
<polygon points="494,771.3 499,771.3 504,771.3 509,771.3 514,771.3 519,772.7 524,777.3 529,781.9 534,786.5 539,790.1 544,790.8 549,791.5 554,792.2 559,792.4 564,790.3 569,788.2 574,786 579,783.9 584,781.8 589,779.7 594,777.6 599,774.9 604,772 609,769.1 614,766.3 619,763.4 624,760.5 629,757.6 634,748.5 639,724.3 644,715.3 649,706.2 654,698.3 659,694.8 664,691.4 669,687.9 669,697.5 664,701 659,704.5 654,707.9 649,715.9 644,724.9 639,733.9 634,758.1 629,767.2 624,770.1 619,773 614,775.9 609,778.8 604,781.6 599,784.5 594,787.2 589,789.3 584,791.4 579,793.5 574,795.6 569,797.8 564,799.9 559,802 554,801.9 549,801.1 544,800.4 539,799.7 534,796.1 529,791.5 524,786.9 519,782.3 514,780.9 509,780.9 504,780.9 499,780.9 494,780.9" fill="#5a2aa8"/>
<polygon points="494,786.7 499,786.7 504,786.7 509,786.7 514,786.7 519,788.1 524,792.7 529,797.3 534,801.9 539,805.5 544,806.2 549,806.9 554,807.6 559,807.8 564,805.7 569,803.5 574,801.4 579,799.3 584,797.2 589,795.1 594,792.9 599,790.3 604,787.4 609,784.5 614,781.6 619,778.8 624,775.9 629,773 634,763.8 639,739.7 644,730.7 649,721.6 654,713.7 659,710.2 664,706.7 669,703.3 669,712.9 664,716.3 659,719.8 654,723.3 649,731.2 644,740.3 639,749.3 634,773.5 629,782.6 624,785.5 619,788.4 614,791.3 609,794.1 604,797 599,799.9 594,802.5 589,804.7 584,806.8 579,808.9 574,811 569,813.1 564,815.3 559,817.4 554,817.2 549,816.5 544,815.8 539,815.1 534,811.5 529,806.9 524,802.3 519,797.7 514,796.3 509,796.3 504,796.3 499,796.3 494,796.3" fill="#b06a5a"/>
<polygon points="494,796.3 499,796.3 504,796.3 509,796.3 514,796.3 519,797.7 524,802.3 529,806.9 534,811.5 539,815.1 544,815.8 549,816.5 554,817.2 559,817.4 564,815.3 569,813.1 574,811 579,808.9 584,806.8 589,804.7 594,802.5 599,799.9 604,797 609,794.1 614,791.3 619,788.4 624,785.5 629,782.6 634,773.5 639,749.3 644,740.3 649,731.2 654,723.3 659,719.8 664,716.3 669,712.9 669,720.6 664,724 659,727.5 654,731 649,738.9 644,748 639,757 634,781.2 629,790.3 624,793.2 619,796.1 614,798.9 609,801.8 604,804.7 599,807.6 594,810.2 589,812.4 584,814.5 579,816.6 574,818.7 569,820.8 564,823 559,825.1 554,824.9 549,824.2 544,823.5 539,822.8 534,819.2 529,814.6 524,810 519,805.4 514,804 509,804 504,804 499,804 494,804" fill="#2f8a84"/>
</g></g>
<g mask="url(#cxB)"><g filter="url(#brkM)">
<polygon points="630,727.7 635,712.3 640,693.2 645,684.2 650,675.1 655,668.3 660,664.8 665,661.3 670,657.9 675,654.4 680,650.9 685,647.7 690,644.7 695,641.7 700,638.6 705,635.6 710,632.6 715,631.6 720,631.1 725,630.6 730,630 735,629.5 740,629 745,629.2 750,629.5 755,629.7 760,629.9 765,630.2 770,630.4 775,630.6 780,630.9 785,632.1 790,634.8 795,637.5 800,640.1 805,642.8 810,645.5 815,649 820,653 825,657 830,660.9 835,664.9 840,668.9 845,672.9 850,676.9 855,681 860,685 865,689 870,692.9 875,694.2 880,695.5 885,696.8 890,698.1 895,699.3 900,700.6 905,701.9 910,703.2 915,706.8 920,713.6 925,720.5 930,727.4 935,734.6 940,741.9 945,746 950,747.9 955,749.9 960,751.8 965,753.7 970,755.7 975,755.5 980,755 985,754.4 990,753.8 995,753.6 1000,754.6 1005,755.5 1010,756.5 1015,757.5 1020,758.5 1025,761.3 1030,766.3 1035,771.4 1040,776.4 1045,780.4 1050,782.9 1055,785.4 1060,787.9 1065,790.4 1070,792.9 1075,794.4 1080,795.4 1085,796.4 1090,797.5 1095,798.5 1100,799.5 1105,800.5 1110,801.6 1115,802.7 1120,803.7 1125,804.8 1130,803.1 1135,800.7 1140,798.2 1145,795.8 1150,793.4 1155,791 1160,796 1165,801 1170,806 1175,811.1 1180,816.1 1185,821.1 1190,824.1 1195,826.2 1200,828.3 1200,833.1 1195,831 1190,828.9 1185,825.9 1180,820.9 1175,815.9 1170,810.9 1165,805.8 1160,800.8 1155,795.8 1150,798.2 1145,800.6 1140,803 1135,805.5 1130,807.9 1125,809.6 1120,808.5 1115,807.5 1110,806.4 1105,805.3 1100,804.3 1095,803.3 1090,802.3 1085,801.3 1080,800.3 1075,799.2 1070,797.7 1065,795.2 1060,792.7 1055,790.2 1050,787.7 1045,785.2 1040,781.2 1035,776.2 1030,771.1 1025,766.1 1020,763.3 1015,762.3 1010,761.3 1005,760.4 1000,759.4 995,758.4 990,758.7 985,759.2 980,759.8 975,760.3 970,760.5 965,758.6 960,756.6 955,754.7 950,752.7 945,750.8 940,746.7 935,739.5 930,732.2 925,725.3 920,718.4 915,711.6 910,708 905,706.7 900,705.4 895,704.2 890,702.9 885,701.6 880,700.3 875,699 870,697.7 865,693.8 860,689.8 855,685.8 850,681.8 845,677.7 840,673.7 835,669.7 830,665.7 825,661.8 820,657.8 815,653.8 810,650.3 805,647.6 800,645 795,642.3 790,639.6 785,636.9 780,635.7 775,635.4 770,635.2 765,635 760,634.7 755,634.5 750,634.3 745,634 740,633.8 735,634.3 730,634.8 725,635.4 720,635.9 715,636.4 710,637.4 705,640.4 700,643.4 695,646.5 690,649.5 685,652.5 680,655.7 675,659.2 670,662.7 665,666.1 660,669.6 655,673.1 650,679.9 645,689 640,698 635,717.1 630,732.5" fill="#8ad8d8"/>
<polygon points="630,732.5 635,717.1 640,698 645,689 650,679.9 655,673.1 660,669.6 665,666.1 670,662.7 675,659.2 680,655.7 685,652.5 690,649.5 695,646.5 700,643.4 705,640.4 710,637.4 715,636.4 720,635.9 725,635.4 730,634.8 735,634.3 740,633.8 745,634 750,634.3 755,634.5 760,634.7 765,635 770,635.2 775,635.4 780,635.7 785,636.9 790,639.6 795,642.3 800,645 805,647.6 810,650.3 815,653.8 820,657.8 825,661.8 830,665.7 835,669.7 840,673.7 845,677.7 850,681.8 855,685.8 860,689.8 865,693.8 870,697.7 875,699 880,700.3 885,701.6 890,702.9 895,704.2 900,705.4 905,706.7 910,708 915,711.6 920,718.4 925,725.3 930,732.2 935,739.5 940,746.7 945,750.8 950,752.7 955,754.7 960,756.6 965,758.6 970,760.5 975,760.3 980,759.8 985,759.2 990,758.7 995,758.4 1000,759.4 1005,760.4 1010,761.3 1015,762.3 1020,763.3 1025,766.1 1030,771.1 1035,776.2 1040,781.2 1045,785.2 1050,787.7 1055,790.2 1060,792.7 1065,795.2 1070,797.7 1075,799.2 1080,800.3 1085,801.3 1090,802.3 1095,803.3 1100,804.3 1105,805.3 1110,806.4 1115,807.5 1120,808.5 1125,809.6 1130,807.9 1135,805.5 1140,803 1145,800.6 1150,798.2 1155,795.8 1160,800.8 1165,805.8 1170,810.9 1175,815.9 1180,820.9 1185,825.9 1190,828.9 1195,831 1200,833.1 1200,842.7 1195,840.6 1190,838.5 1185,835.5 1180,830.5 1175,825.5 1170,820.5 1165,815.5 1160,810.4 1155,805.4 1150,807.8 1145,810.2 1140,812.7 1135,815.1 1130,817.5 1125,819.2 1120,818.1 1115,817.1 1110,816 1105,814.9 1100,813.9 1095,812.9 1090,811.9 1085,810.9 1080,809.9 1075,808.9 1070,807.3 1065,804.8 1060,802.3 1055,799.8 1050,797.3 1045,794.8 1040,790.8 1035,785.8 1030,780.8 1025,775.7 1020,772.9 1015,771.9 1010,770.9 1005,770 1000,769 995,768 990,768.3 985,768.8 980,769.4 975,769.9 970,770.1 965,768.2 960,766.2 955,764.3 950,762.3 945,760.4 940,756.3 935,749.1 930,741.8 925,734.9 920,728.1 915,721.2 910,717.6 905,716.3 900,715.1 895,713.8 890,712.5 885,711.2 880,709.9 875,708.6 870,707.3 865,703.4 860,699.4 855,695.4 850,691.4 845,687.3 840,683.3 835,679.3 830,675.4 825,671.4 820,667.4 815,663.4 810,659.9 805,657.3 800,654.6 795,651.9 790,649.2 785,646.5 780,645.3 775,645 770,644.8 765,644.6 760,644.3 755,644.1 750,643.9 745,643.7 740,643.4 735,643.9 730,644.5 725,645 720,645.5 715,646 710,647 705,650 700,653.1 695,656.1 690,659.1 685,662.1 680,665.3 675,668.8 670,672.3 665,675.8 660,679.2 655,682.7 650,689.5 645,698.6 640,707.6 635,726.7 630,742.1" fill="#4a4cb0"/>
<polygon points="630,744.5 635,729.1 640,710 645,701 650,691.9 655,685.1 660,681.6 665,678.2 670,674.7 675,671.2 680,667.7 685,664.5 690,661.5 695,658.5 700,655.5 705,652.4 710,649.4 715,648.4 720,647.9 725,647.4 730,646.9 735,646.3 740,645.8 745,646.1 750,646.3 755,646.5 760,646.8 765,647 770,647.2 775,647.4 780,647.7 785,648.9 790,651.6 795,654.3 800,657 805,659.7 810,662.3 815,665.8 820,669.8 825,673.8 830,677.8 835,681.7 840,685.7 845,689.7 850,693.8 855,697.8 860,701.8 865,705.8 870,709.7 875,711 880,712.3 885,713.6 890,714.9 895,716.2 900,717.5 905,718.8 910,720 915,723.6 920,730.5 925,737.3 930,744.2 935,751.5 940,758.7 945,762.8 950,764.7 955,766.7 960,768.6 965,770.6 970,772.5 975,772.4 980,771.8 985,771.2 990,770.7 995,770.4 1000,771.4 1005,772.4 1010,773.3 1015,774.3 1020,775.3 1025,778.1 1030,783.2 1035,788.2 1040,793.2 1045,797.2 1050,799.7 1055,802.2 1060,804.7 1065,807.2 1070,809.7 1075,811.3 1080,812.3 1085,813.3 1090,814.3 1095,815.3 1100,816.3 1105,817.3 1110,818.4 1115,819.5 1120,820.5 1125,821.6 1130,819.9 1135,817.5 1140,815.1 1145,812.6 1150,810.2 1155,807.8 1160,812.8 1165,817.9 1170,822.9 1175,827.9 1180,832.9 1185,837.9 1190,840.9 1195,843 1200,845.1 1200,857.6 1195,855.5 1190,853.4 1185,850.4 1180,845.4 1175,840.4 1170,835.4 1165,830.3 1160,825.3 1155,820.3 1150,822.7 1145,825.1 1140,827.6 1135,830 1130,832.4 1125,834.1 1120,833 1115,832 1110,830.9 1105,829.8 1100,828.8 1095,827.8 1090,826.8 1085,825.8 1080,824.8 1075,823.8 1070,822.2 1065,819.7 1060,817.2 1055,814.7 1050,812.2 1045,809.7 1040,805.7 1035,800.7 1030,795.7 1025,790.6 1020,787.8 1015,786.8 1010,785.8 1005,784.9 1000,783.9 995,782.9 990,783.2 985,783.7 980,784.3 975,784.8 970,785 965,783.1 960,781.1 955,779.2 950,777.2 945,775.3 940,771.2 935,764 930,756.7 925,749.8 920,743 915,736.1 910,732.5 905,731.2 900,730 895,728.7 890,727.4 885,726.1 880,724.8 875,723.5 870,722.2 865,718.3 860,714.3 855,710.3 850,706.3 845,702.2 840,698.2 835,694.2 830,690.3 825,686.3 820,682.3 815,678.3 810,674.8 805,672.2 800,669.5 795,666.8 790,664.1 785,661.4 780,660.2 775,659.9 770,659.7 765,659.5 760,659.2 755,659 750,658.8 745,658.6 740,658.3 735,658.8 730,659.4 725,659.9 720,660.4 715,660.9 710,661.9 705,664.9 700,668 695,671 690,674 685,677 680,680.2 675,683.7 670,687.2 665,690.7 660,694.1 655,697.6 650,704.4 645,713.5 640,722.5 635,741.6 630,757" fill="#e0509e"/>
<polygon points="630,757 635,741.6 640,722.5 645,713.5 650,704.4 655,697.6 660,694.1 665,690.7 670,687.2 675,683.7 680,680.2 685,677 690,674 695,671 700,668 705,664.9 710,661.9 715,660.9 720,660.4 725,659.9 730,659.4 735,658.8 740,658.3 745,658.6 750,658.8 755,659 760,659.2 765,659.5 770,659.7 775,659.9 780,660.2 785,661.4 790,664.1 795,666.8 800,669.5 805,672.2 810,674.8 815,678.3 820,682.3 825,686.3 830,690.3 835,694.2 840,698.2 845,702.2 850,706.3 855,710.3 860,714.3 865,718.3 870,722.2 875,723.5 880,724.8 885,726.1 890,727.4 895,728.7 900,730 905,731.2 910,732.5 915,736.1 920,743 925,749.8 930,756.7 935,764 940,771.2 945,775.3 950,777.2 955,779.2 960,781.1 965,783.1 970,785 975,784.8 980,784.3 985,783.7 990,783.2 995,782.9 1000,783.9 1005,784.9 1010,785.8 1015,786.8 1020,787.8 1025,790.6 1030,795.7 1035,800.7 1040,805.7 1045,809.7 1050,812.2 1055,814.7 1060,817.2 1065,819.7 1070,822.2 1075,823.8 1080,824.8 1085,825.8 1090,826.8 1095,827.8 1100,828.8 1105,829.8 1110,830.9 1115,832 1120,833 1125,834.1 1130,832.4 1135,830 1140,827.6 1145,825.1 1150,822.7 1155,820.3 1160,825.3 1165,830.3 1170,835.4 1175,840.4 1180,845.4 1185,850.4 1190,853.4 1195,855.5 1200,857.6 1200,867.2 1195,865.1 1190,863 1185,860 1180,855 1175,850 1170,845 1165,840 1160,834.9 1155,829.9 1150,832.3 1145,834.8 1140,837.2 1135,839.6 1130,842 1125,843.7 1120,842.6 1115,841.6 1110,840.5 1105,839.4 1100,838.4 1095,837.4 1090,836.4 1085,835.4 1080,834.4 1075,833.4 1070,831.8 1065,829.3 1060,826.8 1055,824.3 1050,821.8 1045,819.3 1040,815.3 1035,810.3 1030,805.3 1025,800.2 1020,797.4 1015,796.4 1010,795.5 1005,794.5 1000,793.5 995,792.5 990,792.8 985,793.3 980,793.9 975,794.5 970,794.6 965,792.7 960,790.7 955,788.8 950,786.8 945,784.9 940,780.8 935,773.6 930,766.3 925,759.4 920,752.6 915,745.7 910,742.2 905,740.9 900,739.6 895,738.3 890,737 885,735.7 880,734.4 875,733.1 870,731.8 865,727.9 860,723.9 855,719.9 850,715.9 845,711.8 840,707.8 835,703.9 830,699.9 825,695.9 820,691.9 815,687.9 810,684.5 805,681.8 800,679.1 795,676.4 790,673.7 785,671 780,669.8 775,669.6 770,669.3 765,669.1 760,668.9 755,668.6 750,668.4 745,668.2 740,667.9 735,668.4 730,669 725,669.5 720,670 715,670.5 710,671.5 705,674.6 700,677.6 695,680.6 690,683.6 685,686.6 680,689.8 675,693.3 670,696.8 665,700.3 660,703.8 655,707.2 650,714 645,723.1 640,732.1 635,751.2 630,766.7" fill="#5a2aa8"/>
<polygon points="630,772.4 635,757 640,737.9 645,728.8 650,719.8 655,713 660,709.5 665,706 670,702.6 675,699.1 680,695.6 685,692.4 690,689.4 695,686.4 700,683.3 705,680.3 710,677.3 715,676.3 720,675.8 725,675.2 730,674.7 735,674.2 740,673.7 745,673.9 750,674.2 755,674.4 760,674.6 765,674.9 770,675.1 775,675.3 780,675.6 785,676.8 790,679.5 795,682.2 800,684.8 805,687.5 810,690.2 815,693.7 820,697.7 825,701.7 830,705.6 835,709.6 840,713.6 845,717.6 850,721.6 855,725.7 860,729.7 865,733.7 870,737.6 875,738.9 880,740.2 885,741.5 890,742.7 895,744 900,745.3 905,746.6 910,747.9 915,751.5 920,758.3 925,765.2 930,772.1 935,779.3 940,786.6 945,790.7 950,792.6 955,794.6 960,796.5 965,798.4 970,800.4 975,800.2 980,799.7 985,799.1 990,798.5 995,798.3 1000,799.3 1005,800.2 1010,801.2 1015,802.2 1020,803.2 1025,806 1030,811 1035,816.1 1040,821.1 1045,825.1 1050,827.6 1055,830.1 1060,832.6 1065,835.1 1070,837.6 1075,839.1 1080,840.1 1085,841.1 1090,842.2 1095,843.2 1100,844.2 1105,845.2 1110,846.3 1115,847.3 1120,848.4 1125,849.5 1130,847.8 1135,845.4 1140,842.9 1145,840.5 1150,838.1 1155,835.7 1160,840.7 1165,845.7 1170,850.7 1175,855.8 1180,860.8 1185,865.8 1190,868.8 1195,870.9 1200,873 1200,882.6 1195,880.5 1190,878.4 1185,875.4 1180,870.4 1175,865.4 1170,860.4 1165,855.3 1160,850.3 1155,845.3 1150,847.7 1145,850.1 1140,852.6 1135,855 1130,857.4 1125,859.1 1120,858 1115,857 1110,855.9 1105,854.8 1100,853.8 1095,852.8 1090,851.8 1085,850.8 1080,849.8 1075,848.8 1070,847.2 1065,844.7 1060,842.2 1055,839.7 1050,837.2 1045,834.7 1040,830.7 1035,825.7 1030,820.6 1025,815.6 1020,812.8 1015,811.8 1010,810.8 1005,809.9 1000,808.9 995,807.9 990,808.2 985,808.7 980,809.3 975,809.8 970,810 965,808.1 960,806.1 955,804.2 950,802.2 945,800.3 940,796.2 935,789 930,781.7 925,774.8 920,767.9 915,761.1 910,757.5 905,756.2 900,754.9 895,753.7 890,752.4 885,751.1 880,749.8 875,748.5 870,747.2 865,743.3 860,739.3 855,735.3 850,731.3 845,727.2 840,723.2 835,719.2 830,715.2 825,711.3 820,707.3 815,703.3 810,699.8 805,697.1 800,694.5 795,691.8 790,689.1 785,686.4 780,685.2 775,684.9 770,684.7 765,684.5 760,684.2 755,684 750,683.8 745,683.5 740,683.3 735,683.8 730,684.3 725,684.9 720,685.4 715,685.9 710,686.9 705,689.9 700,692.9 695,696 690,699 685,702 680,705.2 675,708.7 670,712.2 665,715.7 660,719.1 655,722.6 650,729.4 645,738.5 640,747.5 635,766.6 630,782" fill="#b06a5a"/>
<polygon points="630,782 635,766.6 640,747.5 645,738.5 650,729.4 655,722.6 660,719.1 665,715.7 670,712.2 675,708.7 680,705.2 685,702 690,699 695,696 700,692.9 705,689.9 710,686.9 715,685.9 720,685.4 725,684.9 730,684.3 735,683.8 740,683.3 745,683.5 750,683.8 755,684 760,684.2 765,684.5 770,684.7 775,684.9 780,685.2 785,686.4 790,689.1 795,691.8 800,694.5 805,697.1 810,699.8 815,703.3 820,707.3 825,711.3 830,715.2 835,719.2 840,723.2 845,727.2 850,731.3 855,735.3 860,739.3 865,743.3 870,747.2 875,748.5 880,749.8 885,751.1 890,752.4 895,753.7 900,754.9 905,756.2 910,757.5 915,761.1 920,767.9 925,774.8 930,781.7 935,789 940,796.2 945,800.3 950,802.2 955,804.2 960,806.1 965,808.1 970,810 975,809.8 980,809.3 985,808.7 990,808.2 995,807.9 1000,808.9 1005,809.9 1010,810.8 1015,811.8 1020,812.8 1025,815.6 1030,820.6 1035,825.7 1040,830.7 1045,834.7 1050,837.2 1055,839.7 1060,842.2 1065,844.7 1070,847.2 1075,848.8 1080,849.8 1085,850.8 1090,851.8 1095,852.8 1100,853.8 1105,854.8 1110,855.9 1115,857 1120,858 1125,859.1 1130,857.4 1135,855 1140,852.6 1145,850.1 1150,847.7 1155,845.3 1160,850.3 1165,855.3 1170,860.4 1175,865.4 1180,870.4 1185,875.4 1190,878.4 1195,880.5 1200,882.6 1200,890.3 1195,888.2 1190,886.1 1185,883.1 1180,878.1 1175,873.1 1170,868 1165,863 1160,858 1155,853 1150,855.4 1145,857.8 1140,860.2 1135,862.7 1130,865.1 1125,866.8 1120,865.7 1115,864.7 1110,863.6 1105,862.5 1100,861.5 1095,860.5 1090,859.5 1085,858.4 1080,857.4 1075,856.4 1070,854.9 1065,852.4 1060,849.9 1055,847.4 1050,844.9 1045,842.4 1040,838.4 1035,833.4 1030,828.3 1025,823.3 1020,820.5 1015,819.5 1010,818.5 1005,817.5 1000,816.6 995,815.6 990,815.8 985,816.4 980,817 975,817.5 970,817.7 965,815.7 960,813.8 955,811.9 950,809.9 945,808 940,803.9 935,796.6 930,789.4 925,782.5 920,775.6 915,768.8 910,765.2 905,763.9 900,762.6 895,761.3 890,760.1 885,758.8 880,757.5 875,756.2 870,754.9 865,751 860,747 855,743 850,738.9 845,734.9 840,730.9 835,726.9 830,722.9 825,719 820,715 815,711 810,707.5 805,704.8 800,702.1 795,699.5 790,696.8 785,694.1 780,692.9 775,692.6 770,692.4 765,692.2 760,691.9 755,691.7 750,691.5 745,691.2 740,691 735,691.5 730,692 725,692.6 720,693.1 715,693.6 710,694.6 705,697.6 700,700.6 695,703.7 690,706.7 685,709.7 680,712.9 675,716.4 670,719.9 665,723.3 660,726.8 655,730.3 650,737.1 645,746.2 640,755.2 635,774.3 630,789.7" fill="#2f8a84"/>
</g></g>
<g mask="url(#cxC)"><g filter="url(#brkH)">
<polygon points="1160,796 1165,801 1170,806 1175,811.1 1180,816.1 1185,821.1 1190,824.1 1195,826.2 1200,828.3 1205,830.3 1210,832.4 1215,834.5 1220,836.6 1225,838.4 1230,840.1 1235,841.8 1240,843.6 1245,845.3 1250,847 1255,848.7 1260,850.4 1265,852.2 1270,852.8 1275,852.3 1280,851.9 1285,851.5 1290,851 1295,850.6 1300,850.2 1305,850.6 1310,851.5 1315,852.8 1320,854.2 1325,855.6 1330,857.1 1335,858.5 1340,859.9 1345,861.3 1350,862.7 1355,864.5 1360,866.5 1365,868.4 1370,870.3 1375,872.2 1380,874.2 1385,876.1 1390,877.9 1395,879.4 1400,880.8 1405,882.3 1410,883.8 1415,885.3 1420,885.5 1425,884.5 1430,883.5 1435,882.6 1440,881.6 1445,880.6 1450,879.6 1455,878.6 1460,877.6 1465,876.7 1470,875.7 1475,874.7 1480,874.3 1480,879.1 1475,879.5 1470,880.5 1465,881.5 1460,882.5 1455,883.4 1450,884.4 1445,885.4 1440,886.4 1435,887.4 1430,888.3 1425,889.3 1420,890.3 1415,890.1 1410,888.6 1405,887.1 1400,885.6 1395,884.2 1390,882.7 1385,880.9 1380,879 1375,877 1370,875.1 1365,873.2 1360,871.3 1355,869.3 1350,867.5 1345,866.1 1340,864.7 1335,863.3 1330,861.9 1325,860.5 1320,859 1315,857.6 1310,856.3 1305,855.4 1300,855 1295,855.4 1290,855.8 1285,856.3 1280,856.7 1275,857.1 1270,857.6 1265,857 1260,855.3 1255,853.5 1250,851.8 1245,850.1 1240,848.4 1235,846.6 1230,844.9 1225,843.2 1220,841.4 1215,839.3 1210,837.2 1205,835.2 1200,833.1 1195,831 1190,828.9 1185,825.9 1180,820.9 1175,815.9 1170,810.9 1165,805.8 1160,800.8" fill="#8ad8d8"/>
<polygon points="1160,800.8 1165,805.8 1170,810.9 1175,815.9 1180,820.9 1185,825.9 1190,828.9 1195,831 1200,833.1 1205,835.2 1210,837.2 1215,839.3 1220,841.4 1225,843.2 1230,844.9 1235,846.6 1240,848.4 1245,850.1 1250,851.8 1255,853.5 1260,855.3 1265,857 1270,857.6 1275,857.1 1280,856.7 1285,856.3 1290,855.8 1295,855.4 1300,855 1305,855.4 1310,856.3 1315,857.6 1320,859 1325,860.5 1330,861.9 1335,863.3 1340,864.7 1345,866.1 1350,867.5 1355,869.3 1360,871.3 1365,873.2 1370,875.1 1375,877 1380,879 1385,880.9 1390,882.7 1395,884.2 1400,885.6 1405,887.1 1410,888.6 1415,890.1 1420,890.3 1425,889.3 1430,888.3 1435,887.4 1440,886.4 1445,885.4 1450,884.4 1455,883.4 1460,882.5 1465,881.5 1470,880.5 1475,879.5 1480,879.1 1480,888.8 1475,889.1 1470,890.1 1465,891.1 1460,892.1 1455,893 1450,894 1445,895 1440,896 1435,897 1430,898 1425,898.9 1420,899.9 1415,899.7 1410,898.2 1405,896.7 1400,895.3 1395,893.8 1390,892.3 1385,890.5 1380,888.6 1375,886.6 1370,884.7 1365,882.8 1360,880.9 1355,879 1350,877.1 1345,875.7 1340,874.3 1335,872.9 1330,871.5 1325,870.1 1320,868.6 1315,867.2 1310,865.9 1305,865 1300,864.6 1295,865 1290,865.5 1285,865.9 1280,866.3 1275,866.8 1270,867.2 1265,866.6 1260,864.9 1255,863.1 1250,861.4 1245,859.7 1240,858 1235,856.2 1230,854.5 1225,852.8 1220,851 1215,848.9 1210,846.8 1205,844.8 1200,842.7 1195,840.6 1190,838.5 1185,835.5 1180,830.5 1175,825.5 1170,820.5 1165,815.5 1160,810.4" fill="#4a4cb0"/>
<polygon points="1160,812.8 1165,817.9 1170,822.9 1175,827.9 1180,832.9 1185,837.9 1190,840.9 1195,843 1200,845.1 1205,847.2 1210,849.2 1215,851.3 1220,853.4 1225,855.2 1230,856.9 1235,858.6 1240,860.4 1245,862.1 1250,863.8 1255,865.5 1260,867.3 1265,869 1270,869.6 1275,869.2 1280,868.7 1285,868.3 1290,867.9 1295,867.4 1300,867 1305,867.4 1310,868.3 1315,869.6 1320,871.1 1325,872.5 1330,873.9 1335,875.3 1340,876.7 1345,878.1 1350,879.5 1355,881.4 1360,883.3 1365,885.2 1370,887.1 1375,889.1 1380,891 1385,892.9 1390,894.7 1395,896.2 1400,897.7 1405,899.1 1410,900.6 1415,902.1 1420,902.3 1425,901.3 1430,900.4 1435,899.4 1440,898.4 1445,897.4 1450,896.4 1455,895.5 1460,894.5 1465,893.5 1470,892.5 1475,891.5 1480,891.2 1480,903.7 1475,904 1470,905 1465,906 1460,907 1455,907.9 1450,908.9 1445,909.9 1440,910.9 1435,911.9 1430,912.9 1425,913.8 1420,914.8 1415,914.6 1410,913.1 1405,911.6 1400,910.2 1395,908.7 1390,907.2 1385,905.4 1380,903.5 1375,901.5 1370,899.6 1365,897.7 1360,895.8 1355,893.9 1350,892 1345,890.6 1340,889.2 1335,887.8 1330,886.4 1325,885 1320,883.5 1315,882.1 1310,880.8 1305,879.9 1300,879.5 1295,879.9 1290,880.4 1285,880.8 1280,881.2 1275,881.7 1270,882.1 1265,881.5 1260,879.8 1255,878 1250,876.3 1245,874.6 1240,872.9 1235,871.1 1230,869.4 1225,867.7 1220,865.9 1215,863.8 1210,861.7 1205,859.7 1200,857.6 1195,855.5 1190,853.4 1185,850.4 1180,845.4 1175,840.4 1170,835.4 1165,830.3 1160,825.3" fill="#e0509e"/>
<polygon points="1160,825.3 1165,830.3 1170,835.4 1175,840.4 1180,845.4 1185,850.4 1190,853.4 1195,855.5 1200,857.6 1205,859.7 1210,861.7 1215,863.8 1220,865.9 1225,867.7 1230,869.4 1235,871.1 1240,872.9 1245,874.6 1250,876.3 1255,878 1260,879.8 1265,881.5 1270,882.1 1275,881.7 1280,881.2 1285,880.8 1290,880.4 1295,879.9 1300,879.5 1305,879.9 1310,880.8 1315,882.1 1320,883.5 1325,885 1330,886.4 1335,887.8 1340,889.2 1345,890.6 1350,892 1355,893.9 1360,895.8 1365,897.7 1370,899.6 1375,901.5 1380,903.5 1385,905.4 1390,907.2 1395,908.7 1400,910.2 1405,911.6 1410,913.1 1415,914.6 1420,914.8 1425,913.8 1430,912.9 1435,911.9 1440,910.9 1445,909.9 1450,908.9 1455,907.9 1460,907 1465,906 1470,905 1475,904 1480,903.7 1480,913.3 1475,913.6 1470,914.6 1465,915.6 1460,916.6 1455,917.6 1450,918.5 1445,919.5 1440,920.5 1435,921.5 1430,922.5 1425,923.5 1420,924.4 1415,924.2 1410,922.7 1405,921.2 1400,919.8 1395,918.3 1390,916.8 1385,915 1380,913.1 1375,911.2 1370,909.2 1365,907.3 1360,905.4 1355,903.5 1350,901.6 1345,900.2 1340,898.8 1335,897.4 1330,896 1325,894.6 1320,893.2 1315,891.7 1310,890.4 1305,889.5 1300,889.1 1295,889.5 1290,890 1285,890.4 1280,890.8 1275,891.3 1270,891.7 1265,891.1 1260,889.4 1255,887.7 1250,885.9 1245,884.2 1240,882.5 1235,880.8 1230,879 1225,877.3 1220,875.5 1215,873.4 1210,871.4 1205,869.3 1200,867.2 1195,865.1 1190,863 1185,860 1180,855 1175,850 1170,845 1165,840 1160,834.9" fill="#5a2aa8"/>
<polygon points="1160,840.7 1165,845.7 1170,850.7 1175,855.8 1180,860.8 1185,865.8 1190,868.8 1195,870.9 1200,873 1205,875 1210,877.1 1215,879.2 1220,881.3 1225,883.1 1230,884.8 1235,886.5 1240,888.2 1245,890 1250,891.7 1255,893.4 1260,895.1 1265,896.9 1270,897.5 1275,897 1280,896.6 1285,896.2 1290,895.7 1295,895.3 1300,894.9 1305,895.2 1310,896.2 1315,897.5 1320,898.9 1325,900.3 1330,901.8 1335,903.2 1340,904.6 1345,906 1350,907.4 1355,909.2 1360,911.2 1365,913.1 1370,915 1375,916.9 1380,918.9 1385,920.8 1390,922.6 1395,924.1 1400,925.5 1405,927 1410,928.5 1415,930 1420,930.2 1425,929.2 1430,928.2 1435,927.3 1440,926.3 1445,925.3 1450,924.3 1455,923.3 1460,922.3 1465,921.4 1470,920.4 1475,919.4 1480,919 1480,928.7 1475,929 1470,930 1465,931 1460,932 1455,932.9 1450,933.9 1445,934.9 1440,935.9 1435,936.9 1430,937.9 1425,938.8 1420,939.8 1415,939.6 1410,938.1 1405,936.6 1400,935.1 1395,933.7 1390,932.2 1385,930.4 1380,928.5 1375,926.5 1370,924.6 1365,922.7 1360,920.8 1355,918.8 1350,917 1345,915.6 1340,914.2 1335,912.8 1330,911.4 1325,910 1320,908.5 1315,907.1 1310,905.8 1305,904.9 1300,904.5 1295,904.9 1290,905.4 1285,905.8 1280,906.2 1275,906.7 1270,907.1 1265,906.5 1260,904.8 1255,903 1250,901.3 1245,899.6 1240,897.9 1235,896.1 1230,894.4 1225,892.7 1220,890.9 1215,888.8 1210,886.7 1205,884.7 1200,882.6 1195,880.5 1190,878.4 1185,875.4 1180,870.4 1175,865.4 1170,860.4 1165,855.3 1160,850.3" fill="#b06a5a"/>
<polygon points="1160,850.3 1165,855.3 1170,860.4 1175,865.4 1180,870.4 1185,875.4 1190,878.4 1195,880.5 1200,882.6 1205,884.7 1210,886.7 1215,888.8 1220,890.9 1225,892.7 1230,894.4 1235,896.1 1240,897.9 1245,899.6 1250,901.3 1255,903 1260,904.8 1265,906.5 1270,907.1 1275,906.7 1280,906.2 1285,905.8 1290,905.4 1295,904.9 1300,904.5 1305,904.9 1310,905.8 1315,907.1 1320,908.5 1325,910 1330,911.4 1335,912.8 1340,914.2 1345,915.6 1350,917 1355,918.8 1360,920.8 1365,922.7 1370,924.6 1375,926.5 1380,928.5 1385,930.4 1390,932.2 1395,933.7 1400,935.1 1405,936.6 1410,938.1 1415,939.6 1420,939.8 1425,938.8 1430,937.9 1435,936.9 1440,935.9 1445,934.9 1450,933.9 1455,932.9 1460,932 1465,931 1470,930 1475,929 1480,928.7 1480,936.3 1475,936.7 1470,937.7 1465,938.7 1460,939.6 1455,940.6 1450,941.6 1445,942.6 1440,943.6 1435,944.6 1430,945.5 1425,946.5 1420,947.5 1415,947.3 1410,945.8 1405,944.3 1400,942.8 1395,941.4 1390,939.9 1385,938.1 1380,936.2 1375,934.2 1370,932.3 1365,930.4 1360,928.5 1355,926.5 1350,924.7 1345,923.3 1340,921.9 1335,920.5 1330,919.1 1325,917.6 1320,916.2 1315,914.8 1310,913.5 1305,912.6 1300,912.2 1295,912.6 1290,913 1285,913.5 1280,913.9 1275,914.3 1270,914.8 1265,914.2 1260,912.4 1255,910.7 1250,909 1245,907.3 1240,905.6 1235,903.8 1230,902.1 1225,900.4 1220,898.6 1215,896.5 1210,894.4 1205,892.3 1200,890.3 1195,888.2 1190,886.1 1185,883.1 1180,878.1 1175,873.1 1170,868 1165,863 1160,858" fill="#2f8a84"/>
</g></g>
<g mask="url(#cxD)"><g filter="url(#brkL)">
<polygon points="1440,881.6 1445,880.6 1450,879.6 1455,878.6 1460,877.6 1465,876.7 1470,875.7 1475,874.7 1480,874.3 1485,874 1490,873.6 1495,873.3 1500,872.9 1505,872.6 1510,872.2 1515,871.8 1520,870 1525,867.9 1530,865.8 1535,863.7 1540,861.6 1545,859.5 1550,857.4 1555,855.3 1560,853.2 1565,851.1 1570,849 1575,850.8 1580,853.1 1585,855.5 1590,857.8 1595,860.2 1600,862.5 1605,864.9 1610,867.2 1615,867.6 1620,861.7 1625,855.8 1630,849.9 1635,845.4 1640,841.4 1645,837.3 1650,833.3 1655,829.9 1660,829.4 1665,828.9 1670,828.3 1675,827.8 1680,827.3 1685,828 1690,830.5 1695,833 1700,835.5 1705,838 1710,840.5 1715,843 1720,845.5 1725,848 1730,850.5 1735,851 1740,851 1740,855.8 1735,855.8 1730,855.3 1725,852.8 1720,850.3 1715,847.8 1710,845.3 1705,842.8 1700,840.3 1695,837.8 1690,835.3 1685,832.8 1680,832.1 1675,832.6 1670,833.2 1665,833.7 1660,834.2 1655,834.7 1650,838.1 1645,842.1 1640,846.2 1635,850.3 1630,854.7 1625,860.6 1620,866.5 1615,872.4 1610,872 1605,869.7 1600,867.3 1595,865 1590,862.6 1585,860.3 1580,857.9 1575,855.6 1570,853.8 1565,855.9 1560,858 1555,860.1 1550,862.2 1545,864.3 1540,866.4 1535,868.5 1530,870.6 1525,872.7 1520,874.8 1515,876.7 1510,877 1505,877.4 1500,877.7 1495,878.1 1490,878.4 1485,878.8 1480,879.1 1475,879.5 1470,880.5 1465,881.5 1460,882.5 1455,883.4 1450,884.4 1445,885.4 1440,886.4" fill="#8ad8d8"/>
<polygon points="1440,886.4 1445,885.4 1450,884.4 1455,883.4 1460,882.5 1465,881.5 1470,880.5 1475,879.5 1480,879.1 1485,878.8 1490,878.4 1495,878.1 1500,877.7 1505,877.4 1510,877 1515,876.7 1520,874.8 1525,872.7 1530,870.6 1535,868.5 1540,866.4 1545,864.3 1550,862.2 1555,860.1 1560,858 1565,855.9 1570,853.8 1575,855.6 1580,857.9 1585,860.3 1590,862.6 1595,865 1600,867.3 1605,869.7 1610,872 1615,872.4 1620,866.5 1625,860.6 1630,854.7 1635,850.3 1640,846.2 1645,842.1 1650,838.1 1655,834.7 1660,834.2 1665,833.7 1670,833.2 1675,832.6 1680,832.1 1685,832.8 1690,835.3 1695,837.8 1700,840.3 1705,842.8 1710,845.3 1715,847.8 1720,850.3 1725,852.8 1730,855.3 1735,855.8 1740,855.8 1740,865.4 1735,865.4 1730,864.9 1725,862.4 1720,859.9 1715,857.4 1710,854.9 1705,852.4 1700,849.9 1695,847.4 1690,844.9 1685,842.4 1680,841.7 1675,842.2 1670,842.8 1665,843.3 1660,843.8 1655,844.3 1650,847.7 1645,851.7 1640,855.8 1635,859.9 1630,864.3 1625,870.2 1620,876.1 1615,882 1610,881.6 1605,879.3 1600,876.9 1595,874.6 1590,872.2 1585,869.9 1580,867.5 1575,865.2 1570,863.4 1565,865.5 1560,867.6 1555,869.7 1550,871.8 1545,873.9 1540,876 1535,878.1 1530,880.2 1525,882.3 1520,884.4 1515,886.3 1510,886.6 1505,887 1500,887.3 1495,887.7 1490,888 1485,888.4 1480,888.8 1475,889.1 1470,890.1 1465,891.1 1460,892.1 1455,893 1450,894 1445,895 1440,896" fill="#4a4cb0"/>
<polygon points="1440,898.4 1445,897.4 1450,896.4 1455,895.5 1460,894.5 1465,893.5 1470,892.5 1475,891.5 1480,891.2 1485,890.8 1490,890.5 1495,890.1 1500,889.7 1505,889.4 1510,889 1515,888.7 1520,886.8 1525,884.7 1530,882.6 1535,880.5 1540,878.4 1545,876.3 1550,874.2 1555,872.1 1560,870 1565,867.9 1570,865.8 1575,867.6 1580,869.9 1585,872.3 1590,874.6 1595,877 1600,879.3 1605,881.7 1610,884 1615,884.4 1620,878.5 1625,872.6 1630,866.7 1635,862.3 1640,858.2 1645,854.1 1650,850.1 1655,846.7 1660,846.2 1665,845.7 1670,845.2 1675,844.6 1680,844.1 1685,844.8 1690,847.3 1695,849.8 1700,852.3 1705,854.8 1710,857.3 1715,859.8 1720,862.3 1725,864.8 1730,867.3 1735,867.8 1740,867.8 1740,880.3 1735,880.3 1730,879.8 1725,877.3 1720,874.8 1715,872.3 1710,869.8 1705,867.3 1700,864.8 1695,862.3 1690,859.8 1685,857.3 1680,856.6 1675,857.1 1670,857.7 1665,858.2 1660,858.7 1655,859.2 1650,862.6 1645,866.6 1640,870.7 1635,874.8 1630,879.2 1625,885.1 1620,891 1615,896.9 1610,896.5 1605,894.2 1600,891.8 1595,889.5 1590,887.1 1585,884.8 1580,882.4 1575,880.1 1570,878.3 1565,880.4 1560,882.5 1555,884.6 1550,886.7 1545,888.8 1540,890.9 1535,893 1530,895.1 1525,897.2 1520,899.3 1515,901.2 1510,901.5 1505,901.9 1500,902.2 1495,902.6 1490,902.9 1485,903.3 1480,903.7 1475,904 1470,905 1465,906 1460,907 1455,907.9 1450,908.9 1445,909.9 1440,910.9" fill="#e0509e"/>
<polygon points="1440,910.9 1445,909.9 1450,908.9 1455,907.9 1460,907 1465,906 1470,905 1475,904 1480,903.7 1485,903.3 1490,902.9 1495,902.6 1500,902.2 1505,901.9 1510,901.5 1515,901.2 1520,899.3 1525,897.2 1530,895.1 1535,893 1540,890.9 1545,888.8 1550,886.7 1555,884.6 1560,882.5 1565,880.4 1570,878.3 1575,880.1 1580,882.4 1585,884.8 1590,887.1 1595,889.5 1600,891.8 1605,894.2 1610,896.5 1615,896.9 1620,891 1625,885.1 1630,879.2 1635,874.8 1640,870.7 1645,866.6 1650,862.6 1655,859.2 1660,858.7 1665,858.2 1670,857.7 1675,857.1 1680,856.6 1685,857.3 1690,859.8 1695,862.3 1700,864.8 1705,867.3 1710,869.8 1715,872.3 1720,874.8 1725,877.3 1730,879.8 1735,880.3 1740,880.3 1740,889.9 1735,889.9 1730,889.4 1725,886.9 1720,884.4 1715,881.9 1710,879.4 1705,876.9 1700,874.4 1695,871.9 1690,869.4 1685,866.9 1680,866.2 1675,866.8 1670,867.3 1665,867.8 1660,868.3 1655,868.8 1650,872.2 1645,876.2 1640,880.3 1635,884.4 1630,888.8 1625,894.7 1620,900.6 1615,906.5 1610,906.1 1605,903.8 1600,901.4 1595,899.1 1590,896.7 1585,894.4 1580,892 1575,889.7 1570,887.9 1565,890 1560,892.1 1555,894.2 1550,896.3 1545,898.4 1540,900.5 1535,902.6 1530,904.7 1525,906.8 1520,908.9 1515,910.8 1510,911.1 1505,911.5 1500,911.8 1495,912.2 1490,912.6 1485,912.9 1480,913.3 1475,913.6 1470,914.6 1465,915.6 1460,916.6 1455,917.6 1450,918.5 1445,919.5 1440,920.5" fill="#5a2aa8"/>
<polygon points="1440,926.3 1445,925.3 1450,924.3 1455,923.3 1460,922.3 1465,921.4 1470,920.4 1475,919.4 1480,919 1485,918.7 1490,918.3 1495,918 1500,917.6 1505,917.3 1510,916.9 1515,916.5 1520,914.7 1525,912.6 1530,910.5 1535,908.4 1540,906.3 1545,904.2 1550,902.1 1555,900 1560,897.9 1565,895.8 1570,893.7 1575,895.5 1580,897.8 1585,900.2 1590,902.5 1595,904.9 1600,907.2 1605,909.6 1610,911.9 1615,912.3 1620,906.4 1625,900.5 1630,894.6 1635,890.1 1640,886.1 1645,882 1650,877.9 1655,874.6 1660,874.1 1665,873.6 1670,873 1675,872.5 1680,872 1685,872.7 1690,875.2 1695,877.7 1700,880.2 1705,882.7 1710,885.2 1715,887.7 1720,890.2 1725,892.7 1730,895.2 1735,895.7 1740,895.7 1740,905.3 1735,905.3 1730,904.8 1725,902.3 1720,899.8 1715,897.3 1710,894.8 1705,892.3 1700,889.8 1695,887.3 1690,884.8 1685,882.3 1680,881.6 1675,882.1 1670,882.7 1665,883.2 1660,883.7 1655,884.2 1650,887.6 1645,891.6 1640,895.7 1635,899.8 1630,904.2 1625,910.1 1620,916 1615,921.9 1610,921.5 1605,919.2 1600,916.8 1595,914.5 1590,912.1 1585,909.8 1580,907.4 1575,905.1 1570,903.3 1565,905.4 1560,907.5 1555,909.6 1550,911.7 1545,913.8 1540,915.9 1535,918 1530,920.1 1525,922.2 1520,924.3 1515,926.2 1510,926.5 1505,926.9 1500,927.2 1495,927.6 1490,927.9 1485,928.3 1480,928.7 1475,929 1470,930 1465,931 1460,932 1455,932.9 1450,933.9 1445,934.9 1440,935.9" fill="#b06a5a"/>
<polygon points="1440,935.9 1445,934.9 1450,933.9 1455,932.9 1460,932 1465,931 1470,930 1475,929 1480,928.7 1485,928.3 1490,927.9 1495,927.6 1500,927.2 1505,926.9 1510,926.5 1515,926.2 1520,924.3 1525,922.2 1530,920.1 1535,918 1540,915.9 1545,913.8 1550,911.7 1555,909.6 1560,907.5 1565,905.4 1570,903.3 1575,905.1 1580,907.4 1585,909.8 1590,912.1 1595,914.5 1600,916.8 1605,919.2 1610,921.5 1615,921.9 1620,916 1625,910.1 1630,904.2 1635,899.8 1640,895.7 1645,891.6 1650,887.6 1655,884.2 1660,883.7 1665,883.2 1670,882.7 1675,882.1 1680,881.6 1685,882.3 1690,884.8 1695,887.3 1700,889.8 1705,892.3 1710,894.8 1715,897.3 1720,899.8 1725,902.3 1730,904.8 1735,905.3 1740,905.3 1740,913 1735,913 1730,912.5 1725,910 1720,907.5 1715,905 1710,902.5 1705,900 1700,897.5 1695,895 1690,892.5 1685,890 1680,889.3 1675,889.8 1670,890.3 1665,890.9 1660,891.4 1655,891.9 1650,895.3 1645,899.3 1640,903.4 1635,907.4 1630,911.9 1625,917.8 1620,923.7 1615,929.6 1610,929.2 1605,926.9 1600,924.5 1595,922.2 1590,919.8 1585,917.5 1580,915.1 1575,912.8 1570,911 1565,913.1 1560,915.2 1555,917.3 1550,919.4 1545,921.5 1540,923.6 1535,925.7 1530,927.8 1525,929.9 1520,932 1515,933.8 1510,934.2 1505,934.6 1500,934.9 1495,935.3 1490,935.6 1485,936 1480,936.3 1475,936.7 1470,937.7 1465,938.7 1460,939.6 1455,940.6 1450,941.6 1445,942.6 1440,943.6" fill="#2f8a84"/>
</g></g>
<g filter="url(#brkV)">
<polygon points="494,802 499,802 504,802 509,802 514,802 519,803.4 524,808 529,812.6 534,817.2 539,820.8 544,821.5 549,822.2 554,822.9 559,823.1 564,821 569,818.8 574,816.7 579,814.6 584,812.5 589,810.4 594,808.2 599,805.6 604,802.7 609,799.8 614,796.9 619,794.1 624,791.2 629,788.3 634,779.2 639,755 644,746 649,736.9 654,729 659,725.5 664,722 669,718.6 674,715.1 679,711.6 684,708.3 689,705.3 694,702.3 699,699.2 704,696.2 709,693.2 714,691.7 719,691.2 724,690.7 729,690.1 734,689.6 739,689.1 744,689.2 749,689.4 754,689.7 759,689.9 764,690.1 769,690.3 774,690.6 779,690.8 784,691.5 789,694.2 794,696.9 799,699.6 804,702.3 809,705 814,708.2 819,712.2 824,716.2 829,720.1 834,724.1 839,728.1 844,732.1 849,736.1 854,740.2 859,744.2 864,748.2 869,752.2 874,753.9 879,755.2 884,756.5 889,757.8 894,759.1 899,760.4 904,761.7 909,763 914,765.4 919,772.3 924,779.1 929,786 934,793.2 939,800.4 944,805.6 949,807.5 954,809.5 959,811.4 964,813.4 969,815.3 974,815.6 979,815.1 984,814.5 989,814 994,813.4 999,814.4 1004,815.4 1009,816.3 1014,817.3 1019,818.3 1024,820.3 1029,825.3 1034,830.4 1039,835.4 1044,839.9 1049,842.4 1054,844.9 1059,847.4 1064,849.9 1069,852.4 1074,854.2 1079,855.2 1084,856.2 1089,857.3 1094,858.3 1099,859.3 1104,860.3 1109,861.4 1114,862.4 1119,863.5 1124,864.6 1129,863.6 1134,861.1 1139,858.7 1144,856.3 1149,853.9 1154,851.5 1159,855 1164,860 1169,865 1174,870.1 1179,875.1 1184,880.1 1189,883.7 1194,885.8 1199,887.9 1204,889.9 1209,892 1214,894.1 1219,896.2 1224,898 1229,899.8 1234,901.5 1239,903.2 1244,904.9 1249,906.7 1254,908.4 1259,910.1 1264,911.8 1269,912.9 1274,912.4 1279,912 1284,911.6 1289,911.1 1294,910.7 1299,910.3 1304,910.4 1309,911.3 1314,912.5 1319,913.9 1324,915.4 1329,916.8 1334,918.2 1339,919.6 1344,921 1349,922.4 1354,924.2 1359,926.1 1364,928 1369,929.9 1374,931.8 1379,933.8 1384,935.7 1389,937.6 1394,939.1 1399,940.5 1404,942 1409,943.5 1414,945 1419,945.7 1424,944.7 1429,943.7 1434,942.8 1439,941.8 1444,940.8 1449,939.8 1454,938.8 1459,937.8 1464,936.9 1469,935.9 1474,934.9 1479,934.4 1479,944.5 1474,945 1469,946 1464,947 1459,948 1454,948.9 1449,949.9 1444,950.9 1439,951.9 1434,952.9 1429,953.9 1424,954.8 1419,955.8 1414,955.1 1409,953.6 1404,952.1 1399,950.7 1394,949.2 1389,947.7 1384,945.8 1379,943.9 1374,942 1369,940 1364,938.1 1359,936.2 1354,934.3 1349,932.5 1344,931.1 1339,929.7 1334,928.3 1329,926.9 1324,925.5 1319,924.1 1314,922.6 1309,921.4 1304,920.5 1299,920.4 1294,920.8 1289,921.2 1284,921.7 1279,922.1 1274,922.5 1269,923 1264,921.9 1259,920.2 1254,918.5 1249,916.8 1244,915 1239,913.3 1234,911.6 1229,909.9 1224,908.1 1219,906.3 1214,904.2 1209,902.1 1204,900 1199,898 1194,895.9 1189,893.8 1184,890.2 1179,885.2 1174,880.2 1169,875.2 1164,870.1 1159,865.1 1154,861.6 1149,864 1144,866.4 1139,868.8 1134,871.3 1129,873.7 1124,874.7 1119,873.6 1114,872.6 1109,871.5 1104,870.4 1099,869.4 1094,868.4 1089,867.4 1084,866.4 1079,865.4 1074,864.4 1069,862.5 1064,860 1059,857.5 1054,855 1049,852.5 1044,850 1039,845.5 1034,840.5 1029,835.4 1024,830.4 1019,828.4 1014,827.4 1009,826.4 1004,825.5 999,824.5 994,823.5 989,824.1 984,824.6 979,825.2 974,825.8 969,825.4 964,823.5 959,821.5 954,819.6 949,817.6 944,815.7 939,810.6 934,803.3 929,796.1 924,789.3 919,782.4 914,775.5 909,773.1 904,771.8 899,770.5 894,769.2 889,767.9 884,766.6 879,765.3 874,764 869,762.3 864,758.3 859,754.3 854,750.3 849,746.3 844,742.2 839,738.2 834,734.2 829,730.3 824,726.3 819,722.3 814,718.3 809,715.1 804,712.4 799,709.7 794,707 789,704.3 784,701.7 779,700.9 774,700.7 769,700.5 764,700.2 759,700 754,699.8 749,699.5 744,699.3 739,699.2 734,699.7 729,700.3 724,700.8 719,701.3 714,701.8 709,703.3 704,706.3 699,709.4 694,712.4 689,715.4 684,718.4 679,721.7 674,725.2 669,728.7 664,732.2 659,735.6 654,739.1 649,747 644,756.1 639,765.1 634,789.3 629,798.4 624,801.3 619,804.2 614,807.1 609,809.9 604,812.8 599,815.7 594,818.3 589,820.5 584,822.6 579,824.7 574,826.8 569,828.9 564,831.1 559,833.2 554,833 549,832.3 544,831.6 539,830.9 534,827.3 529,822.7 524,818.1 519,813.5 514,812.1 509,812.1 504,812.1 499,812.1 494,812.1" fill="#2f8a84"/>
<polygon points="494,818.2 499,818.2 504,818.2 509,818.2 514,818.2 519,819.6 524,824.2 529,828.8 534,833.4 539,837 544,837.7 549,838.4 554,839.1 559,839.3 564,837.1 569,835 574,832.9 579,830.8 584,828.7 589,826.5 594,824.4 599,821.8 604,818.9 609,816 614,813.1 619,810.2 624,807.4 629,804.5 634,795.3 639,771.2 644,762.1 649,753.1 654,745.2 659,741.7 664,738.2 669,734.7 674,731.3 679,727.8 684,724.5 689,721.5 694,718.4 699,715.4 704,712.4 709,709.4 714,707.9 719,707.4 724,706.8 729,706.3 734,705.8 739,705.3 744,705.4 749,705.6 754,705.8 759,706.1 764,706.3 769,706.5 774,706.8 779,707 784,707.7 789,710.4 794,713.1 799,715.8 804,718.5 809,721.2 814,724.4 819,728.4 824,732.3 829,736.3 834,740.3 839,744.3 844,748.3 849,752.3 854,756.3 859,760.4 864,764.4 869,768.4 874,770.1 879,771.4 884,772.7 889,774 894,775.3 899,776.6 904,777.9 909,779.1 914,781.6 919,788.4 924,795.3 929,802.2 934,809.4 939,816.6 944,821.8 949,823.7 954,825.6 959,827.6 964,829.5 969,831.5 974,831.8 979,831.3 984,830.7 989,830.1 994,829.6 999,830.6 1004,831.5 1009,832.5 1014,833.5 1019,834.5 1024,836.5 1029,841.5 1034,846.5 1039,851.6 1044,856.1 1049,858.6 1054,861.1 1059,863.6 1064,866.1 1069,868.6 1074,870.4 1079,871.4 1084,872.4 1089,873.4 1094,874.4 1099,875.4 1104,876.5 1109,877.6 1114,878.6 1119,879.7 1124,880.8 1129,879.7 1134,877.3 1139,874.9 1144,872.5 1149,870.1 1154,867.7 1159,871.2 1164,876.2 1169,881.2 1174,886.2 1179,891.3 1184,896.3 1189,899.9 1194,902 1199,904 1204,906.1 1209,908.2 1214,910.3 1219,912.3 1224,914.2 1229,915.9 1234,917.7 1239,919.4 1244,921.1 1249,922.8 1254,924.6 1259,926.3 1264,928 1269,929 1274,928.6 1279,928.2 1284,927.7 1289,927.3 1294,926.9 1299,926.4 1304,926.5 1309,927.5 1314,928.7 1319,930.1 1324,931.5 1329,933 1334,934.4 1339,935.8 1344,937.2 1349,938.6 1354,940.3 1359,942.3 1364,944.2 1369,946.1 1374,948 1379,949.9 1384,951.9 1389,953.8 1394,955.2 1399,956.7 1404,958.2 1409,959.7 1414,961.1 1419,961.9 1424,960.9 1429,959.9 1434,958.9 1439,958 1444,957 1449,956 1454,955 1459,954 1464,953 1469,952.1 1474,951.1 1479,950.6 1479,960.7 1474,961.2 1469,962.2 1464,963.2 1459,964.1 1454,965.1 1449,966.1 1444,967.1 1439,968.1 1434,969 1429,970 1424,971 1419,972 1414,971.3 1409,969.8 1404,968.3 1399,966.8 1394,965.4 1389,963.9 1384,962 1379,960.1 1374,958.1 1369,956.2 1364,954.3 1359,952.4 1354,950.4 1349,948.7 1344,947.3 1339,945.9 1334,944.5 1329,943.1 1324,941.7 1319,940.2 1314,938.8 1309,937.6 1304,936.7 1299,936.6 1294,937 1289,937.4 1284,937.9 1279,938.3 1274,938.7 1269,939.2 1264,938.1 1259,936.4 1254,934.7 1249,932.9 1244,931.2 1239,929.5 1234,927.8 1229,926.1 1224,924.3 1219,922.5 1214,920.4 1209,918.3 1204,916.2 1199,914.1 1194,912.1 1189,910 1184,906.4 1179,901.4 1174,896.4 1169,891.3 1164,886.3 1159,881.3 1154,877.8 1149,880.2 1144,882.6 1139,885 1134,887.4 1129,889.8 1124,890.9 1119,889.8 1114,888.7 1109,887.7 1104,886.6 1099,885.6 1094,884.5 1089,883.5 1084,882.5 1079,881.5 1074,880.5 1069,878.7 1064,876.2 1059,873.7 1054,871.2 1049,868.7 1044,866.2 1039,861.7 1034,856.6 1029,851.6 1024,846.6 1019,844.6 1014,843.6 1009,842.6 1004,841.6 999,840.7 994,839.7 989,840.3 984,840.8 979,841.4 974,841.9 969,841.6 964,839.6 959,837.7 954,835.8 949,833.8 944,831.9 939,826.7 934,819.5 929,812.3 924,805.4 919,798.6 914,791.7 909,789.3 904,788 899,786.7 894,785.4 889,784.1 884,782.8 879,781.5 874,780.2 869,778.5 864,774.5 859,770.5 854,766.5 849,762.4 844,758.4 839,754.4 834,750.4 829,746.4 824,742.5 819,738.5 814,734.5 809,731.3 804,728.6 799,725.9 794,723.2 789,720.5 784,717.8 779,717.1 774,716.9 769,716.6 764,716.4 759,716.2 754,715.9 749,715.7 744,715.5 739,715.4 734,715.9 729,716.4 724,716.9 719,717.5 714,718 709,719.5 704,722.5 699,725.5 694,728.6 689,731.6 684,734.6 679,737.9 674,741.4 669,744.8 664,748.3 659,751.8 654,755.3 649,763.2 644,772.2 639,781.3 634,805.4 629,814.6 624,817.5 619,820.4 614,823.2 609,826.1 604,829 599,831.9 594,834.5 589,836.6 584,838.8 579,840.9 574,843 569,845.1 564,847.2 559,849.4 554,849.2 549,848.5 544,847.8 539,847.1 534,843.5 529,838.9 524,834.3 519,829.7 514,828.3 509,828.3 504,828.3 499,828.3 494,828.3" fill="#b06a5a"/>
<polygon points="494,834.4 499,834.4 504,834.4 509,834.4 514,834.4 519,835.7 524,840.3 529,844.9 534,849.6 539,853.1 544,853.9 549,854.6 554,855.3 559,855.4 564,853.3 569,851.2 574,849.1 579,847 584,844.8 589,842.7 594,840.6 599,837.9 604,835.1 609,832.2 614,829.3 619,826.4 624,823.5 629,820.7 634,811.5 639,787.3 644,778.3 649,769.3 654,761.4 659,757.9 664,754.4 669,750.9 674,747.4 679,743.9 684,740.7 689,737.6 694,734.6 699,731.6 704,728.6 709,725.6 714,724 719,723.5 724,723 729,722.5 734,722 739,721.5 744,721.5 749,721.8 754,722 759,722.2 764,722.5 769,722.7 774,722.9 779,723.2 784,723.9 789,726.6 794,729.3 799,732 804,734.7 809,737.3 814,740.6 819,744.5 824,748.5 829,752.5 834,756.5 839,760.5 844,764.5 849,768.5 854,772.5 859,776.5 864,780.6 869,784.6 874,786.3 879,787.6 884,788.9 889,790.2 894,791.4 899,792.7 904,794 909,795.3 914,797.7 919,804.6 924,811.5 929,818.4 934,825.6 939,832.8 944,837.9 949,839.9 954,841.8 959,843.8 964,845.7 969,847.7 974,848 979,847.4 984,846.9 989,846.3 994,845.8 999,846.7 1004,847.7 1009,848.7 1014,849.7 1019,850.6 1024,852.7 1029,857.7 1034,862.7 1039,867.7 1044,872.3 1049,874.8 1054,877.3 1059,879.8 1064,882.3 1069,884.8 1074,886.6 1079,887.6 1084,888.6 1089,889.6 1094,890.6 1099,891.6 1104,892.7 1109,893.7 1114,894.8 1119,895.9 1124,896.9 1129,895.9 1134,893.5 1139,891.1 1144,888.7 1149,886.3 1154,883.8 1159,887.4 1164,892.4 1169,897.4 1174,902.4 1179,907.4 1184,912.5 1189,916.1 1194,918.1 1199,920.2 1204,922.3 1209,924.4 1214,926.4 1219,928.5 1224,930.4 1229,932.1 1234,933.8 1239,935.6 1244,937.3 1249,939 1254,940.7 1259,942.5 1264,944.2 1269,945.2 1274,944.8 1279,944.4 1284,943.9 1289,943.5 1294,943.1 1299,942.6 1304,942.7 1309,943.6 1314,944.9 1319,946.3 1324,947.7 1329,949.1 1334,950.6 1339,952 1344,953.4 1349,954.8 1354,956.5 1359,958.4 1364,960.4 1369,962.3 1374,964.2 1379,966.1 1384,968.1 1389,969.9 1394,971.4 1399,972.9 1404,974.4 1409,975.9 1414,977.3 1419,978.1 1424,977.1 1429,976.1 1434,975.1 1439,974.1 1444,973.2 1449,972.2 1454,971.2 1459,970.2 1464,969.2 1469,968.2 1474,967.3 1479,966.8 1479,976.9 1474,977.4 1469,978.4 1464,979.3 1459,980.3 1454,981.3 1449,982.3 1444,983.3 1439,984.2 1434,985.2 1429,986.2 1424,987.2 1419,988.2 1414,987.4 1409,986 1404,984.5 1399,983 1394,981.5 1389,980.1 1384,978.2 1379,976.2 1374,974.3 1369,972.4 1364,970.5 1359,968.5 1354,966.6 1349,964.9 1344,963.5 1339,962.1 1334,960.7 1329,959.2 1324,957.8 1319,956.4 1314,955 1309,953.8 1304,952.8 1299,952.7 1294,953.2 1289,953.6 1284,954 1279,954.5 1274,954.9 1269,955.3 1264,954.3 1259,952.6 1254,950.9 1249,949.1 1244,947.4 1239,945.7 1234,944 1229,942.2 1224,940.5 1219,938.6 1214,936.6 1209,934.5 1204,932.4 1199,930.3 1194,928.2 1189,926.2 1184,922.6 1179,917.5 1174,912.5 1169,907.5 1164,902.5 1159,897.5 1154,894 1149,896.4 1144,898.8 1139,901.2 1134,903.6 1129,906 1124,907 1119,906 1114,904.9 1109,903.8 1104,902.8 1099,901.7 1094,900.7 1089,899.7 1084,898.7 1079,897.7 1074,896.7 1069,894.9 1064,892.4 1059,889.9 1054,887.4 1049,884.9 1044,882.4 1039,877.9 1034,872.8 1029,867.8 1024,862.8 1019,860.7 1014,859.8 1009,858.8 1004,857.8 999,856.8 994,855.9 989,856.4 984,857 979,857.6 974,858.1 969,857.8 964,855.8 959,853.9 954,851.9 949,850 944,848 939,842.9 934,835.7 929,828.5 924,821.6 919,814.7 914,807.8 909,805.4 904,804.1 899,802.9 894,801.6 889,800.3 884,799 879,797.7 874,796.4 869,794.7 864,790.7 859,786.7 854,782.6 849,778.6 844,774.6 839,770.6 834,766.6 829,762.6 824,758.6 819,754.6 814,750.7 809,747.5 804,744.8 799,742.1 794,739.4 789,736.7 784,734 779,733.3 774,733.1 769,732.8 764,732.6 759,732.4 754,732.1 749,731.9 744,731.7 739,731.6 734,732.1 729,732.6 724,733.1 719,733.6 714,734.2 709,735.7 704,738.7 699,741.7 694,744.7 689,747.7 684,750.8 679,754.1 674,757.5 669,761 664,764.5 659,768 654,771.5 649,779.4 644,788.4 639,797.5 634,821.6 629,830.8 624,833.7 619,836.5 614,839.4 609,842.3 604,845.2 599,848.1 594,850.7 589,852.8 584,854.9 579,857.1 574,859.2 569,861.3 564,863.4 559,865.5 554,865.4 549,864.7 544,864 539,863.3 534,859.7 529,855.1 524,850.5 519,845.9 514,844.5 509,844.5 504,844.5 499,844.5 494,844.5" fill="#4a4cb0"/>
<polygon points="494,849.5 499,849.5 504,849.5 509,849.5 514,849.5 519,850.9 524,855.5 529,860.1 534,864.7 539,868.3 544,869 549,869.7 554,870.5 559,870.6 564,868.5 569,866.4 574,864.2 579,862.1 584,860 589,857.9 594,855.8 599,853.1 604,850.2 609,847.4 614,844.5 619,841.6 624,838.7 629,835.8 634,826.7 639,802.5 644,793.5 649,784.5 654,776.5 659,773 664,769.6 669,766.1 674,762.6 679,759.1 684,755.8 689,752.8 694,749.8 699,746.8 704,743.8 709,740.7 714,739.2 719,738.7 724,738.2 729,737.7 734,737.1 739,736.6 744,736.7 749,736.9 754,737.2 759,737.4 764,737.6 769,737.9 774,738.1 779,738.3 784,739.1 789,741.8 794,744.4 799,747.1 804,749.8 809,752.5 814,755.7 819,759.7 824,763.7 829,767.7 834,771.7 839,775.6 844,779.6 849,783.7 854,787.7 859,791.7 864,795.7 869,799.8 874,801.4 879,802.7 884,804 889,805.3 894,806.6 899,807.9 904,809.2 909,810.5 914,812.9 919,819.8 924,826.7 929,833.6 934,840.7 939,848 944,853.1 949,855.1 954,857 959,858.9 964,860.9 969,862.8 974,863.2 979,862.6 984,862 989,861.5 994,860.9 999,861.9 1004,862.9 1009,863.9 1014,864.8 1019,865.8 1024,867.8 1029,872.9 1034,877.9 1039,882.9 1044,887.4 1049,889.9 1054,892.4 1059,894.9 1064,897.4 1069,899.9 1074,901.8 1079,902.8 1084,903.8 1089,904.8 1094,905.8 1099,906.8 1104,907.8 1109,908.9 1114,910 1119,911 1124,912.1 1129,911.1 1134,908.7 1139,906.3 1144,903.8 1149,901.4 1154,899 1159,902.5 1164,907.6 1169,912.6 1174,917.6 1179,922.6 1184,927.6 1189,931.2 1194,933.3 1199,935.4 1204,937.5 1209,939.5 1214,941.6 1219,943.7 1224,945.6 1229,947.3 1234,949 1239,950.7 1244,952.5 1249,954.2 1254,955.9 1259,957.6 1264,959.4 1269,960.4 1274,960 1279,959.5 1284,959.1 1289,958.7 1294,958.2 1299,957.8 1304,957.9 1309,958.8 1314,960.1 1319,961.5 1324,962.9 1329,964.3 1334,965.7 1339,967.1 1344,968.5 1349,970 1354,971.7 1359,973.6 1364,975.5 1369,977.5 1374,979.4 1379,981.3 1384,983.2 1389,985.1 1394,986.6 1399,988.1 1404,989.5 1409,991 1414,992.5 1419,993.2 1424,992.3 1429,991.3 1434,990.3 1439,989.3 1444,988.3 1449,987.3 1454,986.4 1459,985.4 1464,984.4 1469,983.4 1474,982.4 1479,981.9 1479,992.1 1474,992.5 1469,993.5 1464,994.5 1459,995.5 1454,996.5 1449,997.5 1444,998.4 1439,999.4 1434,1000.4 1429,1001.4 1424,1002.4 1419,1003.3 1414,1002.6 1409,1001.1 1404,999.7 1399,998.2 1394,996.7 1389,995.2 1384,993.3 1379,991.4 1374,989.5 1369,987.6 1364,985.6 1359,983.7 1354,981.8 1349,980.1 1344,978.7 1339,977.2 1334,975.8 1329,974.4 1324,973 1319,971.6 1314,970.2 1309,968.9 1304,968 1299,967.9 1294,968.3 1289,968.8 1284,969.2 1279,969.6 1274,970.1 1269,970.5 1264,969.5 1259,967.7 1254,966 1249,964.3 1244,962.6 1239,960.8 1234,959.1 1229,957.4 1224,955.7 1219,953.8 1214,951.7 1209,949.7 1204,947.6 1199,945.5 1194,943.4 1189,941.3 1184,937.7 1179,932.7 1174,927.7 1169,922.7 1164,917.7 1159,912.7 1154,909.1 1149,911.5 1144,914 1139,916.4 1134,918.8 1129,921.2 1124,922.2 1119,921.1 1114,920.1 1109,919 1104,917.9 1099,916.9 1094,915.9 1089,914.9 1084,913.9 1079,912.9 1074,911.9 1069,910 1064,907.5 1059,905 1054,902.5 1049,900 1044,897.5 1039,893 1034,888 1029,883 1024,877.9 1019,875.9 1014,874.9 1009,874 1004,873 999,872 994,871 989,871.6 984,872.2 979,872.7 974,873.3 969,872.9 964,871 959,869.1 954,867.1 949,865.2 944,863.2 939,858.1 934,850.8 929,843.7 924,836.8 919,829.9 914,823 909,820.6 904,819.3 899,818 894,816.7 889,815.4 884,814.1 879,812.8 874,811.6 869,809.9 864,805.9 859,801.8 854,797.8 849,793.8 844,789.8 839,785.7 834,781.8 829,777.8 824,773.8 819,769.8 814,765.8 809,762.6 804,759.9 799,757.2 794,754.6 789,751.9 784,749.2 779,748.5 774,748.2 769,748 764,747.8 759,747.5 754,747.3 749,747.1 744,746.8 739,746.7 734,747.3 729,747.8 724,748.3 719,748.8 714,749.3 709,750.8 704,753.9 699,756.9 694,759.9 689,762.9 684,765.9 679,769.2 674,772.7 669,776.2 664,779.7 659,783.2 654,786.6 649,794.6 644,803.6 639,812.6 634,836.8 629,845.9 624,848.8 619,851.7 614,854.6 609,857.5 604,860.3 599,863.2 594,865.9 589,868 584,870.1 579,872.2 574,874.4 569,876.5 564,878.6 559,880.7 554,880.6 549,879.9 544,879.1 539,878.4 534,874.8 529,870.2 524,865.6 519,861 514,859.6 509,859.6 504,859.6 499,859.6 494,859.6" fill="#d05a70"/>
<polygon points="494,865.7 499,865.7 504,865.7 509,865.7 514,865.7 519,867.1 524,871.7 529,876.3 534,880.9 539,884.5 544,885.2 549,885.9 554,886.6 559,886.8 564,884.7 569,882.5 574,880.4 579,878.3 584,876.2 589,874.1 594,871.9 599,869.3 604,866.4 609,863.5 614,860.7 619,857.8 624,854.9 629,852 634,842.9 639,818.7 644,809.7 649,800.6 654,792.7 659,789.2 664,785.7 669,782.3 674,778.8 679,775.3 684,772 689,769 694,766 699,762.9 704,759.9 709,756.9 714,755.4 719,754.9 724,754.4 729,753.8 734,753.3 739,752.8 744,752.9 749,753.1 754,753.4 759,753.6 764,753.8 769,754.1 774,754.3 779,754.5 784,755.2 789,757.9 794,760.6 799,763.3 804,766 809,768.7 814,771.9 819,775.9 824,779.9 829,783.8 834,787.8 839,791.8 844,795.8 849,799.8 854,803.9 859,807.9 864,811.9 869,815.9 874,817.6 879,818.9 884,820.2 889,821.5 894,822.8 899,824.1 904,825.4 909,826.7 914,829.1 919,836 924,842.8 929,849.7 934,856.9 939,864.2 944,869.3 949,871.2 954,873.2 959,875.1 964,877.1 969,879 974,879.3 979,878.8 984,878.2 989,877.7 994,877.1 999,878.1 1004,879.1 1009,880 1014,881 1019,882 1024,884 1029,889 1034,894.1 1039,899.1 1044,903.6 1049,906.1 1054,908.6 1059,911.1 1064,913.6 1069,916.1 1074,917.9 1079,919 1084,920 1089,921 1094,922 1099,923 1104,924 1109,925.1 1114,926.1 1119,927.2 1124,928.3 1129,927.3 1134,924.8 1139,922.4 1144,920 1149,917.6 1154,915.2 1159,918.7 1164,923.7 1169,928.8 1174,933.8 1179,938.8 1184,943.8 1189,947.4 1194,949.5 1199,951.6 1204,953.6 1209,955.7 1214,957.8 1219,959.9 1224,961.7 1229,963.5 1234,965.2 1239,966.9 1244,968.6 1249,970.4 1254,972.1 1259,973.8 1264,975.5 1269,976.6 1274,976.1 1279,975.7 1284,975.3 1289,974.8 1294,974.4 1299,974 1304,974.1 1309,975 1314,976.2 1319,977.7 1324,979.1 1329,980.5 1334,981.9 1339,983.3 1344,984.7 1349,986.1 1354,987.9 1359,989.8 1364,991.7 1369,993.6 1374,995.6 1379,997.5 1384,999.4 1389,1001.3 1394,1002.8 1399,1004.2 1404,1005.7 1409,1007.2 1414,1008.7 1419,1009.4 1424,1008.4 1429,1007.4 1434,1006.5 1439,1005.5 1444,1004.5 1449,1003.5 1454,1002.5 1459,1001.6 1464,1000.6 1469,999.6 1474,998.6 1479,998.1 1479,1008.2 1474,1008.7 1469,1009.7 1464,1010.7 1459,1011.7 1454,1012.6 1449,1013.6 1444,1014.6 1439,1015.6 1434,1016.6 1429,1017.6 1424,1018.5 1419,1019.5 1414,1018.8 1409,1017.3 1404,1015.8 1399,1014.4 1394,1012.9 1389,1011.4 1384,1009.5 1379,1007.6 1374,1005.7 1369,1003.7 1364,1001.8 1359,999.9 1354,998 1349,996.3 1344,994.8 1339,993.4 1334,992 1329,990.6 1324,989.2 1319,987.8 1314,986.4 1309,985.1 1304,984.2 1299,984.1 1294,984.5 1289,984.9 1284,985.4 1279,985.8 1274,986.2 1269,986.7 1264,985.6 1259,983.9 1254,982.2 1249,980.5 1244,978.8 1239,977 1234,975.3 1229,973.6 1224,971.9 1219,970 1214,967.9 1209,965.8 1204,963.8 1199,961.7 1194,959.6 1189,957.5 1184,953.9 1179,948.9 1174,943.9 1169,938.9 1164,933.8 1159,928.8 1154,925.3 1149,927.7 1144,930.1 1139,932.5 1134,935 1129,937.4 1124,938.4 1119,937.3 1114,936.3 1109,935.2 1104,934.1 1099,933.1 1094,932.1 1089,931.1 1084,930.1 1079,929.1 1074,928.1 1069,926.2 1064,923.7 1059,921.2 1054,918.7 1049,916.2 1044,913.7 1039,909.2 1034,904.2 1029,899.2 1024,894.1 1019,892.1 1014,891.1 1009,890.1 1004,889.2 999,888.2 994,887.2 989,887.8 984,888.3 979,888.9 974,889.5 969,889.1 964,887.2 959,885.2 954,883.3 949,881.3 944,879.4 939,874.3 934,867 929,859.8 924,853 919,846.1 914,839.2 909,836.8 904,835.5 899,834.2 894,832.9 889,831.6 884,830.3 879,829 874,827.7 869,826.1 864,822 859,818 854,814 849,810 844,805.9 839,801.9 834,797.9 829,794 824,790 819,786 814,782 809,778.8 804,776.1 799,773.4 794,770.7 789,768 784,765.4 779,764.6 774,764.4 769,764.2 764,763.9 759,763.7 754,763.5 749,763.2 744,763 739,762.9 734,763.4 729,764 724,764.5 719,765 714,765.5 709,767 704,770 699,773.1 694,776.1 689,779.1 684,782.1 679,785.4 674,788.9 669,792.4 664,795.9 659,799.3 654,802.8 649,810.7 644,819.8 639,828.8 634,853 629,862.1 624,865 619,867.9 614,870.8 609,873.6 604,876.5 599,879.4 594,882.1 589,884.2 584,886.3 579,888.4 574,890.5 569,892.7 564,894.8 559,896.9 554,896.7 549,896 544,895.3 539,894.6 534,891 529,886.4 524,881.8 519,877.2 514,875.8 509,875.8 504,875.8 499,875.8 494,875.8" fill="#2f8a84"/>
<polygon points="494,881.9 499,881.9 504,881.9 509,881.9 514,881.9 519,883.3 524,887.9 529,892.5 534,897.1 539,900.7 544,901.4 549,902.1 554,902.8 559,903 564,900.8 569,898.7 574,896.6 579,894.5 584,892.4 589,890.2 594,888.1 599,885.5 604,882.6 609,879.7 614,876.8 619,874 624,871.1 629,868.2 634,859 639,834.9 644,825.8 649,816.8 654,808.9 659,805.4 664,801.9 669,798.4 674,795 679,791.5 684,788.2 689,785.2 694,782.1 699,779.1 704,776.1 709,773.1 714,771.6 719,771.1 724,770.5 729,770 734,769.5 739,769 744,769.1 749,769.3 754,769.5 759,769.8 764,770 769,770.2 774,770.5 779,770.7 784,771.4 789,774.1 794,776.8 799,779.5 804,782.2 809,784.9 814,788.1 819,792.1 824,796 829,800 834,804 839,808 844,812 849,816 854,820.1 859,824.1 864,828.1 869,832.1 874,833.8 879,835.1 884,836.4 889,837.7 894,839 899,840.3 904,841.6 909,842.9 914,845.3 919,852.1 924,859 929,865.9 934,873.1 939,880.3 944,885.5 949,887.4 954,889.4 959,891.3 964,893.2 969,895.2 974,895.5 979,895 984,894.4 989,893.8 994,893.3 999,894.3 1004,895.2 1009,896.2 1014,897.2 1019,898.2 1024,900.2 1029,905.2 1034,910.2 1039,915.3 1044,919.8 1049,922.3 1054,924.8 1059,927.3 1064,929.8 1069,932.3 1074,934.1 1079,935.1 1084,936.1 1089,937.1 1094,938.1 1099,939.1 1104,940.2 1109,941.3 1114,942.3 1119,943.4 1124,944.5 1129,943.4 1134,941 1139,938.6 1144,936.2 1149,933.8 1154,931.4 1159,934.9 1164,939.9 1169,944.9 1174,949.9 1179,955 1184,960 1189,963.6 1194,965.7 1199,967.7 1204,969.8 1209,971.9 1214,974 1219,976.1 1224,977.9 1229,979.6 1234,981.4 1239,983.1 1244,984.8 1249,986.5 1254,988.3 1259,990 1264,991.7 1269,992.7 1274,992.3 1279,991.9 1284,991.4 1289,991 1294,990.6 1299,990.1 1304,990.3 1309,991.2 1314,992.4 1319,993.8 1324,995.2 1329,996.7 1334,998.1 1339,999.5 1344,1000.9 1349,1002.3 1354,1004 1359,1006 1364,1007.9 1369,1009.8 1374,1011.7 1379,1013.7 1384,1015.6 1389,1017.5 1394,1019 1399,1020.4 1404,1021.9 1409,1023.4 1414,1024.9 1419,1025.6 1424,1024.6 1429,1023.6 1434,1022.6 1439,1021.7 1444,1020.7 1449,1019.7 1454,1018.7 1459,1017.7 1464,1016.7 1469,1015.8 1474,1014.8 1479,1014.3 1479,1024.4 1474,1024.9 1469,1025.9 1464,1026.9 1459,1027.8 1454,1028.8 1449,1029.8 1444,1030.8 1439,1031.8 1434,1032.8 1429,1033.7 1424,1034.7 1419,1035.7 1414,1035 1409,1033.5 1404,1032 1399,1030.5 1394,1029.1 1389,1027.6 1384,1025.7 1379,1023.8 1374,1021.8 1369,1019.9 1364,1018 1359,1016.1 1354,1014.2 1349,1012.4 1344,1011 1339,1009.6 1334,1008.2 1329,1006.8 1324,1005.4 1319,1003.9 1314,1002.5 1309,1001.3 1304,1000.4 1299,1000.3 1294,1000.7 1289,1001.1 1284,1001.6 1279,1002 1274,1002.4 1269,1002.9 1264,1001.8 1259,1000.1 1254,998.4 1249,996.7 1244,994.9 1239,993.2 1234,991.5 1229,989.8 1224,988 1219,986.2 1214,984.1 1209,982 1204,979.9 1199,977.9 1194,975.8 1189,973.7 1184,970.1 1179,965.1 1174,960.1 1169,955 1164,950 1159,945 1154,941.5 1149,943.9 1144,946.3 1139,948.7 1134,951.1 1129,953.6 1124,954.6 1119,953.5 1114,952.4 1109,951.4 1104,950.3 1099,949.3 1094,948.3 1089,947.3 1084,946.2 1079,945.2 1074,944.2 1069,942.4 1064,939.9 1059,937.4 1054,934.9 1049,932.4 1044,929.9 1039,925.4 1034,920.4 1029,915.3 1024,910.3 1019,908.3 1014,907.3 1009,906.3 1004,905.4 999,904.4 994,903.4 989,904 984,904.5 979,905.1 974,905.6 969,905.3 964,903.4 959,901.4 954,899.5 949,897.5 944,895.6 939,890.4 934,883.2 929,876 924,869.1 919,862.3 914,855.4 909,853 904,851.7 899,850.4 894,849.1 889,847.8 884,846.5 879,845.2 874,843.9 869,842.2 864,838.2 859,834.2 854,830.2 849,826.1 844,822.1 839,818.1 834,814.1 829,810.1 824,806.2 819,802.2 814,798.2 809,795 804,792.3 799,789.6 794,786.9 789,784.2 784,781.5 779,780.8 774,780.6 769,780.3 764,780.1 759,779.9 754,779.7 749,779.4 744,779.2 739,779.1 734,779.6 729,780.1 724,780.7 719,781.2 714,781.7 709,783.2 704,786.2 699,789.2 694,792.3 689,795.3 684,798.3 679,801.6 674,805.1 669,808.6 664,812 659,815.5 654,819 649,826.9 644,836 639,845 634,869.2 629,878.3 624,881.2 619,884.1 614,886.9 609,889.8 604,892.7 599,895.6 594,898.2 589,900.4 584,902.5 579,904.6 574,906.7 569,908.8 564,911 559,913.1 554,912.9 549,912.2 544,911.5 539,910.8 534,907.2 529,902.6 524,898 519,893.4 514,892 509,892 504,892 499,892 494,892" fill="#96904a"/>
</g>
<g filter="url(#brkH)">
<polygon points="925,685.5 930,686.7 935,687.9 940,689.1 945,690.2 950,691.3 955,692.6 960,693.9 965,695.1 970,696.4 975,697.5 980,694.6 985,690.2 990,688.4 995,690.8 1000,693.2 1005,695.8 1010,698.4 1015,701.2 1020,704.9 1025,708.7 1030,712.5 1035,715.8 1040,716.7 1045,717.6 1050,718.6 1055,719.5 1060,719.9 1065,719.9 1070,719.9 1075,719.8 1080,719.8 1085,719.8 1090,718.4 1095,716.7 1100,715 1105,713.8 1110,715.8 1115,718.6 1120,721.4 1125,724.2 1130,723.6 1135,722.1 1140,720.5 1145,719 1150,717.7 1155,717.1 1160,716.5 1165,718.6 1170,721.6 1175,726.6 1180,731.7 1185,736.7 1190,741.7 1195,746.6 1200,749.1 1205,751.6 1210,754.1 1215,756.6 1220,759.1 1225,761.8 1230,765.1 1235,768.4 1240,771.5 1245,774.1 1250,776.8 1255,778.4 1260,778.3 1265,778.2 1270,778.2 1275,778.1 1280,778 1285,778 1290,778.2 1295,778.3 1300,778.5 1305,778.7 1310,778.9 1315,779 1320,779.2 1325,779.4 1330,779.6 1335,780.6 1340,781.8 1345,783.3 1350,784.8 1355,786.2 1360,787.7 1365,789.2 1370,790.6 1375,792.1 1380,793.5 1385,795 1390,796.3 1395,797.2 1400,798.1 1405,799 1410,799.8 1415,800.7 1420,801.6 1425,802.5 1430,802.9 1435,803.3 1440,802.2 1445,801.2 1450,800.1 1455,799.1 1460,798.1 1465,797 1470,796 1475,794.9 1480,793.9 1485,793 1490,792 1495,791 1500,790.1 1505,789.1 1510,788.4 1515,787.6 1520,786.8 1525,786.1 1530,785.3 1535,784.6 1540,784 1545,783.4 1550,782.8 1555,782.2 1560,781.7 1565,781.1 1570,780.5 1575,781.1 1580,782 1585,782.8 1590,783.6 1595,784.4 1600,785.3 1605,786.1 1610,786.9 1615,787.7 1620,788.5 1625,788.6 1630,787.6 1635,784.7 1640,781.9 1645,779.1 1650,776.9 1655,776.3 1660,775.7 1665,775.1 1670,774.5 1675,773.9 1680,773.4 1685,773.7 1690,775 1695,776.3 1700,777.5 1705,778.8 1710,780.3 1715,781.9 1720,783.4 1725,785 1730,786.1 1735,786.2 1735,793.4 1730,793.2 1725,791.8 1720,790.1 1715,788.4 1710,786.7 1705,785.1 1700,783.9 1695,782.8 1690,781.6 1685,780.5 1680,780.1 1675,780.4 1670,780.9 1665,781.5 1660,782.1 1655,782.7 1650,783.2 1645,785.5 1640,788.4 1635,791.3 1630,794.3 1625,795.9 1620,796.6 1615,796 1610,795.3 1605,794.7 1600,794 1595,793.4 1590,792.7 1585,792 1580,791.4 1575,790.7 1570,790.2 1565,790.6 1560,791 1555,791.4 1550,791.8 1545,792.2 1540,792.6 1535,793 1530,793.6 1525,794.3 1520,795.1 1515,795.9 1510,796.7 1505,797.4 1500,798.3 1495,799.3 1490,800.2 1485,801.1 1480,802 1475,802.9 1470,804 1465,805.1 1460,806.2 1455,807.3 1450,808.3 1445,809.4 1440,810.5 1435,811.6 1430,811.6 1425,811.4 1420,810.4 1415,809.4 1410,808.4 1405,807.4 1400,806.4 1395,805.5 1390,804.5 1385,803.1 1380,801.5 1375,800 1370,798.4 1365,796.9 1360,795.3 1355,793.8 1350,792.2 1345,790.7 1340,789.2 1335,788.1 1330,787.2 1325,786.9 1320,786.6 1315,786.4 1310,786.1 1305,785.8 1300,785.6 1295,785.3 1290,785 1285,784.7 1280,784.9 1275,785.1 1270,785.4 1265,785.6 1260,785.8 1255,786 1250,785 1245,783.1 1240,781.3 1235,778.6 1230,775.5 1225,772.4 1220,769.8 1215,767.3 1210,764.8 1205,762.3 1200,759.8 1195,757.3 1190,752.9 1185,748.5 1180,744.1 1175,739.6 1170,735.1 1165,732.1 1160,729.8 1155,729.5 1150,729.3 1145,730.5 1140,732.1 1135,733.7 1130,735.3 1125,736.1 1120,733.3 1115,730.6 1110,727.9 1105,725.8 1100,726 1095,727.3 1090,728.6 1085,729.5 1080,729 1075,728.6 1070,728.1 1065,727.6 1060,727.1 1055,726.3 1050,725.1 1045,723.9 1040,722.6 1035,721.4 1030,718.4 1025,715 1020,711.7 1015,708.6 1010,706.1 1005,703.7 1000,701.4 995,699.5 990,697.7 985,698.9 980,702.2 975,704.3 970,703.4 965,702 960,700.7 955,699.4 950,698.1 945,696.9 940,695.6 935,694 930,692.5 925,690.9" fill="#a8e0a0"/>
<polygon points="925,690.9 930,692.5 935,694 940,695.6 945,696.9 950,698.1 955,699.4 960,700.7 965,702 970,703.4 975,704.3 980,702.2 985,698.9 990,697.7 995,699.5 1000,701.4 1005,703.7 1010,706.1 1015,708.6 1020,711.7 1025,715 1030,718.4 1035,721.4 1040,722.6 1045,723.9 1050,725.1 1055,726.3 1060,727.1 1065,727.6 1070,728.1 1075,728.6 1080,729 1085,729.5 1090,728.6 1095,727.3 1100,726 1105,725.8 1110,727.9 1115,730.6 1120,733.3 1125,736.1 1130,735.3 1135,733.7 1140,732.1 1145,730.5 1150,729.3 1155,729.5 1160,729.8 1165,732.1 1170,735.1 1175,739.6 1180,744.1 1185,748.5 1190,752.9 1195,757.3 1200,759.8 1205,762.3 1210,764.8 1215,767.3 1220,769.8 1225,772.4 1230,775.5 1235,778.6 1240,781.3 1245,783.1 1250,785 1255,786 1260,785.8 1265,785.6 1270,785.4 1275,785.1 1280,784.9 1285,784.7 1290,785 1295,785.3 1300,785.6 1305,785.8 1310,786.1 1315,786.4 1320,786.6 1325,786.9 1330,787.2 1335,788.1 1340,789.2 1345,790.7 1350,792.2 1355,793.8 1360,795.3 1365,796.9 1370,798.4 1375,800 1380,801.5 1385,803.1 1390,804.5 1395,805.5 1400,806.4 1405,807.4 1410,808.4 1415,809.4 1420,810.4 1425,811.4 1430,811.6 1435,811.6 1440,810.5 1445,809.4 1450,808.3 1455,807.3 1460,806.2 1465,805.1 1470,804 1475,802.9 1480,802 1485,801.1 1490,800.2 1495,799.3 1500,798.3 1505,797.4 1510,796.7 1515,795.9 1520,795.1 1525,794.3 1530,793.6 1535,793 1540,792.6 1545,792.2 1550,791.8 1555,791.4 1560,791 1565,790.6 1570,790.2 1575,790.7 1580,791.4 1585,792 1590,792.7 1595,793.4 1600,794 1605,794.7 1610,795.3 1615,796 1620,796.6 1625,795.9 1630,794.3 1635,791.3 1640,788.4 1645,785.5 1650,783.2 1655,782.7 1660,782.1 1665,781.5 1670,780.9 1675,780.4 1680,780.1 1685,780.5 1690,781.6 1695,782.8 1700,783.9 1705,785.1 1710,786.7 1715,788.4 1720,790.1 1725,791.8 1730,793.2 1735,793.4 1735,800.6 1730,800.3 1725,798.7 1720,796.8 1715,794.9 1710,793 1705,791.3 1700,790.3 1695,789.3 1690,788.3 1685,787.2 1680,786.7 1675,786.9 1670,787.4 1665,788 1660,788.5 1655,789.1 1650,789.6 1645,791.9 1640,794.9 1635,797.9 1630,801 1625,803.1 1620,804.6 1615,804.3 1610,803.8 1605,803.3 1600,802.8 1595,802.3 1590,801.8 1585,801.3 1580,800.8 1575,800.3 1570,799.9 1565,800.1 1560,800.3 1555,800.5 1550,800.7 1545,800.9 1540,801.1 1535,801.3 1530,801.9 1525,802.6 1520,803.4 1515,804.2 1510,805 1505,805.7 1500,806.6 1495,807.5 1490,808.3 1485,809.2 1480,810.1 1475,811 1470,812.1 1465,813.2 1460,814.3 1455,815.4 1450,816.5 1445,817.6 1440,818.8 1435,819.9 1430,820.3 1425,820.4 1420,819.3 1415,818.2 1410,817 1405,815.9 1400,814.8 1395,813.7 1390,812.6 1385,811.1 1380,809.5 1375,807.9 1370,806.2 1365,804.6 1360,803 1355,801.4 1350,799.7 1345,798.1 1340,796.5 1335,795.5 1330,794.8 1325,794.4 1320,794 1315,793.7 1310,793.3 1305,793 1300,792.6 1295,792.2 1290,791.9 1285,791.5 1280,791.8 1275,792.2 1270,792.5 1265,792.9 1260,793.3 1255,793.6 1250,793.2 1245,792.2 1240,791.1 1235,788.8 1230,785.9 1225,783 1220,780.4 1215,777.9 1210,775.4 1205,772.9 1200,770.4 1195,767.9 1190,764.2 1185,760.4 1180,756.4 1175,752.5 1170,748.6 1165,745.6 1160,743.1 1155,742 1150,740.9 1145,742 1140,743.7 1135,745.4 1130,747.1 1125,747.9 1120,745.2 1115,742.6 1110,739.9 1105,737.7 1100,737 1095,737.9 1090,738.7 1085,739.2 1080,738.2 1075,737.3 1070,736.3 1065,735.3 1060,734.3 1055,733.1 1050,731.6 1045,730.1 1040,728.5 1035,727 1030,724.3 1025,721.3 1020,718.5 1015,715.9 1010,713.8 1005,711.7 1000,709.6 995,708.3 990,707 985,707.7 980,709.8 975,711.1 970,710.3 965,709 960,707.6 955,706.2 950,704.8 945,703.5 940,702 935,700.1 930,698.2 925,696.4" fill="#2f8a84"/>
<polygon points="925,696.4 930,698.2 935,700.1 940,702 945,703.5 950,704.8 955,706.2 960,707.6 965,709 970,710.3 975,711.1 980,709.8 985,707.7 990,707 995,708.3 1000,709.6 1005,711.7 1010,713.8 1015,715.9 1020,718.5 1025,721.3 1030,724.3 1035,727 1040,728.5 1045,730.1 1050,731.6 1055,733.1 1060,734.3 1065,735.3 1070,736.3 1075,737.3 1080,738.2 1085,739.2 1090,738.7 1095,737.9 1100,737 1105,737.7 1110,739.9 1115,742.6 1120,745.2 1125,747.9 1130,747.1 1135,745.4 1140,743.7 1145,742 1150,740.9 1155,742 1160,743.1 1165,745.6 1170,748.6 1175,752.5 1180,756.4 1185,760.4 1190,764.2 1195,767.9 1200,770.4 1205,772.9 1210,775.4 1215,777.9 1220,780.4 1225,783 1230,785.9 1235,788.8 1240,791.1 1245,792.2 1250,793.2 1255,793.6 1260,793.3 1265,792.9 1270,792.5 1275,792.2 1280,791.8 1285,791.5 1290,791.9 1295,792.2 1300,792.6 1305,793 1310,793.3 1315,793.7 1320,794 1325,794.4 1330,794.8 1335,795.5 1340,796.5 1345,798.1 1350,799.7 1355,801.4 1360,803 1365,804.6 1370,806.2 1375,807.9 1380,809.5 1385,811.1 1390,812.6 1395,813.7 1400,814.8 1405,815.9 1410,817 1415,818.2 1420,819.3 1425,820.4 1430,820.3 1435,819.9 1440,818.8 1445,817.6 1450,816.5 1455,815.4 1460,814.3 1465,813.2 1470,812.1 1475,811 1480,810.1 1485,809.2 1490,808.3 1495,807.5 1500,806.6 1505,805.7 1510,805 1515,804.2 1520,803.4 1525,802.6 1530,801.9 1535,801.3 1540,801.1 1545,800.9 1550,800.7 1555,800.5 1560,800.3 1565,800.1 1570,799.9 1575,800.3 1580,800.8 1585,801.3 1590,801.8 1595,802.3 1600,802.8 1605,803.3 1610,803.8 1615,804.3 1620,804.6 1625,803.1 1630,801 1635,797.9 1640,794.9 1645,791.9 1650,789.6 1655,789.1 1660,788.5 1665,788 1670,787.4 1675,786.9 1680,786.7 1685,787.2 1690,788.3 1695,789.3 1700,790.3 1705,791.3 1710,793 1715,794.9 1720,796.8 1725,798.7 1730,800.3 1735,800.6 1735,807.8 1730,807.4 1725,805.5 1720,803.5 1715,801.4 1710,799.4 1705,797.6 1700,796.7 1695,795.8 1690,794.9 1685,794 1680,793.4 1675,793.4 1670,793.9 1665,794.4 1660,794.9 1655,795.5 1650,796 1645,798.3 1640,801.4 1635,804.5 1630,807.7 1625,810.3 1620,812.7 1615,812.6 1610,812.2 1605,811.9 1600,811.6 1595,811.2 1590,810.9 1585,810.5 1580,810.2 1575,809.9 1570,809.6 1565,809.6 1560,809.6 1555,809.6 1550,809.6 1545,809.7 1540,809.7 1535,809.7 1530,810.2 1525,810.9 1520,811.7 1515,812.5 1510,813.3 1505,814 1500,814.9 1495,815.7 1490,816.5 1485,817.3 1480,818.2 1475,819 1470,820.1 1465,821.3 1460,822.4 1455,823.6 1450,824.7 1445,825.9 1440,827 1435,828.2 1430,829 1425,829.4 1420,828.1 1415,826.9 1410,825.7 1405,824.4 1400,823.2 1395,822 1390,820.7 1385,819.1 1380,817.4 1375,815.7 1370,814 1365,812.3 1360,810.6 1355,808.9 1350,807.2 1345,805.5 1340,803.8 1335,803 1330,802.4 1325,801.9 1320,801.4 1315,801 1310,800.5 1305,800.1 1300,799.6 1295,799.2 1290,798.7 1285,798.3 1280,798.7 1275,799.2 1270,799.7 1265,800.2 1260,800.7 1255,801.2 1250,801.3 1245,801.2 1240,801 1235,799 1230,796.3 1225,793.6 1220,791.1 1215,788.6 1210,786.1 1205,783.6 1200,781.1 1195,778.6 1190,775.4 1185,772.2 1180,768.8 1175,765.4 1170,762 1165,759.1 1160,756.5 1155,754.5 1150,752.5 1145,753.5 1140,755.3 1135,757 1130,758.8 1125,759.7 1120,757.1 1115,754.5 1110,752 1105,749.6 1100,748 1095,748.4 1090,748.9 1085,748.9 1080,747.4 1075,746 1070,744.5 1065,743 1060,741.6 1055,739.9 1050,738.1 1045,736.3 1040,734.4 1035,732.6 1030,730.2 1025,727.7 1020,725.4 1015,723.3 1010,721.5 1005,719.7 1000,717.9 995,717 990,716.2 985,716.5 980,717.4 975,717.9 970,717.3 965,715.9 960,714.4 955,713 950,711.6 945,710.2 940,708.5 935,706.3 930,704 925,701.8" fill="#dcee96"/>
<polygon points="925,707.2 930,709.8 935,712.4 940,715 945,716.9 950,718.4 955,719.8 960,721.3 965,722.8 970,724.3 975,724.7 980,725 985,725.2 990,725.5 995,725.8 1000,726.1 1005,727.6 1010,729.2 1015,730.7 1020,732.2 1025,734 1030,736.1 1035,738.2 1040,740.4 1045,742.5 1050,744.6 1055,746.7 1060,748.8 1065,750.7 1070,752.7 1075,754.7 1080,756.6 1085,758.6 1090,759 1095,759 1100,759 1105,761.5 1110,764 1115,766.5 1120,769 1125,771.5 1130,770.5 1135,768.7 1140,766.8 1145,765 1150,764.1 1155,766.9 1160,769.8 1165,772.6 1170,775.5 1175,778.4 1180,781.2 1185,784.1 1190,786.7 1195,789.2 1200,791.7 1205,794.2 1210,796.7 1215,799.2 1220,801.7 1225,804.2 1230,806.7 1235,809.2 1240,810.8 1245,810.2 1250,809.5 1255,808.9 1260,808.2 1265,807.6 1270,806.9 1275,806.3 1280,805.6 1285,805 1290,805.6 1295,806.1 1300,806.7 1305,807.2 1310,807.8 1315,808.3 1320,808.9 1325,809.4 1330,809.9 1335,810.5 1340,811.1 1345,812.9 1350,814.7 1355,816.5 1360,818.3 1365,820.1 1370,821.8 1375,823.6 1380,825.4 1385,827.2 1390,828.9 1395,830.2 1400,831.6 1405,832.9 1410,834.3 1415,835.6 1420,837 1425,838.3 1430,837.7 1435,836.5 1440,835.3 1445,834.1 1450,832.9 1455,831.7 1460,830.6 1465,829.4 1470,828.2 1475,827 1480,826.2 1485,825.4 1490,824.7 1495,823.9 1500,823.1 1505,822.3 1510,821.6 1515,820.8 1520,820 1525,819.2 1530,818.5 1535,818.1 1540,818.2 1545,818.4 1550,818.6 1555,818.8 1560,818.9 1565,819.1 1570,819.3 1575,819.5 1580,819.6 1585,819.8 1590,820 1595,820.1 1600,820.3 1605,820.5 1610,820.7 1615,820.8 1620,820.7 1625,817.5 1630,814.3 1635,811.1 1640,807.9 1645,804.7 1650,802.3 1655,801.8 1660,801.3 1665,800.8 1670,800.3 1675,799.8 1680,800 1685,800.8 1690,801.5 1695,802.3 1700,803.1 1705,803.8 1710,805.8 1715,808 1720,810.2 1725,812.4 1730,814.6 1735,815 1735,825.7 1730,825.2 1725,823 1720,820.8 1715,818.6 1710,816.4 1705,814.5 1700,813.7 1695,813 1690,812.2 1685,811.4 1680,810.7 1675,810.5 1670,811 1665,811.5 1660,812 1655,812.5 1650,813 1645,815.4 1640,818.6 1635,821.8 1630,825 1625,828.2 1620,831.4 1615,831.5 1610,831.3 1605,831.2 1600,831 1595,830.8 1590,830.6 1585,830.5 1580,830.3 1575,830.1 1570,829.9 1565,829.8 1560,829.6 1555,829.4 1550,829.3 1545,829.1 1540,828.9 1535,828.7 1530,829.1 1525,829.9 1520,830.7 1515,831.5 1510,832.2 1505,833 1500,833.8 1495,834.6 1490,835.3 1485,836.1 1480,836.9 1475,837.7 1470,838.9 1465,840 1460,841.2 1455,842.4 1450,843.6 1445,844.8 1440,846 1435,847.1 1430,848.3 1425,849 1420,847.6 1415,846.3 1410,844.9 1405,843.6 1400,842.2 1395,840.9 1390,839.5 1385,837.8 1380,836.1 1375,834.3 1370,832.5 1365,830.7 1360,828.9 1355,827.2 1350,825.4 1345,823.6 1340,821.8 1335,821.2 1330,820.6 1325,820.1 1320,819.5 1315,819 1310,818.4 1305,817.9 1300,817.3 1295,816.8 1290,816.2 1285,815.7 1280,816.3 1275,816.9 1270,817.6 1265,818.2 1260,818.9 1255,819.5 1250,820.2 1245,820.8 1240,821.5 1235,819.9 1230,817.4 1225,814.9 1220,812.4 1215,809.9 1210,807.4 1205,804.9 1200,802.4 1195,799.9 1190,797.4 1185,794.8 1180,791.9 1175,789 1170,786.2 1165,783.3 1160,780.5 1155,777.6 1150,774.7 1145,775.6 1140,777.5 1135,779.3 1130,781.2 1125,782.2 1120,779.7 1115,777.2 1110,774.7 1105,772.2 1100,769.7 1095,769.7 1090,769.7 1085,769.3 1080,767.3 1075,765.3 1070,763.4 1065,761.4 1060,759.4 1055,757.4 1050,755.3 1045,753.2 1040,751 1035,748.9 1030,746.8 1025,744.6 1020,742.8 1015,741.3 1010,739.8 1005,738.3 1000,736.8 995,736.4 990,736.2 985,735.9 980,735.6 975,735.4 970,734.9 965,733.5 960,732 955,730.5 950,729 945,727.6 940,725.6 935,723 930,720.5 925,717.9" fill="#a8e0a0"/>
<polygon points="925,717.9 930,720.5 935,723 940,725.6 945,727.6 950,729 955,730.5 960,732 965,733.5 970,734.9 975,735.4 980,735.6 985,735.9 990,736.2 995,736.4 1000,736.8 1005,738.3 1010,739.8 1015,741.3 1020,742.8 1025,744.6 1030,746.8 1035,748.9 1040,751 1045,753.2 1050,755.3 1055,757.4 1060,759.4 1065,761.4 1070,763.4 1075,765.3 1080,767.3 1085,769.3 1090,769.7 1095,769.7 1100,769.7 1105,772.2 1110,774.7 1115,777.2 1120,779.7 1125,782.2 1130,781.2 1135,779.3 1140,777.5 1145,775.6 1150,774.7 1155,777.6 1160,780.5 1165,783.3 1170,786.2 1175,789 1180,791.9 1185,794.8 1190,797.4 1195,799.9 1200,802.4 1205,804.9 1210,807.4 1215,809.9 1220,812.4 1225,814.9 1230,817.4 1235,819.9 1240,821.5 1245,820.8 1250,820.2 1255,819.5 1260,818.9 1265,818.2 1270,817.6 1275,816.9 1280,816.3 1285,815.7 1290,816.2 1295,816.8 1300,817.3 1305,817.9 1310,818.4 1315,819 1320,819.5 1325,820.1 1330,820.6 1335,821.2 1340,821.8 1345,823.6 1350,825.4 1355,827.2 1360,828.9 1365,830.7 1370,832.5 1375,834.3 1380,836.1 1385,837.8 1390,839.5 1395,840.9 1400,842.2 1405,843.6 1410,844.9 1415,846.3 1420,847.6 1425,849 1430,848.3 1435,847.1 1440,846 1445,844.8 1450,843.6 1455,842.4 1460,841.2 1465,840 1470,838.9 1475,837.7 1480,836.9 1485,836.1 1490,835.3 1495,834.6 1500,833.8 1505,833 1510,832.2 1515,831.5 1520,830.7 1525,829.9 1530,829.1 1535,828.7 1540,828.9 1545,829.1 1550,829.3 1555,829.4 1560,829.6 1565,829.8 1570,829.9 1575,830.1 1580,830.3 1585,830.5 1590,830.6 1595,830.8 1600,831 1605,831.2 1610,831.3 1615,831.5 1620,831.4 1625,828.2 1630,825 1635,821.8 1640,818.6 1645,815.4 1650,813 1655,812.5 1660,812 1665,811.5 1670,811 1675,810.5 1680,810.7 1685,811.4 1690,812.2 1695,813 1700,813.7 1705,814.5 1710,816.4 1715,818.6 1720,820.8 1725,823 1730,825.2 1735,825.7 1735,836.3 1730,835.9 1725,833.7 1720,831.5 1715,829.3 1710,827.1 1705,825.2 1700,824.4 1695,823.6 1690,822.9 1685,822.1 1680,821.3 1675,821.2 1670,821.7 1665,822.2 1660,822.7 1655,823.2 1650,823.7 1645,826.1 1640,829.3 1635,832.5 1630,835.7 1625,838.9 1620,842.1 1615,842.2 1610,842 1605,841.8 1600,841.7 1595,841.5 1590,841.3 1585,841.1 1580,841 1575,840.8 1570,840.6 1565,840.4 1560,840.3 1555,840.1 1550,839.9 1545,839.7 1540,839.6 1535,839.4 1530,839.8 1525,840.6 1520,841.4 1515,842.1 1510,842.9 1505,843.7 1500,844.5 1495,845.2 1490,846 1485,846.8 1480,847.6 1475,848.3 1470,849.5 1465,850.7 1460,851.9 1455,853.1 1450,854.3 1445,855.4 1440,856.6 1435,857.8 1430,859 1425,859.7 1420,858.3 1415,857 1410,855.6 1405,854.2 1400,852.9 1395,851.5 1390,850.2 1385,848.5 1380,846.7 1375,845 1370,843.2 1365,841.4 1360,839.6 1355,837.8 1350,836 1345,834.3 1340,832.5 1335,831.8 1330,831.3 1325,830.7 1320,830.2 1315,829.6 1310,829.1 1305,828.5 1300,828 1295,827.5 1290,826.9 1285,826.4 1280,827 1275,827.6 1270,828.3 1265,828.9 1260,829.6 1255,830.2 1250,830.9 1245,831.5 1240,832.2 1235,830.5 1230,828 1225,825.5 1220,823 1215,820.5 1210,818 1205,815.5 1200,813 1195,810.5 1190,808 1185,805.4 1180,802.6 1175,799.7 1170,796.8 1165,794 1160,791.1 1155,788.3 1150,785.4 1145,786.3 1140,788.2 1135,790 1130,791.9 1125,792.8 1120,790.3 1115,787.8 1110,785.3 1105,782.8 1100,780.3 1095,780.3 1090,780.3 1085,779.9 1080,778 1075,776 1070,774 1065,772.1 1060,770.1 1055,768.1 1050,766 1045,763.8 1040,761.7 1035,759.6 1030,757.4 1025,755.3 1020,753.5 1015,752 1010,750.5 1005,749 1000,747.5 995,747.1 990,746.8 985,746.6 980,746.3 975,746.1 970,745.6 965,744.1 960,742.6 955,741.2 950,739.7 945,738.2 940,736.3 935,733.7 930,731.1 925,728.5" fill="#2f8a84"/>
<polygon points="925,728.5 930,731.1 935,733.7 940,736.3 945,738.2 950,739.7 955,741.2 960,742.6 965,744.1 970,745.6 975,746.1 980,746.3 985,746.6 990,746.8 995,747.1 1000,747.5 1005,749 1010,750.5 1015,752 1020,753.5 1025,755.3 1030,757.4 1035,759.6 1040,761.7 1045,763.8 1050,766 1055,768.1 1060,770.1 1065,772.1 1070,774 1075,776 1080,778 1085,779.9 1090,780.3 1095,780.3 1100,780.3 1105,782.8 1110,785.3 1115,787.8 1120,790.3 1125,792.8 1130,791.9 1135,790 1140,788.2 1145,786.3 1150,785.4 1155,788.3 1160,791.1 1165,794 1170,796.8 1175,799.7 1180,802.6 1185,805.4 1190,808 1195,810.5 1200,813 1205,815.5 1210,818 1215,820.5 1220,823 1225,825.5 1230,828 1235,830.5 1240,832.2 1245,831.5 1250,830.9 1255,830.2 1260,829.6 1265,828.9 1270,828.3 1275,827.6 1280,827 1285,826.4 1290,826.9 1295,827.5 1300,828 1305,828.5 1310,829.1 1315,829.6 1320,830.2 1325,830.7 1330,831.3 1335,831.8 1340,832.5 1345,834.3 1350,836 1355,837.8 1360,839.6 1365,841.4 1370,843.2 1375,845 1380,846.7 1385,848.5 1390,850.2 1395,851.5 1400,852.9 1405,854.2 1410,855.6 1415,857 1420,858.3 1425,859.7 1430,859 1435,857.8 1440,856.6 1445,855.4 1450,854.3 1455,853.1 1460,851.9 1465,850.7 1470,849.5 1475,848.3 1480,847.6 1485,846.8 1490,846 1495,845.2 1500,844.5 1505,843.7 1510,842.9 1515,842.1 1520,841.4 1525,840.6 1530,839.8 1535,839.4 1540,839.6 1545,839.7 1550,839.9 1555,840.1 1560,840.3 1565,840.4 1570,840.6 1575,840.8 1580,841 1585,841.1 1590,841.3 1595,841.5 1600,841.7 1605,841.8 1610,842 1615,842.2 1620,842.1 1625,838.9 1630,835.7 1635,832.5 1640,829.3 1645,826.1 1650,823.7 1655,823.2 1660,822.7 1665,822.2 1670,821.7 1675,821.2 1680,821.3 1685,822.1 1690,822.9 1695,823.6 1700,824.4 1705,825.2 1710,827.1 1715,829.3 1720,831.5 1725,833.7 1730,835.9 1735,836.3 1735,847 1730,846.6 1725,844.4 1720,842.2 1715,840 1710,837.8 1705,835.8 1700,835.1 1695,834.3 1690,833.5 1685,832.8 1680,832 1675,831.8 1670,832.3 1665,832.8 1660,833.3 1655,833.8 1650,834.3 1645,836.7 1640,839.9 1635,843.1 1630,846.3 1625,849.5 1620,852.7 1615,852.8 1610,852.7 1605,852.5 1600,852.3 1595,852.1 1590,852 1585,851.8 1580,851.6 1575,851.5 1570,851.3 1565,851.1 1560,850.9 1555,850.8 1550,850.6 1545,850.4 1540,850.2 1535,850.1 1530,850.5 1525,851.2 1520,852 1515,852.8 1510,853.6 1505,854.3 1500,855.1 1495,855.9 1490,856.7 1485,857.4 1480,858.2 1475,859 1470,860.2 1465,861.4 1460,862.6 1455,863.7 1450,864.9 1445,866.1 1440,867.3 1435,868.5 1430,869.7 1425,870.3 1420,869 1415,867.6 1410,866.3 1405,864.9 1400,863.6 1395,862.2 1390,860.9 1385,859.2 1380,857.4 1375,855.6 1370,853.8 1365,852.1 1360,850.3 1355,848.5 1350,846.7 1345,844.9 1340,843.1 1335,842.5 1330,841.9 1325,841.4 1320,840.9 1315,840.3 1310,839.8 1305,839.2 1300,838.7 1295,838.1 1290,837.6 1285,837 1280,837.6 1275,838.3 1270,838.9 1265,839.6 1260,840.2 1255,840.9 1250,841.5 1245,842.2 1240,842.8 1235,841.2 1230,838.7 1225,836.2 1220,833.7 1215,831.2 1210,828.7 1205,826.2 1200,823.7 1195,821.2 1190,818.7 1185,816.1 1180,813.2 1175,810.4 1170,807.5 1165,804.6 1160,801.8 1155,798.9 1150,796.1 1145,797 1140,798.8 1135,800.7 1130,802.5 1125,803.5 1120,801 1115,798.5 1110,796 1105,793.5 1100,791 1095,791 1090,791 1085,790.6 1080,788.6 1075,786.7 1070,784.7 1065,782.7 1060,780.8 1055,778.7 1050,776.6 1045,774.5 1040,772.4 1035,770.2 1030,768.1 1025,766 1020,764.2 1015,762.7 1010,761.2 1005,759.6 1000,758.1 995,757.8 990,757.5 985,757.2 980,757 975,756.7 970,756.3 965,754.8 960,753.3 955,751.8 950,750.4 945,748.9 940,747 935,744.4 930,741.8 925,739.2" fill="#dcee96"/>
</g>
<polyline points="494,297 526,317 561,349 566,361.6 582.4,376.5 595.6,377.3 608.8,372.4 627,365 633.5,360 659,335 699,312 728,300 769,306 826,323 860.7,340 889.3,350.7 925,363.2 960.8,372 996.5,379.3 1032.3,391.8 1068,399 1100,407 1143,423 1178,423 1215.5,447.5 1253,469 1279,462 1316.5,465 1360,476 1417.5,489 1475,489 1533,482 1579,475 1605,479 1674.5,470.5 1706,479 1734,496" fill="none" stroke="#000" stroke-width="4.6" stroke-dasharray="8 5" stroke-linejoin="round"/>
<polyline points="494.4,381 511.4,388 524.6,398 534.5,409.5 544.4,418.6 564.2,421 585.7,422.7 602,416 622,411 638.5,409.5 663,402 674.7,391 688,384.7 704.4,381.4 729,380.6 754,383 770.4,384.7 778.7,378 795,384.7 800,387.3 817.9,395.4 844.7,415 871.5,420.4 889.3,434.7 907.2,437.4 928.6,430.2 943,437.4 960.8,450.8 978.7,458.8 994.7,469.5 1005.5,463.3 1023.3,475.8 1053.7,490 1073.4,471.3 1086,474.9 1103.7,491.9 1129,486 1158,492 1187,517 1230,543 1256,553 1285,543 1360,550 1389,566 1432,577 1475,569 1530,556 1544,569 1573,561 1602,571 1634,550 1666,541 1706,554 1731,576" fill="none" stroke="#000" stroke-width="4.6" stroke-dasharray="8 5" stroke-linejoin="round"/>
<polyline points="495,566 511.4,572.8 523,579.4 536,586 556,589.3 577.4,588.5 592.3,585 605.5,577.7 622,569.5 632,561 636.8,548 641.8,538 648.4,525 658.2,513.4 671.4,505 684.6,495 693,485.4 704.4,478.8 721,475.5 737.4,473 754,475.5 770.4,478.8 787,479.6 796.8,485.4 808.4,493.6 817.9,497.2 826.8,493.6 844.7,511.5 862.5,522.2 903.6,529.4 943,547.3 978.7,558 996.5,548.1 1010.8,554.4 1028.7,574 1059,576.7 1073.4,564.2 1089.4,575.8 1100,577 1123,600 1152,584.5 1186.6,623.5 1238.6,638 1264.5,642 1287.6,630.7 1313.6,642 1345,633.6 1388.7,652 1437.8,662.5 1504,648 1527,654 1576,633.6 1602,651 1648.5,643.7 1686,635 1731,664" fill="none" stroke="#000" stroke-width="4.6" stroke-dasharray="8 5" stroke-linejoin="round"/>
<polyline points="494.4,742 517.5,742 537.7,760.6 558,763.5 595.5,747.6 633,726 637,698.6 653,669.7 682,649.5 711,632 740,629 783,631 812,646.6 841,669.7 869.7,692.8 913,704 930,727.4 942,744.8 970.8,756 994,753.4 1022.7,759 1043,779.4 1071.8,793.8 1100.7,799.6 1126,805 1155,791 1186.6,822.7 1221,837 1267.4,853 1302,850 1310.7,851.6 1351,863 1388.7,877.5 1417.5,886 1475,874.7 1515.7,871.8 1570.6,848.7 1613.8,869 1631,848.7 1654,830 1683,827 1731,851" fill="none" stroke="#000" stroke-width="4.6" stroke-dasharray="8 5" stroke-linejoin="round"/>
<polyline points="924.6,680 947.7,684 976.5,691 988,678 1014,693 1034,710 1057,713 1086,710 1106,701.5 1126,713 1160.6,703 1169,707 1195,736 1224,750.5 1253,770.7 1331,772 1388.7,788 1435,795 1504,781 1570.6,770.7 1628,782 1648.5,770.7 1683,766.4 1728,779" fill="none" stroke="#000" stroke-width="4.6" stroke-dasharray="8 5" stroke-linejoin="round"/>
<polyline points="924.6,707 942,716 970.8,724.5 999.6,726 1022.7,733 1057,747.6 1086,759 1100,759 1126,772 1149,763.5 1186.6,785 1238.6,811 1284.8,805 1339.6,811 1388.7,828.5 1426,838.6 1475,827 1533,818 1619.6,821 1648.5,802.5 1677.4,799.6 1706,804 1731,815" fill="none" stroke="#000" stroke-width="4.6" stroke-dasharray="8 5" stroke-linejoin="round"/>
<polyline points="786,589 812,606 841,606 875.5,612 910,628" fill="none" stroke="#000" stroke-width="4.6" stroke-dasharray="8 5" stroke-linejoin="round"/>
<polyline points="784.6,615 820.6,632 866.8,633.6 890,649.5 910,652.4" fill="none" stroke="#000" stroke-width="4.6" stroke-dasharray="8 5" stroke-linejoin="round"/>
</g>
<text x="472.0" y="363.8" font-size="49.5" text-anchor="end" textLength="104.5" lengthAdjust="spacingAndGlyphs" >7460</text>
<text x="472.0" y="468.3" font-size="49.5" text-anchor="end" textLength="104.5" lengthAdjust="spacingAndGlyphs" >7500</text>
<text x="472.0" y="572.9" font-size="49.5" text-anchor="end" textLength="104.5" lengthAdjust="spacingAndGlyphs" >7540</text>
<text x="472.0" y="677.4" font-size="49.5" text-anchor="end" textLength="104.5" lengthAdjust="spacingAndGlyphs" >7580</text>
<text x="472.0" y="782.0" font-size="49.5" text-anchor="end" textLength="104.5" lengthAdjust="spacingAndGlyphs" >7620</text>
<text x="472.0" y="886.5" font-size="49.5" text-anchor="end" textLength="104.5" lengthAdjust="spacingAndGlyphs" >7660</text>
<text x="472.0" y="991.1" font-size="49.5" text-anchor="end" textLength="104.5" lengthAdjust="spacingAndGlyphs" >7700</text>
<text x="472.0" y="1095.7" font-size="49.5" text-anchor="end" textLength="104.5" lengthAdjust="spacingAndGlyphs" >7740</text>
<text transform="translate(312,816) rotate(-90)" font-size="49" textLength="227" lengthAdjust="spacingAndGlyphs">TWT/ms</text>
<text x="1196.5" y="340.0" font-size="49.5" text-anchor="start" textLength="287.5" lengthAdjust="spacingAndGlyphs" >单道地震剖面</text>
<line x1="1505" y1="322.5" x2="1592" y2="322.5" stroke="#000" stroke-width="4"/>
<path d="M1611,322.5 L1584,311 L1590,322.5 L1584,334 Z" fill="#000"/>
<text x="1619.5" y="340.0" font-size="49.5" text-anchor="start" textLength="45.0" lengthAdjust="spacingAndGlyphs" >东</text>
<line x1="1737.0" y1="476.0" x2="2109.0" y2="271.0" stroke="#1a1a1a" stroke-width="3.2" stroke-dasharray="3.2 2.2"/>
<line x1="1734.0" y1="576.0" x2="2109.0" y2="325.0" stroke="#1a1a1a" stroke-width="3.2" stroke-dasharray="3.2 2.2"/>
<line x1="1737.0" y1="661.0" x2="2109.0" y2="386.0" stroke="#1a1a1a" stroke-width="3.2" stroke-dasharray="3.2 2.2"/>
<line x1="1737.0" y1="785.0" x2="2109.0" y2="469.0" stroke="#1a1a1a" stroke-width="3.2" stroke-dasharray="3.2 2.2"/>
<line x1="1734.0" y1="851.0" x2="2109.0" y2="552.0" stroke="#1a1a1a" stroke-width="3.2" stroke-dasharray="3.2 2.2"/>
<text transform="translate(1748.0,451.0) rotate(-29.3)" font-size="31" textLength="392">(1) 第四纪—渐新世远洋黏土</text>
<text transform="translate(1739.0,554.0) rotate(-35.0)" font-size="31" textLength="455">(2) 渐新世—始新世 (晚白垩世?)</text>
<text transform="translate(1826.0,547.0) rotate(-34.6)" font-size="31" textLength="285">燧石、黏土、灰岩层</text>
<text transform="translate(1780.0,707.0) rotate(-39.9)" font-size="31" textLength="340">(3) 晚白垩白垩世、灰岩</text>
<text transform="translate(1828.0,747.0) rotate(-39.4)" font-size="31" textLength="215">(4) 含燧石灰岩</text>
<text transform="translate(1828.0,833.0) rotate(-40.7)" font-size="31" textLength="220">(5) 玄武岩基岩</text>
<text x="2151.0" y="56.0" font-size="49.5" text-anchor="start" textLength="94.0" lengthAdjust="spacingAndGlyphs" >平均</text>
<text x="2151.0" y="112.4" font-size="49.5" text-anchor="start" textLength="94.0" lengthAdjust="spacingAndGlyphs" >速度</text>
<text x="2076" y="168" font-size="58" textLength="21" lengthAdjust="spacingAndGlyphs">/</text>
<text x="2104.5" y="165" font-size="50" textLength="14" lengthAdjust="spacingAndGlyphs">(</text>
<text x="2305" y="165" font-size="50" textLength="14" lengthAdjust="spacingAndGlyphs">)</text>
<text x="2124.5" y="165.0" font-size="40.0" text-anchor="start" textLength="41.0" lengthAdjust="spacingAndGlyphs" >m</text>
<circle cx="2174.2" cy="150.5" r="2.9" fill="#000"/>
<text x="2184.4" y="165.0" font-size="40.0" text-anchor="start" textLength="63.0" lengthAdjust="spacingAndGlyphs" >ms</text>
<line x1="2256" y1="141.6" x2="2278.6" y2="141.6" stroke="#000" stroke-width="2.3"/>
<text x="2286.5" y="151.2" font-size="33.0" text-anchor="start" textLength="14.0" lengthAdjust="spacingAndGlyphs" >1</text>
<text x="2395.5" y="53.8" font-size="50.0" text-anchor="start" textLength="351.0" lengthAdjust="spacingAndGlyphs" >DSDP site 170</text>
<text x="2394.0" y="112.4" font-size="49.5" text-anchor="start" textLength="191.0" lengthAdjust="spacingAndGlyphs" >地震剖面</text>
<line x1="2110.0" y1="192.5" x2="2110.0" y2="1001" stroke="#5a5a5a" stroke-width="2.4"/>
<line x1="2289.6" y1="192.5" x2="2289.6" y2="1001" stroke="#5a5a5a" stroke-width="2.4"/>
<line x1="2110" y1="270.3" x2="2289.6" y2="270.3" stroke="#5a5a5a" stroke-width="2.6"/>
<line x1="2110" y1="325.0" x2="2289.6" y2="325.0" stroke="#5a5a5a" stroke-width="2.6"/>
<line x1="2110" y1="552.0" x2="2289.6" y2="552.0" stroke="#5a5a5a" stroke-width="2.6"/>
<line x1="2110.0" y1="385.6" x2="2176.5" y2="385.6" stroke="#222" stroke-width="3.2" stroke-dasharray="3.2 3"/>
<line x1="2217.0" y1="385.6" x2="2289.6" y2="385.6" stroke="#222" stroke-width="3.2" stroke-dasharray="3.2 3"/>
<line x1="2110.0" y1="468.7" x2="2176.5" y2="468.7" stroke="#222" stroke-width="3.2" stroke-dasharray="3.2 3"/>
<line x1="2217.0" y1="468.7" x2="2289.6" y2="468.7" stroke="#222" stroke-width="3.2" stroke-dasharray="3.2 3"/>
<text x="2167.6" y="311.0" font-size="49.5" text-anchor="start" textLength="63.4" lengthAdjust="spacingAndGlyphs" >1.5</text>
<text x="2165.0" y="445.8" font-size="49.5" text-anchor="start" textLength="66.0" lengthAdjust="spacingAndGlyphs" >2.3</text>
<text x="2165.0" y="602.0" font-size="49.5" text-anchor="start" textLength="65.0" lengthAdjust="spacingAndGlyphs" >4.1</text>
<line x1="2842.7" y1="13" x2="2842.7" y2="991" stroke="#5a5a5a" stroke-width="2.4"/>
<line x1="2842.7" y1="35.1" x2="2856.5" y2="35.1" stroke="#111" stroke-width="3.2"/>
<text x="2873.5" y="49.7" font-size="49.5" text-anchor="start" textLength="106.0" lengthAdjust="spacingAndGlyphs" >7500</text>
<line x1="2842.7" y1="209.4" x2="2856.5" y2="209.4" stroke="#111" stroke-width="3.2"/>
<text x="2873.5" y="224.0" font-size="49.5" text-anchor="start" textLength="106.0" lengthAdjust="spacingAndGlyphs" >7600</text>
<line x1="2842.7" y1="379.1" x2="2856.5" y2="379.1" stroke="#111" stroke-width="3.2"/>
<text x="2873.5" y="393.7" font-size="49.5" text-anchor="start" textLength="106.0" lengthAdjust="spacingAndGlyphs" >7700</text>
<line x1="2842.7" y1="549.0" x2="2856.5" y2="549.0" stroke="#111" stroke-width="3.2"/>
<text x="2873.5" y="563.6" font-size="49.5" text-anchor="start" textLength="106.0" lengthAdjust="spacingAndGlyphs" >7800</text>
<line x1="2842.7" y1="714.0" x2="2856.5" y2="714.0" stroke="#111" stroke-width="3.2"/>
<text x="2873.5" y="728.6" font-size="49.5" text-anchor="start" textLength="106.0" lengthAdjust="spacingAndGlyphs" >7900</text>
<line x1="2842.7" y1="879.0" x2="2856.5" y2="879.0" stroke="#111" stroke-width="3.2"/>
<text x="2873.5" y="893.6" font-size="49.5" text-anchor="start" textLength="106.0" lengthAdjust="spacingAndGlyphs" >8000</text>
<text transform="translate(3062.4,569.2) rotate(-90)" font-size="49" textLength="226" lengthAdjust="spacingAndGlyphs">TWT/ms</text>
<path d="M2290.1,265.8 C2292.2,264.8 2294.8,261.1 2302.5,260.1 C2310.2,259.2 2323.2,259.2 2336.3,260.1 C2349.4,261.1 2364.4,264.4 2381.3,265.8 C2398.2,267.1 2418.8,267.1 2437.6,268.0 C2456.4,269.0 2480.8,271.4 2493.9,271.4 C2507.0,271.4 2503.3,268.2 2516.4,268.0 C2529.5,267.8 2559.6,270.6 2572.7,270.3 C2585.8,269.9 2588.5,266.1 2595.2,265.8 C2602.0,265.4 2607.2,266.9 2613.2,268.0 C2619.2,269.1 2623.0,272.5 2631.2,272.5 C2639.5,272.5 2650.0,269.3 2662.8,268.0 C2675.5,266.7 2696.5,265.2 2707.8,264.6 C2719.1,264.1 2719.1,263.5 2730.3,264.6 C2741.6,265.8 2764.1,269.7 2775.3,271.4 C2786.6,273.1 2786.6,271.6 2797.9,274.8 C2809.1,278.0 2835.4,287.9 2842.9,290.5 M2293.5,279.3 C2298.8,279.6 2310.4,279.3 2325.0,281.5 C2339.7,283.8 2362.6,289.0 2381.3,292.8 C2400.1,296.5 2420.7,301.0 2437.6,304.0 C2454.5,307.0 2467.6,310.0 2482.6,310.8 C2497.6,311.5 2516.4,310.0 2527.7,308.5 C2538.9,307.0 2540.8,305.2 2550.2,301.8 C2559.6,298.4 2572.7,291.5 2584.0,288.3 C2595.2,285.1 2604.6,283.4 2617.7,282.6 C2630.9,281.9 2647.8,282.5 2662.8,283.8 C2677.8,285.1 2692.8,288.7 2707.8,290.5 C2722.8,292.4 2737.8,292.8 2752.8,295.0 C2767.8,297.3 2782.8,302.3 2797.9,304.0 C2812.9,305.7 2835.4,305.0 2842.9,305.2 M2292.4,298.4 L2308.1,298.4 M2318.3,298.4 L2337.4,297.7 M2364.4,302.2 L2380.2,304.0 M2398.2,310.8 L2408.3,315.3 M2292.4,313.0 C2297.8,313.4 2312.1,314.4 2325.0,315.3 C2338.0,316.2 2356.9,317.2 2370.1,318.7 C2383.2,320.2 2392.6,321.9 2403.8,324.3 C2415.1,326.7 2424.5,330.7 2437.6,333.3 C2450.7,335.9 2467.6,339.7 2482.6,340.1 C2497.6,340.4 2512.7,337.8 2527.7,335.6 C2542.7,333.3 2559.6,329.2 2572.7,326.6 C2585.8,323.9 2591.5,321.3 2606.5,319.8 C2621.5,318.3 2642.1,318.1 2662.8,317.5 C2683.4,317.0 2711.5,316.4 2730.3,316.4 C2749.1,316.4 2762.2,315.9 2775.3,317.5 C2788.5,319.2 2800.9,323.6 2809.1,326.6 C2817.4,329.6 2819.2,332.9 2824.9,335.6 C2830.5,338.2 2839.9,341.2 2842.9,342.3 M2292.4,331.1 C2295.9,330.7 2308.3,328.6 2313.8,328.8 C2319.2,329.0 2319.4,330.5 2325.0,332.2 C2330.7,333.9 2337.0,336.9 2347.5,338.9 C2358.1,341.0 2381.3,343.6 2388.1,344.6 M2565.9,344.6 C2572.7,343.8 2590.3,341.6 2606.5,340.1 C2622.6,338.6 2645.9,336.7 2662.8,335.6 C2679.6,334.4 2692.8,333.5 2707.8,333.3 C2722.8,333.1 2737.8,333.3 2752.8,334.4 C2767.8,335.6 2784.7,337.2 2797.9,340.1 C2811.0,342.9 2824.1,347.2 2831.6,351.3 C2839.1,355.4 2841.0,362.6 2842.9,364.8 M2292.4,345.7 C2297.8,345.7 2312.1,344.0 2325.0,345.7 C2338.0,347.4 2355.1,352.3 2370.1,355.8 C2385.1,359.4 2396.3,363.7 2415.1,367.1 C2433.9,370.5 2463.9,374.2 2482.6,376.1 C2501.4,378.0 2514.5,378.5 2527.7,378.3 C2540.8,378.2 2553.2,376.6 2561.4,375.0 C2569.7,373.3 2574.6,369.3 2577.2,368.2 M2292.4,363.7 C2297.1,363.3 2314.3,361.3 2320.5,361.5 C2326.7,361.6 2325.0,363.1 2329.5,364.8 C2334.0,366.5 2338.5,369.9 2347.5,371.6 C2356.6,373.3 2377.6,374.4 2383.6,375.0 M2595.2,363.7 C2606.5,363.5 2640.2,363.1 2662.8,362.6 C2685.3,362.0 2710.4,360.7 2730.3,360.3 C2750.2,360.0 2773.5,360.3 2782.1,360.3 M2757.3,360.3 C2757.0,361.5 2759.6,365.2 2755.1,367.1 C2750.6,369.0 2741.9,369.9 2730.3,371.6 C2718.7,373.3 2700.3,375.9 2685.3,377.2 C2670.3,378.5 2647.8,379.1 2640.2,379.5 M2290.1,386.2 C2295.9,386.8 2311.7,387.9 2325.0,389.6 C2338.4,391.3 2355.1,394.1 2370.1,396.4 C2385.1,398.6 2400.1,402.0 2415.1,403.1 C2430.1,404.2 2445.1,403.9 2460.1,403.1 C2475.1,402.4 2491.3,399.7 2505.2,398.6 C2519.0,397.5 2537.1,396.7 2543.4,396.4 M2564.8,399.7 C2566.1,399.2 2567.6,397.5 2572.7,396.4 C2577.8,395.2 2584.0,393.3 2595.2,393.0 C2606.5,392.6 2625.2,393.3 2640.2,394.1 C2655.3,394.8 2672.1,397.1 2685.3,397.5 C2698.4,397.9 2707.8,398.4 2719.1,396.4 C2730.3,394.3 2737.8,390.2 2752.8,385.1 C2767.8,380.0 2799.7,369.1 2809.1,366.0 M2298.0,399.7 L2317.2,399.7 M2293.5,417.7 C2296.5,417.2 2306.6,415.5 2311.5,414.4 C2316.4,413.2 2320.9,411.5 2322.8,411.0 M2552.4,418.9 C2559.6,418.1 2580.6,415.9 2595.2,414.4 C2609.9,412.9 2625.2,411.0 2640.2,409.9 C2655.3,408.7 2672.1,408.5 2685.3,407.6 C2698.4,406.7 2705.9,406.5 2719.1,404.2 C2732.2,402.0 2748.7,396.5 2764.1,394.1 C2779.5,391.7 2803.5,390.3 2811.4,389.6 M2347.5,431.2 C2351.3,430.7 2363.3,429.2 2370.1,427.9 C2376.8,426.6 2383.6,424.4 2388.1,423.4 C2392.6,422.3 2391.1,421.6 2397.1,421.6 C2403.1,421.6 2419.6,423.1 2424.1,423.4 M2415.1,444.8 C2418.8,444.2 2429.4,441.9 2437.6,441.4 C2445.9,440.9 2460.1,441.8 2464.6,441.8 M2491.6,438.0 C2497.6,438.4 2514.2,439.5 2527.7,440.3 C2541.2,441.0 2557.7,441.8 2572.7,442.5 C2587.7,443.3 2602.7,444.0 2617.7,444.8 C2632.7,445.5 2649.6,446.8 2662.8,447.0 C2675.9,447.2 2685.3,447.0 2696.5,445.9 C2707.8,444.8 2719.1,442.9 2730.3,440.3 C2741.6,437.6 2750.9,434.4 2764.1,430.1 C2777.2,425.8 2796.0,418.7 2809.1,414.4 C2822.2,410.0 2837.3,405.9 2842.9,404.2 M2293.5,448.1 L2316.0,450.4 M2320.5,453.8 C2322.8,454.1 2330.7,454.9 2334.0,456.0 C2337.4,457.1 2339.7,459.8 2340.8,460.5 M2353.2,462.8 C2356.0,463.3 2364.6,464.3 2370.1,466.1 C2375.5,468.0 2380.9,472.5 2385.8,474.0 C2390.7,475.5 2397.1,475.0 2399.3,475.2 M2426.4,475.2 C2432.0,474.2 2448.1,470.7 2460.1,469.5 C2472.1,468.4 2489.0,467.8 2498.4,468.4 C2507.8,469.0 2504.0,471.0 2516.4,472.9 C2528.8,474.8 2559.6,478.7 2572.7,479.7 C2585.8,480.6 2584.0,479.3 2595.2,478.5 C2606.5,477.8 2632.7,475.7 2640.2,475.2 M2660.5,474.0 L2687.5,472.9 M2703.3,470.7 L2750.6,467.9 M2824.9,466.1 L2842.9,469.5 M2290.1,478.5 L2303.6,477.9 M2353.2,494.3 L2380.2,488.7 M2451.1,489.1 L2472.5,489.1 M2578.3,489.1 L2602.0,489.8 M2694.3,485.3 L2712.3,484.2 M2749.4,484.2 L2773.1,476.3 M2784.3,480.8 L2802.4,479.7 M2820.4,481.9 L2842.9,481.9 M2406.1,499.9 C2407.6,499.5 2410.4,497.7 2415.1,497.7 C2419.8,497.6 2431.0,499.2 2434.2,499.5 M2365.6,511.2 L2377.9,510.1 M2386.9,520.2 L2425.2,517.9 M2471.4,515.7 C2475.1,514.6 2486.4,510.4 2493.9,508.9 C2501.4,507.4 2508.9,507.1 2516.4,506.7 C2523.9,506.2 2535.2,506.3 2538.9,506.2 M2554.7,512.3 C2557.7,512.1 2566.3,510.6 2572.7,511.2 C2579.1,511.7 2589.6,514.9 2593.0,515.7 M2653.8,502.2 L2674.0,503.3 M2719.1,503.7 L2740.4,505.6 M2769.7,506.7 L2800.1,507.8 M2818.1,499.9 L2842.9,495.4 M2612.1,522.4 L2626.7,522.0 M2653.8,517.9 L2674.0,515.2 M2693.2,520.2 L2734.8,516.8 M2507.4,534.8 C2510.0,534.3 2517.9,532.4 2523.2,531.4 C2528.4,530.5 2536.3,529.6 2538.9,529.2 M2559.2,530.3 C2561.4,530.9 2566.7,531.6 2572.7,533.7 C2578.7,535.8 2589.6,540.8 2595.2,542.7 C2600.8,544.6 2591.5,544.2 2606.5,545.0 C2621.5,545.7 2664.6,546.5 2685.3,547.2 C2705.9,548.0 2719.1,548.5 2730.3,549.5 C2741.6,550.4 2749.1,552.3 2752.8,552.8 M2292.4,549.5 C2301.6,549.1 2330.8,547.2 2347.5,547.2 C2364.2,547.2 2377.6,549.5 2392.6,549.5 C2407.6,549.5 2419.8,547.5 2437.6,547.2 C2455.4,546.9 2489.2,547.6 2499.5,547.7 M2827.1,551.7 L2842.9,551.7 M2752.0,552.9 C2759.1,555.4 2778.9,563.0 2794.1,568.0 C2809.3,573.1 2835.0,580.7 2843.2,583.2 M2290.5,569.2 C2300.4,569.6 2328.5,570.2 2350.1,571.5 C2371.7,572.9 2396.8,576.2 2420.2,577.4 C2443.6,578.6 2466.9,579.1 2490.3,578.6 C2513.7,578.0 2537.1,575.6 2560.4,573.9 C2583.8,572.1 2607.2,569.2 2630.5,568.0 C2653.9,566.9 2683.1,566.1 2700.6,566.9 C2718.2,567.7 2724.0,570.2 2735.7,572.7 C2747.4,575.2 2759.1,578.6 2770.7,582.1 C2782.4,585.6 2793.7,590.8 2805.8,593.7 C2817.9,596.7 2836.9,598.6 2843.2,599.6 M2290.5,594.9 C2300.4,595.3 2328.5,595.9 2350.1,597.3 C2371.7,598.6 2397.2,601.8 2420.2,603.1 C2443.2,604.4 2476.7,604.7 2488.0,605.0 M2506.7,605.0 C2511.7,603.9 2524.2,600.4 2537.1,598.4 C2549.9,596.5 2572.1,593.7 2583.8,593.3 C2595.5,592.8 2599.8,593.7 2607.2,595.6 C2614.6,597.6 2624.7,603.4 2628.2,605.0 M2660.9,602.6 L2680.8,602.6 M2700.6,598.4 C2702.6,598.0 2706.1,596.0 2712.3,595.6 C2718.5,595.2 2733.7,596.0 2738.0,596.1 M2755.5,599.6 C2757.3,598.8 2762.0,594.5 2766.1,594.9 C2770.2,595.3 2777.7,600.8 2780.1,601.9 M2551.1,620.6 C2556.5,620.0 2570.5,616.9 2583.8,617.1 C2597.0,617.3 2614.9,619.8 2630.5,621.8 C2646.1,623.7 2661.7,628.0 2677.3,628.8 C2692.8,629.6 2708.4,628.4 2724.0,626.5 C2739.6,624.5 2758.1,619.6 2770.7,617.1 C2783.4,614.6 2795.1,612.2 2799.9,611.3 M2290.5,626.5 L2334.9,626.5 M2808.1,625.3 C2810.9,625.1 2818.6,623.7 2824.5,624.1 C2830.3,624.5 2840.1,627.0 2843.2,627.6 M2370.0,631.1 C2372.9,630.8 2381.1,628.5 2387.5,629.3 C2393.9,630.0 2399.2,633.6 2408.5,635.8 C2417.9,638.1 2426.1,641.3 2443.6,642.8 C2461.1,644.4 2490.3,644.4 2513.7,645.2 C2537.1,645.9 2570.2,647.4 2583.8,647.5 C2597.4,647.6 2589.6,645.2 2595.5,645.6 C2601.3,646.0 2605.2,649.5 2618.8,649.8 C2632.5,650.1 2653.9,648.7 2677.3,647.5 C2700.6,646.3 2740.4,645.2 2759.1,642.8 C2777.7,640.5 2784.4,635.0 2789.4,633.5 M2290.5,651.0 C2293.4,651.2 2302.0,651.2 2308.0,652.2 C2314.1,653.1 2323.6,656.1 2326.7,656.8 M2329.1,668.5 L2402.7,667.4 M2454.1,665.0 C2460.1,664.5 2478.4,662.2 2490.3,662.0 C2502.2,661.8 2515.6,662.0 2525.4,663.9 C2535.1,665.7 2539.0,670.1 2548.7,673.2 C2558.5,676.3 2574.1,680.6 2583.8,682.5 C2593.5,684.5 2599.4,685.2 2607.2,684.9 C2614.9,684.6 2626.6,681.4 2630.5,680.7 M2665.6,679.7 C2673.4,679.0 2698.7,677.4 2712.3,675.5 C2725.9,673.7 2735.7,670.5 2747.4,668.5 C2759.1,666.6 2774.6,665.6 2782.4,663.9 C2790.2,662.1 2787.9,659.4 2794.1,658.0 C2800.3,656.6 2815.5,656.1 2819.8,655.7 M2513.7,687.2 C2517.6,686.2 2531.6,682.2 2537.1,681.4 C2542.5,680.6 2544.8,682.4 2546.4,682.5 M2400.3,692.6 L2456.4,688.4 M2298.7,690.3 C2300.6,690.1 2306.5,688.7 2310.4,689.6 C2314.3,690.4 2316.0,694.0 2322.1,695.4 C2328.1,696.8 2342.5,697.7 2346.6,698.2 M2645.7,689.6 L2680.8,688.4 M2763.7,694.2 C2768.8,692.3 2785.1,685.3 2794.1,682.5 C2803.1,679.8 2809.9,679.6 2817.5,677.9 C2825.1,676.1 2836.0,673.0 2839.7,672.0 M2507.8,704.7 C2510.8,704.6 2518.6,702.6 2525.4,703.6 C2532.2,704.6 2544.8,709.4 2548.7,710.6 M2544.1,700.1 C2550.7,699.6 2573.3,697.2 2583.8,697.0 C2594.3,696.8 2600.0,697.7 2607.2,698.9 C2614.4,700.1 2623.7,703.4 2627.0,704.3 M2696.0,704.7 L2721.7,704.7 M2657.4,717.6 C2660.7,716.8 2670.6,713.7 2677.3,712.9 C2683.9,712.1 2693.8,712.9 2697.1,712.9 M2708.8,726.9 C2713.3,726.2 2725.4,725.4 2735.7,722.3 C2746.0,719.2 2759.1,712.9 2770.7,708.3 C2782.4,703.6 2794.3,697.7 2805.8,694.2 C2817.3,690.7 2834.0,688.4 2839.7,687.2 M2290.5,714.1 L2302.2,714.1 M2310.4,714.1 C2312.1,713.9 2317.4,712.1 2320.9,712.9 C2324.4,713.7 2327.5,716.8 2331.4,718.8 C2335.3,720.7 2342.1,723.6 2344.3,724.6 M2351.3,731.6 C2353.0,731.4 2358.1,729.7 2361.8,730.5 C2365.5,731.2 2368.8,734.2 2373.5,736.3 C2378.1,738.4 2387.1,742.1 2389.8,743.3 M2394.5,726.9 C2398.8,728.7 2412.0,734.5 2420.2,737.5 C2428.4,740.4 2437.5,742.9 2443.6,744.5 C2449.6,746.0 2454.3,746.4 2456.4,746.8 M2576.8,729.3 L2616.5,727.4 M2822.1,726.9 L2839.7,726.5 M2290.5,741.0 C2293.0,741.0 2299.5,739.6 2305.7,741.0 C2311.9,742.3 2324.2,747.8 2327.9,749.1 M2505.5,738.6 C2508.8,739.0 2518.2,739.4 2525.4,741.0 C2532.6,742.5 2540.6,745.2 2548.7,748.0 C2556.9,750.8 2570.2,756.2 2574.4,757.8 M2586.1,757.8 C2591.6,756.5 2610.3,752.1 2618.8,750.3 C2627.4,748.5 2631.3,747.4 2637.5,746.8 C2643.8,746.2 2653.1,746.8 2656.2,746.8 M2773.1,738.2 C2776.6,738.3 2787.1,738.2 2794.1,739.1 C2801.1,740.0 2811.6,742.6 2815.1,743.3 M2479.8,755.0 C2481.6,755.5 2486.6,757.3 2490.3,757.8 C2494.0,758.3 2500.1,757.8 2502.0,757.8 M2687.8,756.9 C2693.8,756.2 2712.5,753.0 2724.0,752.7 C2735.5,752.3 2751.3,754.2 2756.7,754.5 M2290.5,758.5 C2293.4,758.5 2301.2,757.7 2308.0,758.5 C2314.9,759.3 2327.5,762.4 2331.4,763.2 M2355.9,763.9 L2367.6,767.1 M2378.1,760.4 L2406.2,760.1 M2624.7,763.9 C2630.3,763.9 2650.4,763.2 2658.6,763.9 C2666.7,764.5 2671.2,767.2 2673.8,767.8 M2770.7,763.2 L2789.4,766.0 M2417.9,773.2 C2420.6,772.7 2427.6,769.0 2434.2,770.2 C2440.9,771.3 2453.7,778.4 2457.6,780.0 M2484.5,781.9 C2489.3,781.3 2505.7,779.8 2513.7,778.4 C2521.7,776.9 2525.2,772.6 2532.4,773.2 C2539.6,773.9 2552.8,780.8 2556.9,782.3 M2567.0,772.5 C2570.5,772.1 2580.6,769.9 2588.5,770.2 C2596.3,770.5 2609.9,773.7 2614.2,774.4 M2295.2,779.5 C2297.3,779.3 2303.8,777.0 2308.0,777.9 C2312.3,778.8 2318.8,783.7 2320.9,784.9 M2345.4,786.5 C2347.4,786.0 2352.4,782.8 2357.1,783.0 C2361.8,783.3 2370.7,787.3 2373.5,788.2 M2378.1,787.7 C2379.3,786.7 2382.2,783.2 2385.2,781.9 C2388.1,780.5 2393.9,779.9 2395.7,779.5 M2636.8,784.2 L2658.6,781.9 M2674.9,785.4 C2678.4,784.0 2689.3,777.8 2696.0,777.2 C2702.6,776.6 2707.4,779.3 2714.7,781.9 C2721.9,784.4 2735.1,790.6 2739.2,792.4 M2753.2,797.1 C2755.4,797.6 2760.8,801.1 2766.1,800.6 C2771.3,800.0 2778.1,796.3 2784.8,793.5 C2791.4,790.8 2802.3,785.8 2805.8,784.2 M2290.5,802.9 L2310.4,802.2 M2326.7,805.9 C2329.1,805.0 2334.7,800.5 2340.8,800.6 C2346.8,800.6 2359.3,805.4 2363.0,806.4 M2380.5,801.3 C2383.6,800.0 2393.3,794.6 2399.2,793.5 C2405.0,792.5 2412.8,794.9 2415.5,795.2 M2506.7,811.1 C2509.4,810.0 2518.0,805.1 2523.0,804.5 C2528.1,803.9 2533.7,805.7 2537.1,807.6 C2540.4,809.4 2541.9,814.4 2542.9,815.7 M2546.4,801.3 C2551.5,801.7 2569.8,802.4 2576.8,804.1 C2583.8,805.7 2583.0,808.9 2588.5,811.1 C2593.9,813.2 2606.0,815.9 2609.5,816.9 M2683.1,808.7 L2719.3,808.7 M2825.6,799.4 L2837.3,799.4 M2312.7,825.1 C2315.1,824.1 2321.7,820.1 2326.7,819.3 C2331.8,818.4 2338.8,818.8 2343.1,820.0 C2347.4,821.1 2350.9,825.2 2352.4,826.3 M2382.8,825.1 L2412.0,814.6 M2438.9,814.6 C2442.0,814.3 2451.8,811.8 2457.6,812.9 C2463.4,814.1 2471.2,820.1 2474.0,821.6 M2489.1,829.8 C2491.7,828.0 2499.5,819.8 2504.3,819.3 C2509.2,818.7 2516.0,825.1 2518.4,826.3 M2648.1,816.9 C2649.4,816.3 2653.3,813.4 2656.2,813.4 C2659.2,813.4 2664.0,816.3 2665.6,816.9 M2782.4,812.9 L2799.9,807.1 M2816.3,818.1 L2832.7,818.1 M2290.5,836.1 L2319.7,835.6 M2329.1,841.9 L2350.1,840.3 M2537.1,832.1 C2540.2,831.3 2550.3,827.5 2555.7,827.4 C2561.2,827.4 2567.4,830.9 2569.8,831.6 M2618.8,832.1 L2637.5,825.6 M2648.1,837.9 L2667.9,837.9 M2727.5,835.6 L2750.9,830.9 M2767.2,827.4 L2776.6,820.4 M2815.1,835.6 L2828.0,834.9 M2294.0,854.3 C2295.6,853.9 2299.7,851.9 2303.4,852.0 C2307.1,852.1 2314.1,854.5 2316.2,855.0 M2330.2,850.3 L2354.8,851.5 M2359.5,856.6 L2377.0,856.6 M2391.0,860.6 C2392.8,859.8 2395.9,856.5 2401.5,855.9 C2407.2,855.4 2421.0,857.1 2424.9,857.3 M2433.1,855.9 C2436.8,856.6 2449.2,860.5 2455.3,859.7 C2461.3,858.8 2464.8,851.7 2469.3,850.8 C2473.8,849.9 2480.0,853.7 2482.1,854.3 M2497.3,854.3 C2498.9,853.6 2503.4,850.1 2506.7,850.3 C2510.0,850.5 2515.4,854.6 2517.2,855.5 M2555.7,857.3 C2557.7,857.8 2562.8,860.7 2567.4,860.1 C2572.1,859.6 2579.7,855.1 2583.8,854.3 C2587.9,853.5 2590.6,855.3 2592.0,855.5 M2594.3,862.5 C2596.4,861.5 2602.3,858.2 2607.2,856.6 C2612.0,855.1 2618.8,852.6 2623.5,853.1 C2628.2,853.6 2633.3,858.6 2635.2,859.7 M2663.2,862.0 C2666.4,861.1 2676.1,856.6 2681.9,856.6 C2687.8,856.6 2695.6,861.1 2698.3,862.0 M2764.9,866.7 C2767.4,866.0 2775.4,862.7 2780.1,862.5 C2784.8,862.3 2790.8,865.0 2792.9,865.5 M2809.3,857.8 L2826.8,853.1 M2812.8,877.7 L2828.0,875.3" fill="none" stroke="#000" stroke-width="3.4" stroke-linecap="round" stroke-linejoin="round"/>
<polygon points="996.7,1148 1093.8,1148 1093.8,1212 1140,1212 1045,1252.8 950,1212 996.7,1212" fill="#4065ad" stroke="#2f528f" stroke-width="3"/>
<rect x="658.5" y="1298.5" width="771" height="451" fill="#ffe599" stroke="#c9c9c9" stroke-width="3"/>
<rect x="658.5" y="1749.5" width="771" height="120" fill="#a6a6a6" stroke="#c9c9c9" stroke-width="3"/>
<line x1="657" y1="1298.5" x2="1431" y2="1298.5" stroke="#000" stroke-width="3"/>
<line x1="657" y1="1750" x2="1431" y2="1750" stroke="#000" stroke-width="3.4"/>
<line x1="657" y1="1376.4" x2="1431" y2="1376.4" stroke="#000" stroke-width="3" stroke-dasharray="16.5 11.2" stroke-dashoffset="7.2"/>
<line x1="657" y1="1451.5" x2="1431" y2="1451.5" stroke="#000" stroke-width="3" stroke-dasharray="16.5 11.2" stroke-dashoffset="7.2"/>
<line x1="657" y1="1527.5" x2="1431" y2="1527.5" stroke="#000" stroke-width="3" stroke-dasharray="16.5 11.2" stroke-dashoffset="7.2"/>
<line x1="657" y1="1677.5" x2="1431" y2="1677.5" stroke="#000" stroke-width="3" stroke-dasharray="16.5 11.2" stroke-dashoffset="7.2"/>
<line x1="795.3" y1="1298.5" x2="795.3" y2="1376.4" stroke="#000" stroke-width="3"/><line x1="787.8" y1="1376.4" x2="802.8" y2="1376.4" stroke="#000" stroke-width="3"/>
<line x1="852.4" y1="1376.4" x2="852.4" y2="1451.5" stroke="#000" stroke-width="3"/><line x1="844.9" y1="1376.4" x2="859.9" y2="1376.4" stroke="#000" stroke-width="3"/><line x1="844.9" y1="1451.5" x2="859.9" y2="1451.5" stroke="#000" stroke-width="3"/>
<line x1="924.8" y1="1451.5" x2="924.8" y2="1527.5" stroke="#000" stroke-width="3"/><line x1="917.3" y1="1451.5" x2="932.3" y2="1451.5" stroke="#000" stroke-width="3"/><line x1="917.3" y1="1527.5" x2="932.3" y2="1527.5" stroke="#000" stroke-width="3"/>
<line x1="1065.5" y1="1677.5" x2="1065.5" y2="1749.3" stroke="#000" stroke-width="3"/><line x1="1058.0" y1="1677.5" x2="1073.0" y2="1677.5" stroke="#000" stroke-width="3"/>
<line x1="1127.4" y1="1749.3" x2="1127.4" y2="1870" stroke="#000" stroke-width="3"/>
<line x1="977.4" y1="1537.5" x2="977.4" y2="1677.5" stroke="#000" stroke-width="2.6" stroke-dasharray="2.6 11.4" stroke-linecap="round"/>
<text x="816.5" y="1350.6" font-size="47.0" text-anchor="start" font-style="italic" textLength="25.0" lengthAdjust="spacingAndGlyphs" >c</text><text x="842.0" y="1357.6" font-size="33.0" text-anchor="start" >1</text>
<text x="873.5" y="1429.5" font-size="47.0" text-anchor="start" font-style="italic" textLength="25.0" lengthAdjust="spacingAndGlyphs" >c</text><text x="899.0" y="1436.5" font-size="33.0" text-anchor="start" >2</text>
<text x="945.5" y="1503.5" font-size="47.0" text-anchor="start" font-style="italic" textLength="25.0" lengthAdjust="spacingAndGlyphs" >c</text><text x="971.0" y="1510.5" font-size="33.0" text-anchor="start" >3</text>
<text x="1086.5" y="1724.5" font-size="47.0" text-anchor="start" font-style="italic" textLength="25.0" lengthAdjust="spacingAndGlyphs" >c</text><text x="1111.0" y="1731.5" font-size="33.0" text-anchor="start" font-style="italic" >n</text>
<text x="1148.5" y="1820.3" font-size="47.0" text-anchor="start" font-style="italic" textLength="25.0" lengthAdjust="spacingAndGlyphs" >c</text><text x="1174.0" y="1827.3" font-size="33.0" text-anchor="start" >b</text>
<path d="M627.3,1301 C606,1312 589,1328 587.7,1352 L587.7,1694 C589,1718 606,1734 627.3,1745 M570,1520.8 L587.7,1520.8" fill="none" stroke="#000" stroke-width="3.4"/>
<text x="366.0" y="1510.0" font-size="49.5" text-anchor="start" textLength="191.0" lengthAdjust="spacingAndGlyphs" >若干均匀</text>
<text x="389.6" y="1564.0" font-size="49.5" text-anchor="start" textLength="143.4" lengthAdjust="spacingAndGlyphs" >沉积层</text>
<text x="1450.0" y="1492.0" font-size="49.5" text-anchor="start" textLength="193.0" lengthAdjust="spacingAndGlyphs" >等效处理</text>
<polygon points="1447.5,1542.7 1573,1542.7 1573,1521.8 1647.6,1563.6 1573,1605.4 1573,1584.5 1447.5,1584.5" fill="#4065ad" stroke="#2f528f" stroke-width="3"/>
<rect x="1760" y="1487.3" width="1220" height="224" fill="#ffe599" stroke="#c9c9c9" stroke-width="3"/>
<rect x="1760" y="1711.4" width="1220" height="159.5" fill="#a6a6a6" stroke="#c9c9c9" stroke-width="3"/>
<line x1="1758.7" y1="1487.3" x2="2982.5" y2="1487.3" stroke="#000" stroke-width="2.8"/>
<line x1="1758.7" y1="1711.4" x2="2982.5" y2="1711.4" stroke="#000" stroke-width="2.8"/>
<path d="M1876.2,1244.6 C1910,1333.6 1969.7,1413.4 2036,1481" fill="none" stroke="#000" stroke-width="3.2"/>
<polygon points="2039.5,1487.3 2014.3,1467.7 2027.6,1468.2 2032.9,1456" fill="#000"/>
<path d="M1876.2,1244.6 C2002.3,1346 2139.8,1446.6 2300,1484.5" fill="none" stroke="#000" stroke-width="3.2"/>
<polygon points="2311,1487.3 2279.2,1490.9 2289.1,1482 2284.5,1469.5" fill="#000"/>
<path d="M2311,1487.3 C2470.4,1441.6 2631.6,1372.8 2745,1262" fill="none" stroke="#000" stroke-width="3.2"/>
<path d="M2594,1490 C2668.5,1432.2 2729.4,1353.2 2752,1275" fill="none" stroke="#000" stroke-width="3.2"/>
<polygon points="2760,1248 2764.6,1276.8 2755.4,1267.7 2743.2,1271.8" fill="#000"/>
<polygon points="2756,1252 2745.5,1275 2743.7,1265.2 2733.8,1264.1" fill="#000"/>
<path d="M2039.0,1487.0 C2042.8,1493.1 2051.9,1513.6 2061.5,1523.6 C2071.1,1533.6 2082.9,1538.4 2096.5,1547.0 C2110.1,1555.6 2127.5,1566.5 2143.0,1575.0 C2158.5,1583.5 2174.1,1591.4 2189.6,1598.0 C2205.1,1604.6 2222.4,1610.1 2236.0,1614.4 C2249.6,1618.7 2259.0,1621.6 2271.0,1623.7 C2283.0,1625.8 2298.3,1626.6 2308.0,1627.2 C2317.7,1627.8 2317.7,1628.4 2329.0,1627.2 C2340.3,1626.0 2360.4,1623.3 2376.0,1620.0 C2391.6,1616.7 2407.0,1612.6 2422.5,1607.4 C2438.0,1602.2 2453.5,1596.2 2469.0,1588.8 C2484.5,1581.4 2500.2,1573.1 2515.7,1563.0 C2531.2,1552.9 2548.4,1540.2 2562.0,1528.0 C2575.6,1515.8 2591.2,1496.3 2597.0,1490.0" fill="none" stroke="#000" stroke-width="3" stroke-dasharray="14 9"/>
<path d="M2039.0,1487.0 C2040.8,1490.0 2044.3,1497.0 2050.0,1505.0 C2055.7,1513.0 2063.3,1523.3 2073.0,1535.0 C2082.7,1546.7 2096.3,1561.8 2108.0,1575.0 C2119.7,1588.2 2129.4,1600.9 2143.0,1614.4 C2156.6,1628.0 2174.1,1644.7 2189.6,1656.3 C2205.1,1667.9 2222.4,1676.9 2236.0,1684.3 C2249.6,1691.7 2259.3,1696.1 2271.0,1700.6 C2282.7,1705.0 2296.3,1710.0 2306.0,1711.0 C2315.7,1712.0 2317.3,1710.1 2329.0,1706.4 C2340.7,1702.7 2360.4,1696.2 2376.0,1689.0 C2391.6,1681.8 2407.0,1672.6 2422.5,1663.3 C2438.0,1654.0 2453.5,1644.7 2469.0,1633.0 C2484.5,1621.3 2502.1,1605.8 2515.7,1593.4 C2529.3,1581.0 2537.1,1575.7 2550.7,1558.5 C2564.2,1541.3 2589.3,1501.4 2597.0,1490.0" fill="none" stroke="#000" stroke-width="3" stroke-dasharray="14 9"/>
<polygon points="2309,1627.2 2281,1638.2 2288,1627.2 2281,1616.2" fill="#000"/>
<polygon points="2307,1710.5 2277.2,1714.4 2286.6,1705.4 2282.5,1693" fill="#000"/>
<path d="M1986.5,1487.3 A53.0,53.0 0 0 1 2001.8,1450.0" fill="none" stroke="#000" stroke-width="3"/>
<path d="M2203.0,1487.3 A108.0,108.0 0 0 1 2206.9,1458.5" fill="none" stroke="#000" stroke-width="3"/>
<path d="M2095.5,1489.0 A56.0,56.0 0 0 1 2070.7,1533.8" fill="none" stroke="#000" stroke-width="3"/>
<line x1="2070" y1="1530" x2="2078" y2="1520" stroke="#000" stroke-width="3"/>
<circle cx="1876.2" cy="1244.6" r="6.2" fill="#c00000" stroke="#000" stroke-width="2.6"/>
<circle cx="2761.4" cy="1244.6" r="6.2" fill="#ff0000" stroke="#000" stroke-width="2.6"/>
<line x1="2536" y1="1264" x2="2590" y2="1314" stroke="#000" stroke-width="3.2"/>
<polygon points="2602,1325 2570.4,1312.1 2584.4,1308.7 2586.6,1294.5" fill="#000"/>
<line x1="2767.6" y1="1371.5" x2="2718" y2="1389.5" stroke="#000" stroke-width="3.2"/>
<polygon points="2702,1395 2728.1,1372.9 2724.6,1386.9 2736.2,1395.5" fill="#000"/>
<line x1="2646.6" y1="1515" x2="2646.6" y2="1684" stroke="#000" stroke-width="3" stroke-dasharray="12 7"/>
<polygon points="2646.6,1489 2659.6,1520 2646.6,1512.2 2633.6,1520" fill="#000"/>
<polygon points="2646.6,1710.7 2633.6,1679.7 2646.6,1687.5 2659.6,1679.7" fill="#000"/>
<line x1="2707.6" y1="1488.8" x2="2801.6" y2="1710.7" stroke="#000" stroke-width="3.2"/>
<line x1="2899.2" y1="1710.7" x2="2900.8" y2="1870.7" stroke="#000" stroke-width="3.2"/>
<circle cx="2707.6" cy="1488.8" r="9" fill="#000"/>
<circle cx="2801.6" cy="1710.7" r="9" fill="#000"/>
<circle cx="2899.2" cy="1710.7" r="9" fill="#000"/>
<circle cx="2900.8" cy="1870.7" r="9" fill="#000"/>
<text x="1829.0" y="1220.0" font-size="49.5" text-anchor="start" textLength="94.0" lengthAdjust="spacingAndGlyphs" >声源</text>
<text x="2689.7" y="1220.0" font-size="49.5" text-anchor="start" textLength="142.3" lengthAdjust="spacingAndGlyphs" >水听器</text>
<text x="2311.0" y="1247.5" font-size="49.5" text-anchor="start" textLength="291.0" lengthAdjust="spacingAndGlyphs" >表层海底路径</text>
<text x="2782.7" y="1378.0" font-size="49.5" text-anchor="start" textLength="288.0" lengthAdjust="spacingAndGlyphs" >深层海底路径</text>
<text x="1797.0" y="1438.5" font-size="49.5" text-anchor="start" textLength="94.0" lengthAdjust="spacingAndGlyphs" >海水</text>
<text x="1795.4" y="1617.0" font-size="49.5" text-anchor="start" textLength="142.6" lengthAdjust="spacingAndGlyphs" >沉积层</text>
<text x="1795.4" y="1809.5" font-size="49.5" text-anchor="start" textLength="142.6" lengthAdjust="spacingAndGlyphs" >基底层</text>
<text x="1926.0" y="1468.0" font-size="47.0" text-anchor="start" font-style="italic" >θ</text><text x="1949.0" y="1474.5" font-size="33.0" text-anchor="start" >w</text>
<text x="2114.0" y="1470.5" font-size="47.0" text-anchor="start" font-style="italic" >θ</text><text x="2137.5" y="1476.5" font-size="33.0" text-anchor="start" >c</text>
<text x="2108.0" y="1535.0" font-size="47.0" text-anchor="start" font-style="italic" >θ</text><text x="2131.5" y="1543.0" font-size="33.0" text-anchor="start" textLength="52.0" lengthAdjust="spacingAndGlyphs" >sed</text>
<text x="2835.0" y="1462.0" font-size="47.0" text-anchor="start" font-style="italic" textLength="25.0" lengthAdjust="spacingAndGlyphs" >c</text><text x="2862.5" y="1469.0" font-size="33.0" text-anchor="start" >w</text>
<text x="2905.0" y="1462.0" font-size="47.0" text-anchor="start" font-style="italic" >ρ</text><text x="2930.5" y="1469.0" font-size="33.0" text-anchor="start" >w</text>
<text x="2738.3" y="1521.8" font-size="47.0" text-anchor="start" font-style="italic" textLength="25.0" lengthAdjust="spacingAndGlyphs" >c</text><text x="2766.0" y="1528.5" font-size="33.0" text-anchor="start" textLength="117.0" lengthAdjust="spacingAndGlyphs" >sed-top</text>
<text x="2878.0" y="1614.0" font-size="47.0" text-anchor="start" font-style="italic" >ρ</text><text x="2903.5" y="1617.0" font-size="33.0" text-anchor="start" textLength="53.5" lengthAdjust="spacingAndGlyphs" >sed</text>
<text x="2825.5" y="1678.4" font-size="47.0" text-anchor="start" font-style="italic" textLength="25.0" lengthAdjust="spacingAndGlyphs" >c</text><text x="2848.5" y="1685.0" font-size="33.0" text-anchor="start" textLength="120.0" lengthAdjust="spacingAndGlyphs" >sed-bot</text>
<text x="2604.0" y="1618.7" font-size="47.0" text-anchor="start" font-style="italic" >h</text>
<text x="2780.0" y="1798.0" font-size="47.0" text-anchor="start" font-style="italic" textLength="25.0" lengthAdjust="spacingAndGlyphs" >c</text><text x="2801.5" y="1804.5" font-size="33.0" text-anchor="start" >b</text>
<text x="2920.0" y="1798.0" font-size="47.0" text-anchor="start" font-style="italic" >ρ</text><text x="2943.5" y="1804.5" font-size="33.0" text-anchor="start" >b</text>
</svg></body></html>
